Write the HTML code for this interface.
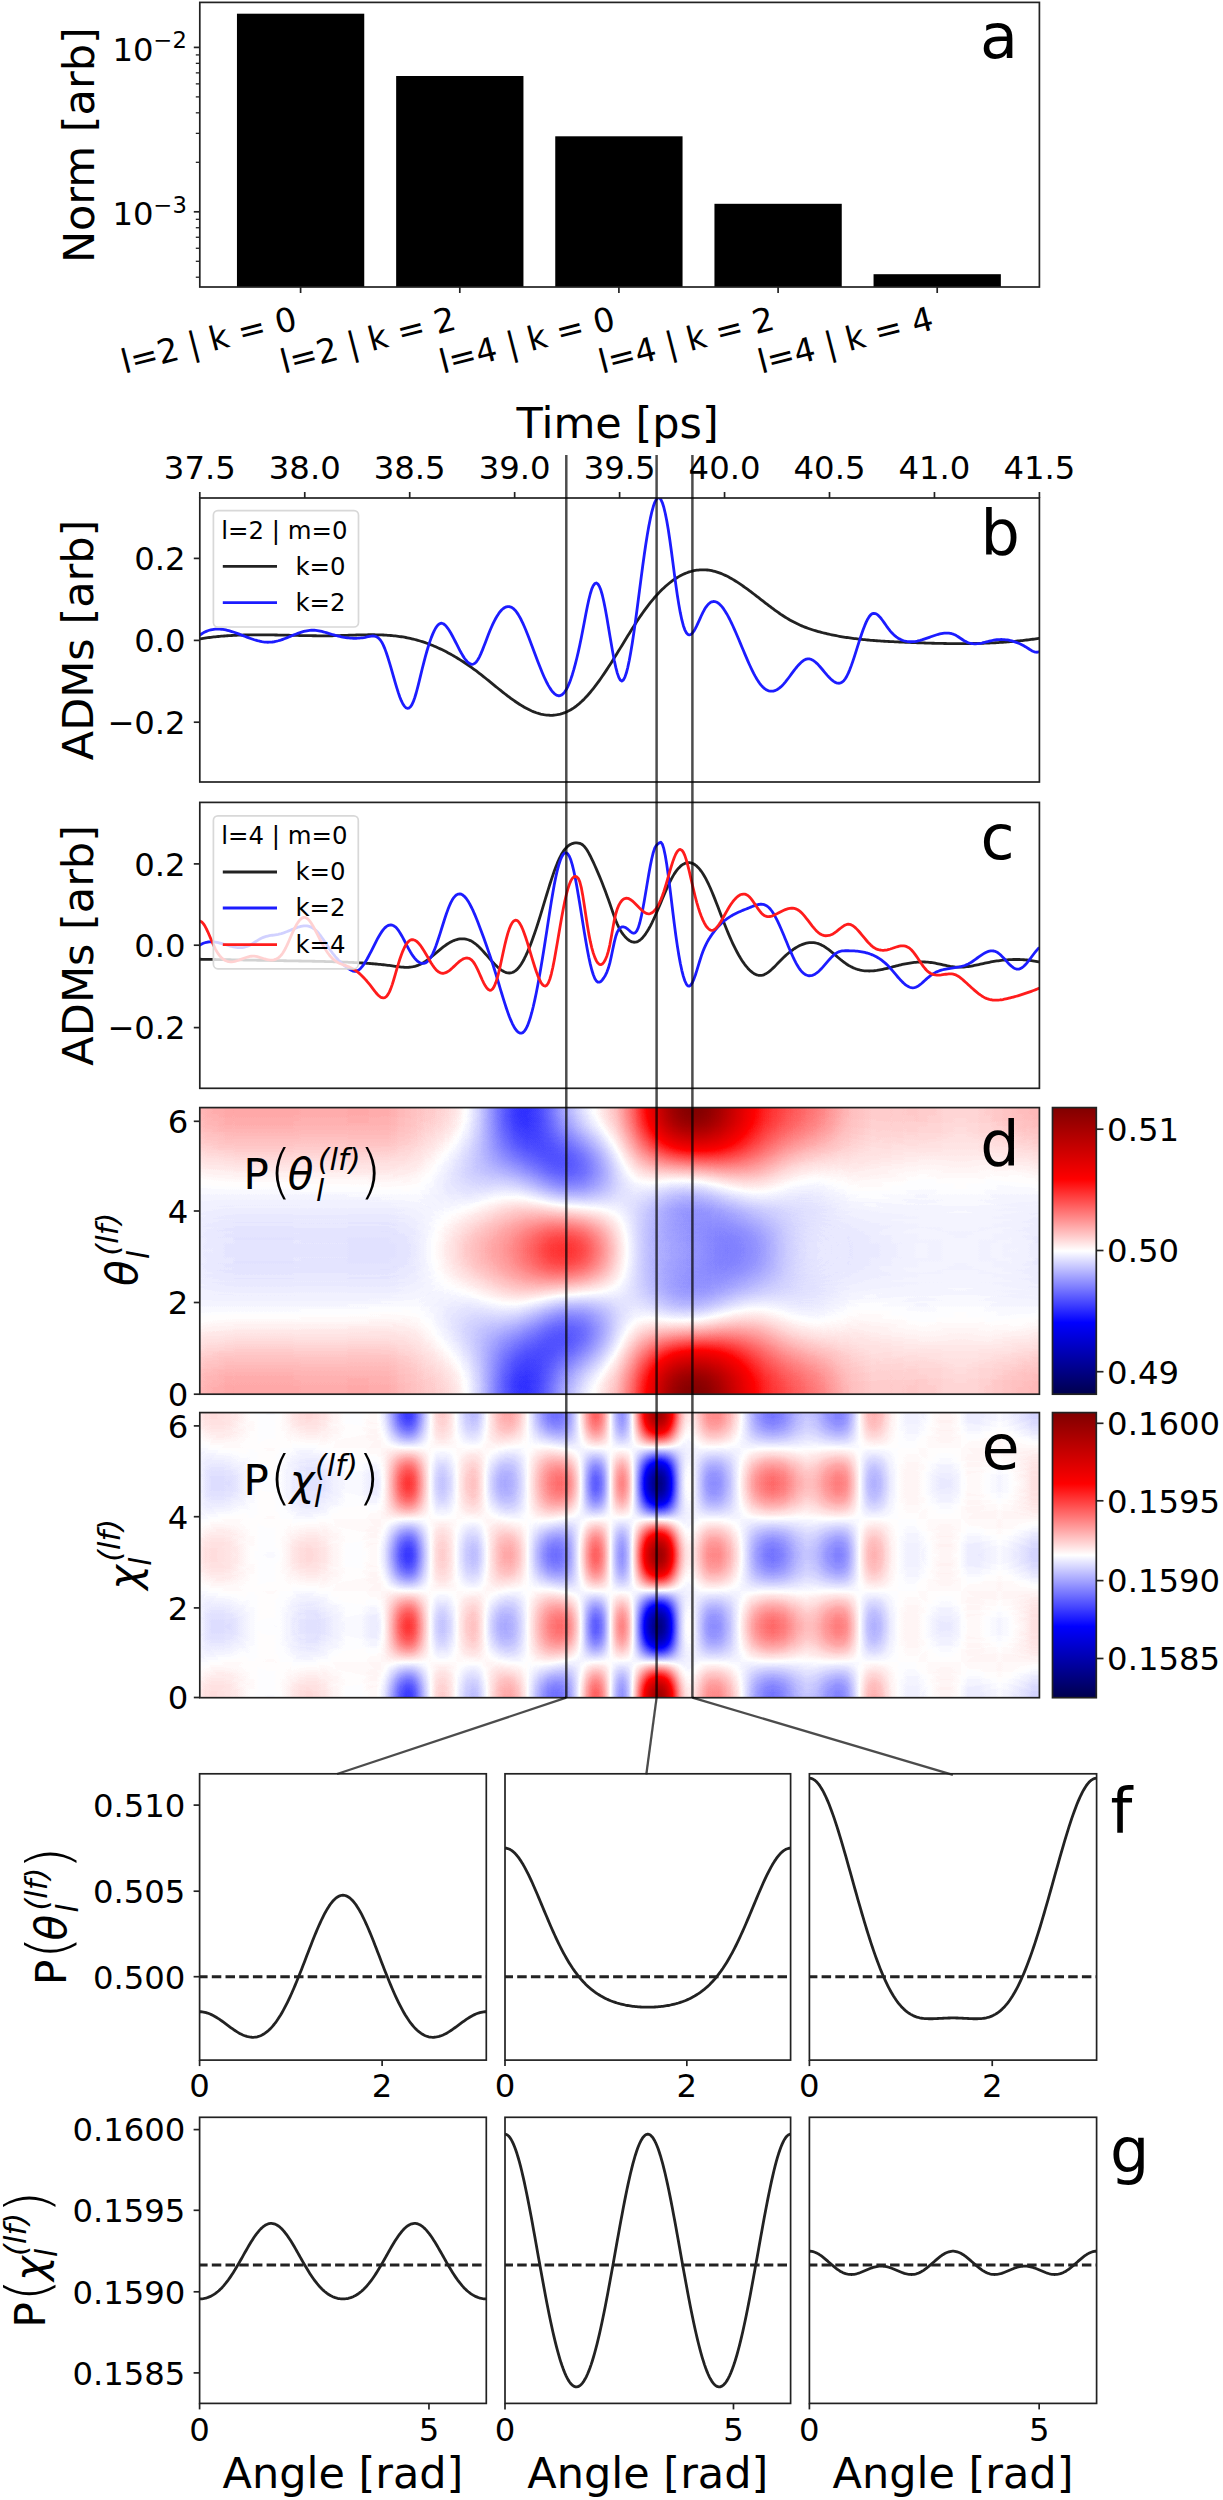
<!DOCTYPE html>
<html><head><meta charset="utf-8"><title>figure</title><style>html,body{margin:0;padding:0;background:#fff}svg{display:block}</style></head><body>
<svg width="1223" height="2500" viewBox="0 0 1223 2500" font-family='"DejaVu Sans", "Liberation Sans", sans-serif'>
<defs>
<filter id="hef" filterUnits="userSpaceOnUse" x="195" y="1408" width="849" height="592" color-interpolation-filters="sRGB"><feOffset in="SourceGraphic" dy="-298" result="F"/><feComposite in="SourceGraphic" in2="F" operator="arithmetic" k1="2" k2="-1" k3="-1" k4="1" x="199" y="1412" width="841" height="286" result="P"/><feColorMatrix in="P" type="matrix" values="0.8685 0.0309 0.0000 0 0.0503 0.8685 0.0309 0.0000 0 0.0503 0.8685 0.0309 0.0000 0 0.0503 0 0 0 0 1" result="S"/><feComponentTransfer in="S"><feFuncR type="table" tableValues="0 0 1 1 0.5"/><feFuncG type="table" tableValues="0 0 1 0 0"/><feFuncB type="table" tableValues="0.3 1 1 0 0"/></feComponentTransfer></filter>
<linearGradient id="hey" gradientUnits="userSpaceOnUse" x1="0" y1="1710" x2="0" y2="1996"><stop offset="0.0000" stop-color="#ffff80"/><stop offset="0.0208" stop-color="#fbee80"/><stop offset="0.0417" stop-color="#eebf80"/><stop offset="0.0625" stop-color="#da7f80"/><stop offset="0.0833" stop-color="#bf4080"/><stop offset="0.1042" stop-color="#a01180"/><stop offset="0.1250" stop-color="#7f0080"/><stop offset="0.1458" stop-color="#5f1180"/><stop offset="0.1667" stop-color="#404080"/><stop offset="0.1875" stop-color="#257f80"/><stop offset="0.2083" stop-color="#11bf80"/><stop offset="0.2292" stop-color="#04ee80"/><stop offset="0.2500" stop-color="#00ff80"/><stop offset="0.2708" stop-color="#04ee80"/><stop offset="0.2917" stop-color="#11bf80"/><stop offset="0.3125" stop-color="#258080"/><stop offset="0.3333" stop-color="#404080"/><stop offset="0.3542" stop-color="#5f1180"/><stop offset="0.3750" stop-color="#800080"/><stop offset="0.3958" stop-color="#a01180"/><stop offset="0.4167" stop-color="#bf4080"/><stop offset="0.4375" stop-color="#da8080"/><stop offset="0.4583" stop-color="#eebf80"/><stop offset="0.4792" stop-color="#fbee80"/><stop offset="0.5000" stop-color="#ffff80"/><stop offset="0.5208" stop-color="#fbee80"/><stop offset="0.5417" stop-color="#eebf80"/><stop offset="0.5625" stop-color="#da8080"/><stop offset="0.5833" stop-color="#bf4080"/><stop offset="0.6042" stop-color="#a01180"/><stop offset="0.6250" stop-color="#800080"/><stop offset="0.6458" stop-color="#5f1180"/><stop offset="0.6667" stop-color="#404080"/><stop offset="0.6875" stop-color="#257f80"/><stop offset="0.7083" stop-color="#11bf80"/><stop offset="0.7292" stop-color="#04ee80"/><stop offset="0.7500" stop-color="#00ff80"/><stop offset="0.7708" stop-color="#04ee80"/><stop offset="0.7917" stop-color="#11bf80"/><stop offset="0.8125" stop-color="#258080"/><stop offset="0.8333" stop-color="#404080"/><stop offset="0.8542" stop-color="#5f1180"/><stop offset="0.8750" stop-color="#800080"/><stop offset="0.8958" stop-color="#a01180"/><stop offset="0.9167" stop-color="#bf4080"/><stop offset="0.9375" stop-color="#da7f80"/><stop offset="0.9583" stop-color="#eebf80"/><stop offset="0.9792" stop-color="#fbee80"/><stop offset="1.0000" stop-color="#ffff80"/></linearGradient>
<linearGradient id="hex" gradientUnits="userSpaceOnUse" x1="199" y1="0" x2="1040" y2="0"><stop offset="0.0000" stop-color="#839f80"/><stop offset="0.0036" stop-color="#859e80"/><stop offset="0.0071" stop-color="#879980"/><stop offset="0.0107" stop-color="#889180"/><stop offset="0.0143" stop-color="#898780"/><stop offset="0.0179" stop-color="#897e80"/><stop offset="0.0214" stop-color="#897780"/><stop offset="0.0250" stop-color="#897180"/><stop offset="0.0286" stop-color="#896d80"/><stop offset="0.0321" stop-color="#886b80"/><stop offset="0.0357" stop-color="#886a80"/><stop offset="0.0393" stop-color="#876980"/><stop offset="0.0429" stop-color="#866a80"/><stop offset="0.0464" stop-color="#856b80"/><stop offset="0.0500" stop-color="#846d80"/><stop offset="0.0536" stop-color="#836e80"/><stop offset="0.0571" stop-color="#827080"/><stop offset="0.0607" stop-color="#817180"/><stop offset="0.0643" stop-color="#817180"/><stop offset="0.0679" stop-color="#807080"/><stop offset="0.0714" stop-color="#7f7080"/><stop offset="0.0750" stop-color="#7f6e80"/><stop offset="0.0786" stop-color="#7f6d80"/><stop offset="0.0821" stop-color="#7f6c80"/><stop offset="0.0857" stop-color="#7f6c80"/><stop offset="0.0893" stop-color="#7f6c80"/><stop offset="0.0929" stop-color="#806e80"/><stop offset="0.0964" stop-color="#807180"/><stop offset="0.1000" stop-color="#817680"/><stop offset="0.1036" stop-color="#827d80"/><stop offset="0.1071" stop-color="#838680"/><stop offset="0.1107" stop-color="#858f80"/><stop offset="0.1143" stop-color="#869780"/><stop offset="0.1179" stop-color="#879e80"/><stop offset="0.1214" stop-color="#88a380"/><stop offset="0.1250" stop-color="#88a580"/><stop offset="0.1286" stop-color="#89a380"/><stop offset="0.1321" stop-color="#899f80"/><stop offset="0.1357" stop-color="#899980"/><stop offset="0.1393" stop-color="#899180"/><stop offset="0.1429" stop-color="#888980"/><stop offset="0.1464" stop-color="#878280"/><stop offset="0.1500" stop-color="#877b80"/><stop offset="0.1536" stop-color="#857480"/><stop offset="0.1571" stop-color="#847080"/><stop offset="0.1607" stop-color="#836c80"/><stop offset="0.1643" stop-color="#836980"/><stop offset="0.1679" stop-color="#826780"/><stop offset="0.1714" stop-color="#816580"/><stop offset="0.1750" stop-color="#806480"/><stop offset="0.1786" stop-color="#806380"/><stop offset="0.1821" stop-color="#806180"/><stop offset="0.1857" stop-color="#805e80"/><stop offset="0.1893" stop-color="#805b80"/><stop offset="0.1929" stop-color="#805880"/><stop offset="0.1964" stop-color="#815480"/><stop offset="0.2000" stop-color="#824f80"/><stop offset="0.2036" stop-color="#834a80"/><stop offset="0.2071" stop-color="#834580"/><stop offset="0.2107" stop-color="#834080"/><stop offset="0.2143" stop-color="#813c80"/><stop offset="0.2179" stop-color="#7e3980"/><stop offset="0.2214" stop-color="#793a80"/><stop offset="0.2250" stop-color="#713e80"/><stop offset="0.2286" stop-color="#694780"/><stop offset="0.2321" stop-color="#605480"/><stop offset="0.2357" stop-color="#576280"/><stop offset="0.2393" stop-color="#4f6f80"/><stop offset="0.2429" stop-color="#4a7980"/><stop offset="0.2464" stop-color="#468180"/><stop offset="0.2500" stop-color="#468580"/><stop offset="0.2536" stop-color="#498780"/><stop offset="0.2571" stop-color="#4f8680"/><stop offset="0.2607" stop-color="#598380"/><stop offset="0.2643" stop-color="#637e80"/><stop offset="0.2679" stop-color="#6d7780"/><stop offset="0.2714" stop-color="#767180"/><stop offset="0.2750" stop-color="#7f6a80"/><stop offset="0.2786" stop-color="#856480"/><stop offset="0.2821" stop-color="#8b5e80"/><stop offset="0.2857" stop-color="#8e5b80"/><stop offset="0.2893" stop-color="#8f5a80"/><stop offset="0.2929" stop-color="#8e5b80"/><stop offset="0.2964" stop-color="#8b5d80"/><stop offset="0.3000" stop-color="#886080"/><stop offset="0.3036" stop-color="#836480"/><stop offset="0.3071" stop-color="#7e6780"/><stop offset="0.3107" stop-color="#796b80"/><stop offset="0.3143" stop-color="#756d80"/><stop offset="0.3179" stop-color="#716e80"/><stop offset="0.3214" stop-color="#6f6e80"/><stop offset="0.3250" stop-color="#6d6b80"/><stop offset="0.3286" stop-color="#6e6580"/><stop offset="0.3321" stop-color="#715d80"/><stop offset="0.3357" stop-color="#765480"/><stop offset="0.3393" stop-color="#7c4c80"/><stop offset="0.3429" stop-color="#824680"/><stop offset="0.3464" stop-color="#884380"/><stop offset="0.3500" stop-color="#8d4780"/><stop offset="0.3536" stop-color="#915080"/><stop offset="0.3571" stop-color="#955f80"/><stop offset="0.3607" stop-color="#977180"/><stop offset="0.3643" stop-color="#988380"/><stop offset="0.3679" stop-color="#989280"/><stop offset="0.3714" stop-color="#979c80"/><stop offset="0.3750" stop-color="#95a080"/><stop offset="0.3786" stop-color="#91a080"/><stop offset="0.3821" stop-color="#8d9b80"/><stop offset="0.3857" stop-color="#889280"/><stop offset="0.3893" stop-color="#828780"/><stop offset="0.3929" stop-color="#7c7a80"/><stop offset="0.3964" stop-color="#766d80"/><stop offset="0.4000" stop-color="#706080"/><stop offset="0.4036" stop-color="#6a5580"/><stop offset="0.4071" stop-color="#654d80"/><stop offset="0.4107" stop-color="#604980"/><stop offset="0.4143" stop-color="#5c4b80"/><stop offset="0.4179" stop-color="#595580"/><stop offset="0.4214" stop-color="#576680"/><stop offset="0.4250" stop-color="#567c80"/><stop offset="0.4286" stop-color="#569380"/><stop offset="0.4321" stop-color="#57aa80"/><stop offset="0.4357" stop-color="#5abe80"/><stop offset="0.4393" stop-color="#5fcd80"/><stop offset="0.4429" stop-color="#65d780"/><stop offset="0.4464" stop-color="#6ddb80"/><stop offset="0.4500" stop-color="#76da80"/><stop offset="0.4536" stop-color="#81d180"/><stop offset="0.4571" stop-color="#8cbc80"/><stop offset="0.4607" stop-color="#99a280"/><stop offset="0.4643" stop-color="#a38a80"/><stop offset="0.4679" stop-color="#ab7980"/><stop offset="0.4714" stop-color="#ae6d80"/><stop offset="0.4750" stop-color="#ac6780"/><stop offset="0.4786" stop-color="#a66680"/><stop offset="0.4821" stop-color="#9c6a80"/><stop offset="0.4857" stop-color="#8e7480"/><stop offset="0.4893" stop-color="#808480"/><stop offset="0.4929" stop-color="#729b80"/><stop offset="0.4964" stop-color="#67ad80"/><stop offset="0.5000" stop-color="#60b780"/><stop offset="0.5036" stop-color="#5ebc80"/><stop offset="0.5071" stop-color="#63be80"/><stop offset="0.5107" stop-color="#6cbe80"/><stop offset="0.5143" stop-color="#7abb80"/><stop offset="0.5179" stop-color="#8bb880"/><stop offset="0.5214" stop-color="#9eb480"/><stop offset="0.5250" stop-color="#b2b080"/><stop offset="0.5286" stop-color="#c6ac80"/><stop offset="0.5321" stop-color="#d9aa80"/><stop offset="0.5357" stop-color="#e8a980"/><stop offset="0.5393" stop-color="#f4ab80"/><stop offset="0.5429" stop-color="#fcaf80"/><stop offset="0.5464" stop-color="#ffb680"/><stop offset="0.5500" stop-color="#fcbf80"/><stop offset="0.5536" stop-color="#f4ca80"/><stop offset="0.5571" stop-color="#e6d780"/><stop offset="0.5607" stop-color="#d4e580"/><stop offset="0.5643" stop-color="#bff280"/><stop offset="0.5679" stop-color="#abfb80"/><stop offset="0.5714" stop-color="#99ff80"/><stop offset="0.5750" stop-color="#8dfd80"/><stop offset="0.5786" stop-color="#85f480"/><stop offset="0.5821" stop-color="#82e680"/><stop offset="0.5857" stop-color="#83d580"/><stop offset="0.5893" stop-color="#86c380"/><stop offset="0.5929" stop-color="#8cb580"/><stop offset="0.5964" stop-color="#92a980"/><stop offset="0.6000" stop-color="#989f80"/><stop offset="0.6036" stop-color="#9d9880"/><stop offset="0.6071" stop-color="#a09480"/><stop offset="0.6107" stop-color="#a19380"/><stop offset="0.6143" stop-color="#a19680"/><stop offset="0.6179" stop-color="#a09a80"/><stop offset="0.6214" stop-color="#9ea180"/><stop offset="0.6250" stop-color="#9aa880"/><stop offset="0.6286" stop-color="#96af80"/><stop offset="0.6321" stop-color="#92b580"/><stop offset="0.6357" stop-color="#8cbb80"/><stop offset="0.6393" stop-color="#87bf80"/><stop offset="0.6429" stop-color="#81c280"/><stop offset="0.6464" stop-color="#7bc480"/><stop offset="0.6500" stop-color="#75c380"/><stop offset="0.6536" stop-color="#6fc180"/><stop offset="0.6571" stop-color="#69bc80"/><stop offset="0.6607" stop-color="#64b780"/><stop offset="0.6643" stop-color="#60b180"/><stop offset="0.6679" stop-color="#5dab80"/><stop offset="0.6714" stop-color="#5aa880"/><stop offset="0.6750" stop-color="#58a680"/><stop offset="0.6786" stop-color="#57a680"/><stop offset="0.6821" stop-color="#56a780"/><stop offset="0.6857" stop-color="#57a980"/><stop offset="0.6893" stop-color="#58ab80"/><stop offset="0.6929" stop-color="#5aad80"/><stop offset="0.6964" stop-color="#5caf80"/><stop offset="0.7000" stop-color="#5fb080"/><stop offset="0.7036" stop-color="#62b180"/><stop offset="0.7071" stop-color="#65b180"/><stop offset="0.7107" stop-color="#68af80"/><stop offset="0.7143" stop-color="#6aad80"/><stop offset="0.7179" stop-color="#6ca980"/><stop offset="0.7214" stop-color="#6ea480"/><stop offset="0.7250" stop-color="#6e9f80"/><stop offset="0.7286" stop-color="#6d9a80"/><stop offset="0.7321" stop-color="#6c9580"/><stop offset="0.7357" stop-color="#6a9180"/><stop offset="0.7393" stop-color="#678e80"/><stop offset="0.7429" stop-color="#648c80"/><stop offset="0.7464" stop-color="#618c80"/><stop offset="0.7500" stop-color="#5f8d80"/><stop offset="0.7536" stop-color="#5d8e80"/><stop offset="0.7571" stop-color="#5b9180"/><stop offset="0.7607" stop-color="#5b9480"/><stop offset="0.7643" stop-color="#5c9780"/><stop offset="0.7679" stop-color="#5e9a80"/><stop offset="0.7714" stop-color="#629b80"/><stop offset="0.7750" stop-color="#699b80"/><stop offset="0.7786" stop-color="#709980"/><stop offset="0.7821" stop-color="#789580"/><stop offset="0.7857" stop-color="#809180"/><stop offset="0.7893" stop-color="#878c80"/><stop offset="0.7929" stop-color="#8e8780"/><stop offset="0.7964" stop-color="#938280"/><stop offset="0.8000" stop-color="#957e80"/><stop offset="0.8036" stop-color="#967c80"/><stop offset="0.8071" stop-color="#947a80"/><stop offset="0.8107" stop-color="#927980"/><stop offset="0.8143" stop-color="#8e7980"/><stop offset="0.8179" stop-color="#8a7980"/><stop offset="0.8214" stop-color="#867a80"/><stop offset="0.8250" stop-color="#837c80"/><stop offset="0.8286" stop-color="#817d80"/><stop offset="0.8321" stop-color="#7f7e80"/><stop offset="0.8357" stop-color="#7e7f80"/><stop offset="0.8393" stop-color="#7d7e80"/><stop offset="0.8429" stop-color="#7c7d80"/><stop offset="0.8464" stop-color="#7c7a80"/><stop offset="0.8500" stop-color="#7c7580"/><stop offset="0.8536" stop-color="#7c7080"/><stop offset="0.8571" stop-color="#7d6a80"/><stop offset="0.8607" stop-color="#7e6480"/><stop offset="0.8643" stop-color="#7f5f80"/><stop offset="0.8679" stop-color="#805b80"/><stop offset="0.8714" stop-color="#815980"/><stop offset="0.8750" stop-color="#825880"/><stop offset="0.8786" stop-color="#835880"/><stop offset="0.8821" stop-color="#845880"/><stop offset="0.8857" stop-color="#845880"/><stop offset="0.8893" stop-color="#845980"/><stop offset="0.8929" stop-color="#845980"/><stop offset="0.8964" stop-color="#835980"/><stop offset="0.9000" stop-color="#825880"/><stop offset="0.9036" stop-color="#815680"/><stop offset="0.9071" stop-color="#7f5380"/><stop offset="0.9107" stop-color="#7e4f80"/><stop offset="0.9143" stop-color="#7c4b80"/><stop offset="0.9179" stop-color="#7c4880"/><stop offset="0.9214" stop-color="#7c4480"/><stop offset="0.9250" stop-color="#7c4180"/><stop offset="0.9286" stop-color="#7c3e80"/><stop offset="0.9321" stop-color="#7d3b80"/><stop offset="0.9357" stop-color="#7e3980"/><stop offset="0.9393" stop-color="#7e3780"/><stop offset="0.9429" stop-color="#7f3780"/><stop offset="0.9464" stop-color="#7f3680"/><stop offset="0.9500" stop-color="#803680"/><stop offset="0.9536" stop-color="#803780"/><stop offset="0.9571" stop-color="#7f3780"/><stop offset="0.9607" stop-color="#7f3880"/><stop offset="0.9643" stop-color="#7e3980"/><stop offset="0.9679" stop-color="#7d3a80"/><stop offset="0.9714" stop-color="#7c3b80"/><stop offset="0.9750" stop-color="#7b3d80"/><stop offset="0.9786" stop-color="#7a3e80"/><stop offset="0.9821" stop-color="#793f80"/><stop offset="0.9857" stop-color="#784080"/><stop offset="0.9893" stop-color="#764280"/><stop offset="0.9929" stop-color="#754380"/><stop offset="0.9964" stop-color="#754580"/><stop offset="1.0000" stop-color="#764680"/></linearGradient>
<filter id="hdf" filterUnits="userSpaceOnUse" x="195" y="1103" width="849" height="594" color-interpolation-filters="sRGB"><feOffset in="SourceGraphic" dy="-299" result="F"/><feComposite in="SourceGraphic" in2="F" operator="arithmetic" k1="2" k2="-1" k3="-1" k4="1" x="199" y="1107" width="841" height="287" result="P"/><feColorMatrix in="P" type="matrix" values="0.6704 0.3808 0.0000 0 -0.0256 0.6704 0.3808 0.0000 0 -0.0256 0.6704 0.3808 0.0000 0 -0.0256 0 0 0 0 1" result="S"/><feComponentTransfer in="S"><feFuncR type="table" tableValues="0 0 1 1 0.5"/><feFuncG type="table" tableValues="0 0 1 0 0"/><feFuncB type="table" tableValues="0.3 1 1 0 0"/></feComponentTransfer></filter>
<linearGradient id="hdy" gradientUnits="userSpaceOnUse" x1="0" y1="1406" x2="0" y2="1693"><stop offset="0.0000" stop-color="#ffff80"/><stop offset="0.0208" stop-color="#fefc80"/><stop offset="0.0417" stop-color="#fcf480"/><stop offset="0.0625" stop-color="#f8e880"/><stop offset="0.0833" stop-color="#f2d780"/><stop offset="0.1042" stop-color="#ebc380"/><stop offset="0.1250" stop-color="#e3ae80"/><stop offset="0.1458" stop-color="#da9880"/><stop offset="0.1667" stop-color="#cf8280"/><stop offset="0.1875" stop-color="#c46f80"/><stop offset="0.2083" stop-color="#b85f80"/><stop offset="0.2292" stop-color="#ac5380"/><stop offset="0.2500" stop-color="#9f4c80"/><stop offset="0.2708" stop-color="#934980"/><stop offset="0.2917" stop-color="#874b80"/><stop offset="0.3125" stop-color="#7b5180"/><stop offset="0.3333" stop-color="#705b80"/><stop offset="0.3542" stop-color="#656780"/><stop offset="0.3750" stop-color="#5c7580"/><stop offset="0.3958" stop-color="#548480"/><stop offset="0.4167" stop-color="#4d9280"/><stop offset="0.4375" stop-color="#479e80"/><stop offset="0.4583" stop-color="#43a780"/><stop offset="0.4792" stop-color="#41ad80"/><stop offset="0.5000" stop-color="#40af80"/><stop offset="0.5208" stop-color="#41ad80"/><stop offset="0.5417" stop-color="#43a780"/><stop offset="0.5625" stop-color="#479e80"/><stop offset="0.5833" stop-color="#4d9280"/><stop offset="0.6042" stop-color="#548480"/><stop offset="0.6250" stop-color="#5c7580"/><stop offset="0.6458" stop-color="#656780"/><stop offset="0.6667" stop-color="#705b80"/><stop offset="0.6875" stop-color="#7b5180"/><stop offset="0.7083" stop-color="#874b80"/><stop offset="0.7292" stop-color="#934980"/><stop offset="0.7500" stop-color="#9f4c80"/><stop offset="0.7708" stop-color="#ac5380"/><stop offset="0.7917" stop-color="#b85f80"/><stop offset="0.8125" stop-color="#c46f80"/><stop offset="0.8333" stop-color="#cf8280"/><stop offset="0.8542" stop-color="#da9880"/><stop offset="0.8750" stop-color="#e3ae80"/><stop offset="0.8958" stop-color="#ebc380"/><stop offset="0.9167" stop-color="#f2d780"/><stop offset="0.9375" stop-color="#f8e880"/><stop offset="0.9583" stop-color="#fcf480"/><stop offset="0.9792" stop-color="#fefc80"/><stop offset="1.0000" stop-color="#ffff80"/></linearGradient>
<linearGradient id="hdx" gradientUnits="userSpaceOnUse" x1="199" y1="0" x2="1040" y2="0"><stop offset="0.0000" stop-color="#938d80"/><stop offset="0.0036" stop-color="#938d80"/><stop offset="0.0071" stop-color="#948d80"/><stop offset="0.0107" stop-color="#958d80"/><stop offset="0.0143" stop-color="#958d80"/><stop offset="0.0179" stop-color="#968d80"/><stop offset="0.0214" stop-color="#968d80"/><stop offset="0.0250" stop-color="#978d80"/><stop offset="0.0286" stop-color="#978d80"/><stop offset="0.0321" stop-color="#988d80"/><stop offset="0.0357" stop-color="#988d80"/><stop offset="0.0393" stop-color="#988d80"/><stop offset="0.0429" stop-color="#998c80"/><stop offset="0.0464" stop-color="#998c80"/><stop offset="0.0500" stop-color="#998c80"/><stop offset="0.0536" stop-color="#998c80"/><stop offset="0.0571" stop-color="#998c80"/><stop offset="0.0607" stop-color="#998c80"/><stop offset="0.0643" stop-color="#998c80"/><stop offset="0.0679" stop-color="#998c80"/><stop offset="0.0714" stop-color="#998c80"/><stop offset="0.0750" stop-color="#998c80"/><stop offset="0.0786" stop-color="#998c80"/><stop offset="0.0821" stop-color="#998c80"/><stop offset="0.0857" stop-color="#998c80"/><stop offset="0.0893" stop-color="#998c80"/><stop offset="0.0929" stop-color="#998c80"/><stop offset="0.0964" stop-color="#998c80"/><stop offset="0.1000" stop-color="#998c80"/><stop offset="0.1036" stop-color="#998c80"/><stop offset="0.1071" stop-color="#998c80"/><stop offset="0.1107" stop-color="#998c80"/><stop offset="0.1143" stop-color="#988c80"/><stop offset="0.1179" stop-color="#988c80"/><stop offset="0.1214" stop-color="#988b80"/><stop offset="0.1250" stop-color="#988b80"/><stop offset="0.1286" stop-color="#988b80"/><stop offset="0.1321" stop-color="#988b80"/><stop offset="0.1357" stop-color="#988b80"/><stop offset="0.1393" stop-color="#988b80"/><stop offset="0.1429" stop-color="#988b80"/><stop offset="0.1464" stop-color="#988b80"/><stop offset="0.1500" stop-color="#988b80"/><stop offset="0.1536" stop-color="#988b80"/><stop offset="0.1571" stop-color="#988b80"/><stop offset="0.1607" stop-color="#988b80"/><stop offset="0.1643" stop-color="#988b80"/><stop offset="0.1679" stop-color="#988b80"/><stop offset="0.1714" stop-color="#988b80"/><stop offset="0.1750" stop-color="#988b80"/><stop offset="0.1786" stop-color="#998a80"/><stop offset="0.1821" stop-color="#998a80"/><stop offset="0.1857" stop-color="#998a80"/><stop offset="0.1893" stop-color="#998a80"/><stop offset="0.1929" stop-color="#998a80"/><stop offset="0.1964" stop-color="#998a80"/><stop offset="0.2000" stop-color="#998a80"/><stop offset="0.2036" stop-color="#998980"/><stop offset="0.2071" stop-color="#998980"/><stop offset="0.2107" stop-color="#998980"/><stop offset="0.2143" stop-color="#998980"/><stop offset="0.2179" stop-color="#998880"/><stop offset="0.2214" stop-color="#998880"/><stop offset="0.2250" stop-color="#998880"/><stop offset="0.2286" stop-color="#988880"/><stop offset="0.2321" stop-color="#988780"/><stop offset="0.2357" stop-color="#978780"/><stop offset="0.2393" stop-color="#968780"/><stop offset="0.2429" stop-color="#968680"/><stop offset="0.2464" stop-color="#958680"/><stop offset="0.2500" stop-color="#948680"/><stop offset="0.2536" stop-color="#938780"/><stop offset="0.2571" stop-color="#928780"/><stop offset="0.2607" stop-color="#908880"/><stop offset="0.2643" stop-color="#8f8a80"/><stop offset="0.2679" stop-color="#8d8b80"/><stop offset="0.2714" stop-color="#8b8d80"/><stop offset="0.2750" stop-color="#8a8f80"/><stop offset="0.2786" stop-color="#889280"/><stop offset="0.2821" stop-color="#859480"/><stop offset="0.2857" stop-color="#839780"/><stop offset="0.2893" stop-color="#819980"/><stop offset="0.2929" stop-color="#7e9c80"/><stop offset="0.2964" stop-color="#7c9e80"/><stop offset="0.3000" stop-color="#79a080"/><stop offset="0.3036" stop-color="#76a280"/><stop offset="0.3071" stop-color="#73a480"/><stop offset="0.3107" stop-color="#70a580"/><stop offset="0.3143" stop-color="#6ca680"/><stop offset="0.3179" stop-color="#69a780"/><stop offset="0.3214" stop-color="#66a780"/><stop offset="0.3250" stop-color="#62a680"/><stop offset="0.3286" stop-color="#5ea580"/><stop offset="0.3321" stop-color="#5ba480"/><stop offset="0.3357" stop-color="#57a280"/><stop offset="0.3393" stop-color="#539f80"/><stop offset="0.3429" stop-color="#4f9d80"/><stop offset="0.3464" stop-color="#4b9a80"/><stop offset="0.3500" stop-color="#479880"/><stop offset="0.3536" stop-color="#439580"/><stop offset="0.3571" stop-color="#3f9380"/><stop offset="0.3607" stop-color="#3b9180"/><stop offset="0.3643" stop-color="#379080"/><stop offset="0.3679" stop-color="#349080"/><stop offset="0.3714" stop-color="#309080"/><stop offset="0.3750" stop-color="#2c9180"/><stop offset="0.3786" stop-color="#299380"/><stop offset="0.3821" stop-color="#269680"/><stop offset="0.3857" stop-color="#239b80"/><stop offset="0.3893" stop-color="#20a080"/><stop offset="0.3929" stop-color="#1ea680"/><stop offset="0.3964" stop-color="#1cad80"/><stop offset="0.4000" stop-color="#1ab480"/><stop offset="0.4036" stop-color="#18bc80"/><stop offset="0.4071" stop-color="#17c480"/><stop offset="0.4107" stop-color="#16cd80"/><stop offset="0.4143" stop-color="#15d580"/><stop offset="0.4179" stop-color="#15dd80"/><stop offset="0.4214" stop-color="#15e580"/><stop offset="0.4250" stop-color="#16ec80"/><stop offset="0.4286" stop-color="#17f280"/><stop offset="0.4321" stop-color="#18f780"/><stop offset="0.4357" stop-color="#1afa80"/><stop offset="0.4393" stop-color="#1cfd80"/><stop offset="0.4429" stop-color="#1ffe80"/><stop offset="0.4464" stop-color="#22ff80"/><stop offset="0.4500" stop-color="#26ff80"/><stop offset="0.4536" stop-color="#2afe80"/><stop offset="0.4571" stop-color="#2efd80"/><stop offset="0.4607" stop-color="#33fa80"/><stop offset="0.4643" stop-color="#39f580"/><stop offset="0.4679" stop-color="#3ff080"/><stop offset="0.4714" stop-color="#45ea80"/><stop offset="0.4750" stop-color="#4be580"/><stop offset="0.4786" stop-color="#52de80"/><stop offset="0.4821" stop-color="#59d880"/><stop offset="0.4857" stop-color="#60d180"/><stop offset="0.4893" stop-color="#68ca80"/><stop offset="0.4929" stop-color="#6fc280"/><stop offset="0.4964" stop-color="#77bb80"/><stop offset="0.5000" stop-color="#7fb680"/><stop offset="0.5036" stop-color="#87b280"/><stop offset="0.5071" stop-color="#8faf80"/><stop offset="0.5107" stop-color="#97ac80"/><stop offset="0.5143" stop-color="#9eab80"/><stop offset="0.5179" stop-color="#a6aa80"/><stop offset="0.5214" stop-color="#aeab80"/><stop offset="0.5250" stop-color="#b5ad80"/><stop offset="0.5286" stop-color="#bcaf80"/><stop offset="0.5321" stop-color="#c2b380"/><stop offset="0.5357" stop-color="#c9b780"/><stop offset="0.5393" stop-color="#cfbc80"/><stop offset="0.5429" stop-color="#d4c280"/><stop offset="0.5464" stop-color="#d9c880"/><stop offset="0.5500" stop-color="#dece80"/><stop offset="0.5536" stop-color="#e3d480"/><stop offset="0.5571" stop-color="#e7da80"/><stop offset="0.5607" stop-color="#ebdf80"/><stop offset="0.5643" stop-color="#efe480"/><stop offset="0.5679" stop-color="#f2e780"/><stop offset="0.5714" stop-color="#f5ea80"/><stop offset="0.5750" stop-color="#f7ed80"/><stop offset="0.5786" stop-color="#f9ee80"/><stop offset="0.5821" stop-color="#fbee80"/><stop offset="0.5857" stop-color="#fdee80"/><stop offset="0.5893" stop-color="#feed80"/><stop offset="0.5929" stop-color="#feeb80"/><stop offset="0.5964" stop-color="#ffe880"/><stop offset="0.6000" stop-color="#ffe480"/><stop offset="0.6036" stop-color="#ffdf80"/><stop offset="0.6071" stop-color="#feda80"/><stop offset="0.6107" stop-color="#fdd480"/><stop offset="0.6143" stop-color="#fccd80"/><stop offset="0.6179" stop-color="#fbc780"/><stop offset="0.6214" stop-color="#f9c080"/><stop offset="0.6250" stop-color="#f7b980"/><stop offset="0.6286" stop-color="#f4b380"/><stop offset="0.6321" stop-color="#f2ad80"/><stop offset="0.6357" stop-color="#efa880"/><stop offset="0.6393" stop-color="#eca280"/><stop offset="0.6429" stop-color="#e99e80"/><stop offset="0.6464" stop-color="#e59a80"/><stop offset="0.6500" stop-color="#e29680"/><stop offset="0.6536" stop-color="#de9380"/><stop offset="0.6571" stop-color="#db9080"/><stop offset="0.6607" stop-color="#d78e80"/><stop offset="0.6643" stop-color="#d48d80"/><stop offset="0.6679" stop-color="#d08d80"/><stop offset="0.6714" stop-color="#cc8d80"/><stop offset="0.6750" stop-color="#c88e80"/><stop offset="0.6786" stop-color="#c59080"/><stop offset="0.6821" stop-color="#c19280"/><stop offset="0.6857" stop-color="#be9480"/><stop offset="0.6893" stop-color="#ba9680"/><stop offset="0.6929" stop-color="#b79880"/><stop offset="0.6964" stop-color="#b49a80"/><stop offset="0.7000" stop-color="#b19b80"/><stop offset="0.7036" stop-color="#af9d80"/><stop offset="0.7071" stop-color="#ac9e80"/><stop offset="0.7107" stop-color="#aa9f80"/><stop offset="0.7143" stop-color="#a8a080"/><stop offset="0.7179" stop-color="#a6a080"/><stop offset="0.7214" stop-color="#a4a080"/><stop offset="0.7250" stop-color="#a2a080"/><stop offset="0.7286" stop-color="#a1a080"/><stop offset="0.7321" stop-color="#a09f80"/><stop offset="0.7357" stop-color="#9e9e80"/><stop offset="0.7393" stop-color="#9d9c80"/><stop offset="0.7429" stop-color="#9c9b80"/><stop offset="0.7464" stop-color="#9b9880"/><stop offset="0.7500" stop-color="#9a9680"/><stop offset="0.7536" stop-color="#999480"/><stop offset="0.7571" stop-color="#989180"/><stop offset="0.7607" stop-color="#978f80"/><stop offset="0.7643" stop-color="#968d80"/><stop offset="0.7679" stop-color="#958b80"/><stop offset="0.7714" stop-color="#958980"/><stop offset="0.7750" stop-color="#948780"/><stop offset="0.7786" stop-color="#938680"/><stop offset="0.7821" stop-color="#938580"/><stop offset="0.7857" stop-color="#928480"/><stop offset="0.7893" stop-color="#928480"/><stop offset="0.7929" stop-color="#918380"/><stop offset="0.7964" stop-color="#918380"/><stop offset="0.8000" stop-color="#908380"/><stop offset="0.8036" stop-color="#908380"/><stop offset="0.8071" stop-color="#908480"/><stop offset="0.8107" stop-color="#8f8480"/><stop offset="0.8143" stop-color="#8f8580"/><stop offset="0.8179" stop-color="#8f8580"/><stop offset="0.8214" stop-color="#8f8680"/><stop offset="0.8250" stop-color="#8e8780"/><stop offset="0.8286" stop-color="#8e8780"/><stop offset="0.8321" stop-color="#8e8880"/><stop offset="0.8357" stop-color="#8e8880"/><stop offset="0.8393" stop-color="#8d8980"/><stop offset="0.8429" stop-color="#8d8a80"/><stop offset="0.8464" stop-color="#8d8a80"/><stop offset="0.8500" stop-color="#8d8a80"/><stop offset="0.8536" stop-color="#8d8b80"/><stop offset="0.8571" stop-color="#8c8b80"/><stop offset="0.8607" stop-color="#8c8b80"/><stop offset="0.8643" stop-color="#8c8b80"/><stop offset="0.8679" stop-color="#8c8a80"/><stop offset="0.8714" stop-color="#8c8a80"/><stop offset="0.8750" stop-color="#8c8a80"/><stop offset="0.8786" stop-color="#8c8980"/><stop offset="0.8821" stop-color="#8c8980"/><stop offset="0.8857" stop-color="#8b8880"/><stop offset="0.8893" stop-color="#8b8880"/><stop offset="0.8929" stop-color="#8b8780"/><stop offset="0.8964" stop-color="#8b8780"/><stop offset="0.9000" stop-color="#8b8680"/><stop offset="0.9036" stop-color="#8b8680"/><stop offset="0.9071" stop-color="#8b8680"/><stop offset="0.9107" stop-color="#8b8680"/><stop offset="0.9143" stop-color="#8b8780"/><stop offset="0.9179" stop-color="#8b8780"/><stop offset="0.9214" stop-color="#8b8880"/><stop offset="0.9250" stop-color="#8b8880"/><stop offset="0.9286" stop-color="#8c8980"/><stop offset="0.9321" stop-color="#8c8980"/><stop offset="0.9357" stop-color="#8c8a80"/><stop offset="0.9393" stop-color="#8c8a80"/><stop offset="0.9429" stop-color="#8c8b80"/><stop offset="0.9464" stop-color="#8d8b80"/><stop offset="0.9500" stop-color="#8d8c80"/><stop offset="0.9536" stop-color="#8d8c80"/><stop offset="0.9571" stop-color="#8e8c80"/><stop offset="0.9607" stop-color="#8e8c80"/><stop offset="0.9643" stop-color="#8e8d80"/><stop offset="0.9679" stop-color="#8f8d80"/><stop offset="0.9714" stop-color="#8f8d80"/><stop offset="0.9750" stop-color="#908d80"/><stop offset="0.9786" stop-color="#908d80"/><stop offset="0.9821" stop-color="#918d80"/><stop offset="0.9857" stop-color="#918c80"/><stop offset="0.9893" stop-color="#928c80"/><stop offset="0.9929" stop-color="#938c80"/><stop offset="0.9964" stop-color="#938b80"/><stop offset="1.0000" stop-color="#948b80"/></linearGradient>
<clipPath id="cg809"><rect x="809.4" y="2117.3" width="287.2" height="286.1"/></clipPath>
<clipPath id="cg505"><rect x="505" y="2117.3" width="285.6" height="286.1"/></clipPath>
<clipPath id="cg199"><rect x="199.6" y="2117.3" width="286.7" height="286.1"/></clipPath>
<clipPath id="cf809"><rect x="809.4" y="1773.8" width="287.2" height="286.3"/></clipPath>
<clipPath id="cf505"><rect x="505" y="1773.8" width="285.6" height="286.3"/></clipPath>
<clipPath id="cf199"><rect x="199.6" y="1773.8" width="286.7" height="286.3"/></clipPath>
<linearGradient id="seis" x1="0" y1="1" x2="0" y2="0"><stop offset="0" stop-color="#00004d"/><stop offset="0.25" stop-color="#0000ff"/><stop offset="0.5" stop-color="#ffffff"/><stop offset="0.75" stop-color="#ff0000"/><stop offset="1" stop-color="#800000"/></linearGradient>
<clipPath id="clipc"><rect x="199.8" y="802.4" width="839.6" height="285.9"/></clipPath>
<clipPath id="clipb"><rect x="199.8" y="498" width="839.6" height="284"/></clipPath>
</defs>
<rect width="1223" height="2500" fill="#fff"/>
<rect x="236.95" y="13.7" width="127.3" height="273.3" fill="#000"/>
<rect x="396.15" y="76" width="127.3" height="211" fill="#000"/>
<rect x="555.25" y="136.3" width="127.3" height="150.7" fill="#000"/>
<rect x="714.45" y="203.8" width="127.3" height="83.2" fill="#000"/>
<rect x="873.55" y="274.2" width="127.3" height="12.8" fill="#000"/>
<rect x="199.8" y="2.4" width="839.6" height="284.6" fill="none" stroke="#222" stroke-width="1.7"/>
<line x1="193.8" y1="47.4" x2="199.8" y2="47.4" stroke="#222" stroke-width="1.7"/>
<text x="153.57" y="60.6" font-size="32.3" text-anchor="end">10</text>
<text x="186.9" y="48.3" font-size="22.61" text-anchor="end">−2</text>
<line x1="193.8" y1="211.8" x2="199.8" y2="211.8" stroke="#222" stroke-width="1.7"/>
<text x="153.57" y="225" font-size="32.3" text-anchor="end">10</text>
<text x="186.9" y="212.7" font-size="22.61" text-anchor="end">−3</text>
<line x1="195.8" y1="162.31" x2="199.8" y2="162.31" stroke="#222" stroke-width="1.3"/>
<line x1="195.8" y1="133.36" x2="199.8" y2="133.36" stroke="#222" stroke-width="1.3"/>
<line x1="195.8" y1="112.82" x2="199.8" y2="112.82" stroke="#222" stroke-width="1.3"/>
<line x1="195.8" y1="96.89" x2="199.8" y2="96.89" stroke="#222" stroke-width="1.3"/>
<line x1="195.8" y1="83.87" x2="199.8" y2="83.87" stroke="#222" stroke-width="1.3"/>
<line x1="195.8" y1="72.87" x2="199.8" y2="72.87" stroke="#222" stroke-width="1.3"/>
<line x1="195.8" y1="63.33" x2="199.8" y2="63.33" stroke="#222" stroke-width="1.3"/>
<line x1="195.8" y1="54.92" x2="199.8" y2="54.92" stroke="#222" stroke-width="1.3"/>
<line x1="195.8" y1="277.22" x2="199.8" y2="277.22" stroke="#222" stroke-width="1.3"/>
<line x1="195.8" y1="261.29" x2="199.8" y2="261.29" stroke="#222" stroke-width="1.3"/>
<line x1="195.8" y1="248.27" x2="199.8" y2="248.27" stroke="#222" stroke-width="1.3"/>
<line x1="195.8" y1="237.27" x2="199.8" y2="237.27" stroke="#222" stroke-width="1.3"/>
<line x1="195.8" y1="227.73" x2="199.8" y2="227.73" stroke="#222" stroke-width="1.3"/>
<line x1="195.8" y1="219.32" x2="199.8" y2="219.32" stroke="#222" stroke-width="1.3"/>
<line x1="300.6" y1="287" x2="300.6" y2="293" stroke="#222" stroke-width="1.7"/>
<text transform="translate(298.6,329) rotate(-14.4)" font-size="33.2" text-anchor="end">l=2 | k = 0</text>
<line x1="459.8" y1="287" x2="459.8" y2="293" stroke="#222" stroke-width="1.7"/>
<text transform="translate(457.8,329) rotate(-14.4)" font-size="33.2" text-anchor="end">l=2 | k = 2</text>
<line x1="618.9" y1="287" x2="618.9" y2="293" stroke="#222" stroke-width="1.7"/>
<text transform="translate(616.9,329) rotate(-14.4)" font-size="33.2" text-anchor="end">l=4 | k = 0</text>
<line x1="778.1" y1="287" x2="778.1" y2="293" stroke="#222" stroke-width="1.7"/>
<text transform="translate(776.1,329) rotate(-14.4)" font-size="33.2" text-anchor="end">l=4 | k = 2</text>
<line x1="937.2" y1="287" x2="937.2" y2="293" stroke="#222" stroke-width="1.7"/>
<text transform="translate(935.2,329) rotate(-14.4)" font-size="33.2" text-anchor="end">l=4 | k = 4</text>
<text transform="translate(94.3,145.2) rotate(-90)" font-size="43" text-anchor="middle">Norm [arb]</text>
<text x="1018" y="57.7" font-size="62" text-anchor="end" fill="#000">a</text>
<text x="617.6" y="437.8" font-size="43" text-anchor="middle" fill="#000">Time [ps]</text>
<line x1="199.8" y1="492" x2="199.8" y2="498" stroke="#222" stroke-width="1.7"/>
<text x="199.8" y="478.5" font-size="32.3" text-anchor="middle" fill="#000">37.5</text>
<line x1="304.75" y1="492" x2="304.75" y2="498" stroke="#222" stroke-width="1.7"/>
<text x="304.75" y="478.5" font-size="32.3" text-anchor="middle" fill="#000">38.0</text>
<line x1="409.7" y1="492" x2="409.7" y2="498" stroke="#222" stroke-width="1.7"/>
<text x="409.7" y="478.5" font-size="32.3" text-anchor="middle" fill="#000">38.5</text>
<line x1="514.65" y1="492" x2="514.65" y2="498" stroke="#222" stroke-width="1.7"/>
<text x="514.65" y="478.5" font-size="32.3" text-anchor="middle" fill="#000">39.0</text>
<line x1="619.6" y1="492" x2="619.6" y2="498" stroke="#222" stroke-width="1.7"/>
<text x="619.6" y="478.5" font-size="32.3" text-anchor="middle" fill="#000">39.5</text>
<line x1="724.55" y1="492" x2="724.55" y2="498" stroke="#222" stroke-width="1.7"/>
<text x="724.55" y="478.5" font-size="32.3" text-anchor="middle" fill="#000">40.0</text>
<line x1="829.5" y1="492" x2="829.5" y2="498" stroke="#222" stroke-width="1.7"/>
<text x="829.5" y="478.5" font-size="32.3" text-anchor="middle" fill="#000">40.5</text>
<line x1="934.45" y1="492" x2="934.45" y2="498" stroke="#222" stroke-width="1.7"/>
<text x="934.45" y="478.5" font-size="32.3" text-anchor="middle" fill="#000">41.0</text>
<line x1="1039.4" y1="492" x2="1039.4" y2="498" stroke="#222" stroke-width="1.7"/>
<text x="1039.4" y="478.5" font-size="32.3" text-anchor="middle" fill="#000">41.5</text>
<g clip-path="url(#clipb)">
<path d="M198.8,639.01 200.3,638.8 201.8,638.56 203.3,638.33 204.8,638.11 206.3,637.9 207.8,637.69 209.3,637.5 210.8,637.31 212.3,637.13 213.8,636.96 215.3,636.8 216.8,636.65 218.3,636.5 219.8,636.36 221.3,636.23 222.8,636.1 224.3,635.98 225.8,635.87 227.3,635.76 228.8,635.67 230.3,635.57 231.8,635.49 233.3,635.41 234.8,635.33 236.3,635.26 237.8,635.2 239.3,635.14 240.8,635.09 242.3,635.04 243.8,635 245.3,634.96 246.8,634.93 248.3,634.9 249.8,634.88 251.3,634.86 252.8,634.84 254.3,634.83 255.8,634.82 257.3,634.82 258.8,634.82 260.3,634.82 261.8,634.82 263.3,634.83 264.8,634.84 266.3,634.85 267.8,634.87 269.3,634.89 270.8,634.91 272.3,634.93 273.8,634.96 275.3,634.98 276.8,635.01 278.3,635.04 279.8,635.07 281.3,635.1 282.8,635.13 284.3,635.17 285.8,635.2 287.3,635.23 288.8,635.27 290.3,635.3 291.8,635.34 293.3,635.37 294.8,635.41 296.3,635.44 297.8,635.47 299.3,635.51 300.8,635.54 302.3,635.57 303.8,635.6 305.3,635.63 306.8,635.65 308.3,635.68 309.8,635.7 311.3,635.72 312.8,635.74 314.3,635.76 315.8,635.77 317.3,635.78 318.8,635.79 320.3,635.8 321.8,635.8 323.3,635.8 324.8,635.8 326.3,635.79 327.8,635.78 329.3,635.77 330.8,635.75 332.3,635.73 333.8,635.7 335.3,635.67 336.8,635.63 338.3,635.59 339.8,635.55 341.3,635.51 342.8,635.46 344.3,635.41 345.8,635.36 347.3,635.31 348.8,635.26 350.3,635.21 351.8,635.16 353.3,635.11 354.8,635.06 356.3,635.01 357.8,634.97 359.3,634.93 360.8,634.89 362.3,634.86 363.8,634.83 365.3,634.8 366.8,634.78 368.3,634.77 369.8,634.76 371.3,634.75 372.8,634.76 374.3,634.77 375.8,634.79 377.3,634.82 378.8,634.85 380.3,634.9 381.8,634.95 383.3,635.02 384.8,635.09 386.3,635.18 387.8,635.28 389.3,635.39 390.8,635.51 392.3,635.64 393.8,635.79 395.3,635.95 396.8,636.13 398.3,636.32 399.8,636.52 401.3,636.74 402.8,636.98 404.3,637.23 405.8,637.5 407.3,637.79 408.8,638.1 410.3,638.42 411.8,638.76 413.3,639.12 414.8,639.5 416.3,639.9 417.8,640.32 419.3,640.76 420.8,641.22 422.3,641.69 423.8,642.19 425.3,642.7 426.8,643.24 428.3,643.79 429.8,644.36 431.3,644.95 432.8,645.56 434.3,646.18 435.8,646.83 437.3,647.49 438.8,648.18 440.3,648.88 441.8,649.59 443.3,650.33 444.8,651.09 446.3,651.86 447.8,652.65 449.3,653.46 450.8,654.29 452.3,655.13 453.8,655.99 455.3,656.87 456.8,657.77 458.3,658.68 459.8,659.61 461.3,660.56 462.8,661.53 464.3,662.51 465.8,663.51 467.3,664.53 468.8,665.57 470.3,666.62 471.8,667.69 473.3,668.77 474.8,669.87 476.3,670.99 477.8,672.12 479.3,673.28 480.8,674.44 482.3,675.62 483.8,676.81 485.3,678.01 486.8,679.22 488.3,680.43 489.8,681.65 491.3,682.88 492.8,684.1 494.3,685.32 495.8,686.55 497.3,687.77 498.8,688.98 500.3,690.18 501.8,691.38 503.3,692.57 504.8,693.75 506.3,694.91 507.8,696.05 509.3,697.18 510.8,698.29 512.3,699.39 513.8,700.45 515.3,701.5 516.8,702.52 518.3,703.51 519.8,704.48 521.3,705.41 522.8,706.31 524.3,707.18 525.8,708.01 527.3,708.81 528.8,709.57 530.3,710.29 531.8,710.96 533.3,711.59 534.8,712.18 536.3,712.72 537.8,713.21 539.3,713.65 540.8,714.04 542.3,714.38 543.8,714.67 545.3,714.9 546.8,715.08 548.3,715.21 549.8,715.27 551.3,715.28 552.8,715.23 554.3,715.13 555.8,714.96 557.3,714.73 558.8,714.43 560.3,714.08 561.8,713.65 563.3,713.17 564.8,712.61 566.3,711.99 567.8,711.3 569.3,710.54 570.8,709.7 572.3,708.8 573.8,707.82 575.3,706.77 576.8,705.65 578.3,704.44 579.8,703.16 581.3,701.81 582.8,700.38 584.3,698.89 585.8,697.32 587.3,695.69 588.8,694 590.3,692.24 591.8,690.43 593.3,688.56 594.8,686.63 596.3,684.66 597.8,682.64 599.3,680.57 600.8,678.46 602.3,676.3 603.8,674.11 605.3,671.88 606.8,669.62 608.3,667.32 609.8,665 611.3,662.65 612.8,660.27 614.3,657.88 615.8,655.46 617.3,653.03 618.8,650.58 620.3,648.13 621.8,645.66 623.3,643.2 624.8,640.74 626.3,638.29 627.8,635.84 629.3,633.41 630.8,631 632.3,628.6 633.8,626.23 635.3,623.89 636.8,621.58 638.3,619.31 639.8,617.07 641.3,614.88 642.8,612.73 644.3,610.62 645.8,608.57 647.3,606.56 648.8,604.6 650.3,602.69 651.8,600.83 653.3,599.03 654.8,597.28 656.3,595.58 657.8,593.94 659.3,592.35 660.8,590.82 662.3,589.34 663.8,587.91 665.3,586.54 666.8,585.22 668.3,583.96 669.8,582.75 671.3,581.59 672.8,580.49 674.3,579.44 675.8,578.44 677.3,577.5 678.8,576.62 680.3,575.79 681.8,575.01 683.3,574.28 684.8,573.61 686.3,573 687.8,572.44 689.3,571.93 690.8,571.48 692.3,571.08 693.8,570.73 695.3,570.44 696.8,570.2 698.3,570.02 699.8,569.88 701.3,569.8 702.8,569.78 704.3,569.8 705.8,569.87 707.3,570 708.8,570.18 710.3,570.41 711.8,570.69 713.3,571.02 714.8,571.4 716.3,571.83 717.8,572.31 719.3,572.83 720.8,573.4 722.3,574.02 723.8,574.67 725.3,575.37 726.8,576.1 728.3,576.87 729.8,577.67 731.3,578.51 732.8,579.38 734.3,580.28 735.8,581.21 737.3,582.17 738.8,583.15 740.3,584.15 741.8,585.18 743.3,586.23 744.8,587.29 746.3,588.38 747.8,589.48 749.3,590.59 750.8,591.71 752.3,592.85 753.8,593.99 755.3,595.15 756.8,596.3 758.3,597.47 759.8,598.63 761.3,599.79 762.8,600.96 764.3,602.12 765.8,603.28 767.3,604.43 768.8,605.57 770.3,606.71 771.8,607.84 773.3,608.95 774.8,610.05 776.3,611.13 777.8,612.2 779.3,613.25 780.8,614.28 782.3,615.28 783.8,616.26 785.3,617.22 786.8,618.15 788.3,619.06 789.8,619.93 791.3,620.77 792.8,621.58 794.3,622.36 795.8,623.12 797.3,623.84 798.8,624.54 800.3,625.21 801.8,625.86 803.3,626.48 804.8,627.08 806.3,627.66 807.8,628.22 809.3,628.75 810.8,629.26 812.3,629.76 813.8,630.23 815.3,630.69 816.8,631.13 818.3,631.56 819.8,631.97 821.3,632.37 822.8,632.75 824.3,633.12 825.8,633.48 827.3,633.83 828.8,634.17 830.3,634.5 831.8,634.82 833.3,635.12 834.8,635.42 836.3,635.71 837.8,636 839.3,636.27 840.8,636.53 842.3,636.79 843.8,637.03 845.3,637.27 846.8,637.5 848.3,637.73 849.8,637.94 851.3,638.15 852.8,638.35 854.3,638.55 855.8,638.73 857.3,638.91 858.8,639.09 860.3,639.26 861.8,639.42 863.3,639.57 864.8,639.72 866.3,639.87 867.8,640.01 869.3,640.14 870.8,640.27 872.3,640.39 873.8,640.51 875.3,640.63 876.8,640.74 878.3,640.84 879.8,640.94 881.3,641.04 882.8,641.14 884.3,641.23 885.8,641.32 887.3,641.4 888.8,641.49 890.3,641.57 891.8,641.64 893.3,641.72 894.8,641.79 896.3,641.86 897.8,641.93 899.3,642 900.8,642.07 902.3,642.13 903.8,642.2 905.3,642.26 906.8,642.32 908.3,642.38 909.8,642.45 911.3,642.51 912.8,642.57 914.3,642.62 915.8,642.68 917.3,642.74 918.8,642.79 920.3,642.85 921.8,642.9 923.3,642.95 924.8,643 926.3,643.05 927.8,643.1 929.3,643.14 930.8,643.19 932.3,643.23 933.8,643.27 935.3,643.31 936.8,643.34 938.3,643.38 939.8,643.41 941.3,643.44 942.8,643.47 944.3,643.5 945.8,643.52 947.3,643.54 948.8,643.56 950.3,643.58 951.8,643.6 953.3,643.61 954.8,643.62 956.3,643.63 957.8,643.63 959.3,643.64 960.8,643.63 962.3,643.63 963.8,643.63 965.3,643.62 966.8,643.6 968.3,643.59 969.8,643.57 971.3,643.55 972.8,643.52 974.3,643.5 975.8,643.47 977.3,643.43 978.8,643.39 980.3,643.35 981.8,643.31 983.3,643.26 984.8,643.21 986.3,643.15 987.8,643.09 989.3,643.02 990.8,642.96 992.3,642.89 993.8,642.81 995.3,642.73 996.8,642.65 998.3,642.56 999.8,642.47 1001.3,642.37 1002.8,642.27 1004.3,642.16 1005.8,642.05 1007.3,641.94 1008.8,641.82 1010.3,641.69 1011.8,641.57 1013.3,641.43 1014.8,641.29 1016.3,641.15 1017.8,641 1019.3,640.85 1020.8,640.69 1022.3,640.53 1023.8,640.36 1025.3,640.19 1026.8,640.01 1028.3,639.82 1029.8,639.63 1031.3,639.44 1032.8,639.24 1034.3,639.03 1035.8,638.82 1037.3,638.6 1038.8,638.38 1040.3,638.32" fill="none" stroke="#222222" stroke-width="2.8" stroke-linejoin="round"/>
<path d="M198.8,635.76 200.3,634.78 201.8,633.76 203.3,632.85 204.8,632.05 206.3,631.36 207.8,630.77 209.3,630.27 210.8,629.86 212.3,629.54 213.8,629.31 215.3,629.15 216.8,629.07 218.3,629.06 219.8,629.12 221.3,629.25 222.8,629.43 224.3,629.67 225.8,629.95 227.3,630.29 228.8,630.67 230.3,631.08 231.8,631.54 233.3,632.02 234.8,632.53 236.3,633.06 237.8,633.61 239.3,634.17 240.8,634.75 242.3,635.33 243.8,635.92 245.3,636.5 246.8,637.07 248.3,637.64 249.8,638.19 251.3,638.72 252.8,639.23 254.3,639.72 255.8,640.17 257.3,640.59 258.8,640.98 260.3,641.31 261.8,641.61 263.3,641.85 264.8,642.03 266.3,642.16 267.8,642.23 269.3,642.22 270.8,642.15 272.3,642 273.8,641.78 275.3,641.5 276.8,641.16 278.3,640.76 279.8,640.32 281.3,639.84 282.8,639.32 284.3,638.77 285.8,638.19 287.3,637.6 288.8,636.99 290.3,636.38 291.8,635.76 293.3,635.15 294.8,634.55 296.3,633.96 297.8,633.4 299.3,632.86 300.8,632.36 302.3,631.89 303.8,631.47 305.3,631.1 306.8,630.79 308.3,630.54 309.8,630.35 311.3,630.24 312.8,630.21 314.3,630.26 315.8,630.38 317.3,630.57 318.8,630.81 320.3,631.11 321.8,631.46 323.3,631.84 324.8,632.25 326.3,632.68 327.8,633.13 329.3,633.58 330.8,634.04 332.3,634.5 333.8,634.93 335.3,635.35 336.8,635.75 338.3,636.12 339.8,636.47 341.3,636.8 342.8,637.09 344.3,637.36 345.8,637.59 347.3,637.8 348.8,637.97 350.3,638.1 351.8,638.2 353.3,638.27 354.8,638.29 356.3,638.28 357.8,638.22 359.3,638.12 360.8,637.98 362.3,637.79 363.8,637.56 365.3,637.28 366.8,636.95 368.3,636.59 369.8,636.26 371.3,636.03 372.8,635.94 374.3,636.06 375.8,636.46 377.3,637.19 378.8,638.34 380.3,639.99 381.8,642.22 383.3,645.11 384.8,648.63 386.3,652.7 387.8,657.21 389.3,662.07 390.8,667.17 392.3,672.42 393.8,677.71 395.3,682.92 396.8,687.94 398.3,692.65 399.8,696.93 401.3,700.68 402.8,703.76 404.3,706.1 405.8,707.65 407.3,708.35 408.8,708.15 410.3,707.01 411.8,704.88 413.3,701.71 414.8,697.52 416.3,692.5 417.8,686.87 419.3,680.84 420.8,674.64 422.3,668.49 423.8,662.54 425.3,656.87 426.8,651.5 428.3,646.48 429.8,641.85 431.3,637.64 432.8,633.89 434.3,630.64 435.8,627.93 437.3,625.8 438.8,624.28 440.3,623.42 441.8,623.25 443.3,623.74 444.8,624.81 446.3,626.37 447.8,628.3 449.3,630.55 450.8,633.04 452.3,635.73 453.8,638.57 455.3,641.5 456.8,644.46 458.3,647.41 459.8,650.29 461.3,653.04 462.8,655.62 464.3,657.96 465.8,660.01 467.3,661.73 468.8,663.06 470.3,663.93 471.8,664.31 473.3,664.13 474.8,663.35 476.3,661.9 477.8,659.78 479.3,657.08 480.8,653.92 482.3,650.39 483.8,646.6 485.3,642.66 486.8,638.68 488.3,634.77 489.8,631.01 491.3,627.47 492.8,624.15 494.3,621.07 495.8,618.24 497.3,615.68 498.8,613.41 500.3,611.44 501.8,609.79 503.3,608.48 504.8,607.49 506.3,606.85 507.8,606.56 509.3,606.61 510.8,607.03 512.3,607.8 513.8,608.95 515.3,610.46 516.8,612.36 518.3,614.6 519.8,617.17 521.3,620.02 522.8,623.13 524.3,626.47 525.8,630 527.3,633.69 528.8,637.51 530.3,641.43 531.8,645.41 533.3,649.42 534.8,653.45 536.3,657.45 537.8,661.41 539.3,665.29 540.8,669.06 542.3,672.7 543.8,676.18 545.3,679.46 546.8,682.53 548.3,685.35 549.8,687.89 551.3,690.13 552.8,692.04 554.3,693.58 555.8,694.73 557.3,695.47 558.8,695.76 560.3,695.57 561.8,694.88 563.3,693.65 564.8,691.87 566.3,689.52 567.8,686.61 569.3,683.16 570.8,679.18 572.3,674.69 573.8,669.7 575.3,664.22 576.8,658.28 578.3,651.88 579.8,645.04 581.3,637.78 582.8,630.1 584.3,622.16 585.8,614.26 587.3,606.68 588.8,599.73 590.3,593.72 591.8,588.94 593.3,585.55 594.8,583.58 596.3,583.02 597.8,583.88 599.3,586.16 600.8,589.86 602.3,594.99 603.8,601.46 605.3,609.01 606.8,617.33 608.3,626.14 609.8,635.15 611.3,644.08 612.8,652.62 614.3,660.49 615.8,667.4 617.3,673.1 618.8,677.39 620.3,680.08 621.8,680.99 623.3,680.04 624.8,677.34 626.3,673.04 627.8,667.3 629.3,660.27 630.8,652.11 632.3,642.97 633.8,633 635.3,622.35 636.8,611.19 638.3,599.71 639.8,588.1 641.3,576.56 642.8,565.29 644.3,554.48 645.8,544.31 647.3,534.89 648.8,526.3 650.3,518.66 651.8,512.04 653.3,506.56 654.8,502.29 656.3,499.34 657.8,497.81 659.3,497.77 660.8,499.34 662.3,502.54 663.8,507.28 665.3,513.47 666.8,520.99 668.3,529.76 669.8,539.68 671.3,550.53 672.8,561.9 674.3,573.37 675.8,584.53 677.3,594.94 678.8,604.35 680.3,612.64 681.8,619.71 683.3,625.45 684.8,629.76 686.3,632.71 687.8,634.39 689.3,634.95 690.8,634.51 692.3,633.21 693.8,631.21 695.3,628.65 696.8,625.67 698.3,622.44 699.8,619.08 701.3,615.76 702.8,612.61 704.3,609.79 705.8,607.36 707.3,605.35 708.8,603.75 710.3,602.58 711.8,601.83 713.3,601.51 714.8,601.58 716.3,602.03 717.8,602.83 719.3,603.97 720.8,605.42 722.3,607.16 723.8,609.17 725.3,611.44 726.8,613.93 728.3,616.62 729.8,619.5 731.3,622.55 732.8,625.74 734.3,629.05 735.8,632.47 737.3,635.96 738.8,639.51 740.3,643.1 741.8,646.7 743.3,650.3 744.8,653.88 746.3,657.4 747.8,660.86 749.3,664.23 750.8,667.49 752.3,670.61 753.8,673.58 755.3,676.38 756.8,678.98 758.3,681.37 759.8,683.51 761.3,685.4 762.8,687.01 764.3,688.36 765.8,689.43 767.3,690.25 768.8,690.82 770.3,691.13 771.8,691.21 773.3,691.05 774.8,690.66 776.3,690.04 777.8,689.21 779.3,688.16 780.8,686.91 782.3,685.46 783.8,683.83 785.3,682.07 786.8,680.19 788.3,678.23 789.8,676.22 791.3,674.18 792.8,672.15 794.3,670.16 795.8,668.24 797.3,666.41 798.8,664.71 800.3,663.17 801.8,661.81 803.3,660.67 804.8,659.78 806.3,659.16 807.8,658.85 809.3,658.88 810.8,659.24 812.3,659.91 813.8,660.83 815.3,661.99 816.8,663.35 818.3,664.86 819.8,666.5 821.3,668.24 822.8,670.02 824.3,671.83 825.8,673.62 827.3,675.37 828.8,677.02 830.3,678.56 831.8,679.95 833.3,681.14 834.8,682.11 836.3,682.81 837.8,683.21 839.3,683.24 840.8,682.87 842.3,682.03 843.8,680.68 845.3,678.76 846.8,676.24 848.3,673.16 849.8,669.6 851.3,665.63 852.8,661.35 854.3,656.83 855.8,652.16 857.3,647.41 858.8,642.66 860.3,638.01 861.8,633.52 863.3,629.29 864.8,625.39 866.3,621.9 867.8,618.91 869.3,616.49 870.8,614.74 872.3,613.7 873.8,613.32 875.3,613.54 876.8,614.26 878.3,615.42 879.8,616.94 881.3,618.74 882.8,620.74 884.3,622.87 885.8,625.04 887.3,627.19 888.8,629.23 890.3,631.1 891.8,632.8 893.3,634.32 894.8,635.68 896.3,636.88 897.8,637.93 899.3,638.84 900.8,639.61 902.3,640.26 903.8,640.77 905.3,641.17 906.8,641.47 908.3,641.66 909.8,641.75 911.3,641.75 912.8,641.67 914.3,641.52 915.8,641.3 917.3,641.01 918.8,640.67 920.3,640.28 921.8,639.85 923.3,639.38 924.8,638.89 926.3,638.37 927.8,637.84 929.3,637.31 930.8,636.77 932.3,636.24 933.8,635.72 935.3,635.22 936.8,634.74 938.3,634.31 939.8,633.93 941.3,633.6 942.8,633.34 944.3,633.15 945.8,633.06 947.3,633.05 948.8,633.16 950.3,633.37 951.8,633.72 953.3,634.19 954.8,634.81 956.3,635.58 957.8,636.47 959.3,637.46 960.8,638.48 962.3,639.5 963.8,640.48 965.3,641.37 966.8,642.12 968.3,642.72 969.8,643.17 971.3,643.5 972.8,643.7 974.3,643.79 975.8,643.79 977.3,643.7 978.8,643.53 980.3,643.3 981.8,643.02 983.3,642.69 984.8,642.33 986.3,641.96 987.8,641.58 989.3,641.2 990.8,640.83 992.3,640.5 993.8,640.2 995.3,639.94 996.8,639.75 998.3,639.61 999.8,639.53 1001.3,639.51 1002.8,639.54 1004.3,639.63 1005.8,639.78 1007.3,639.98 1008.8,640.24 1010.3,640.55 1011.8,640.92 1013.3,641.34 1014.8,641.82 1016.3,642.35 1017.8,642.94 1019.3,643.57 1020.8,644.27 1022.3,645.01 1023.8,645.81 1025.3,646.66 1026.8,647.56 1028.3,648.52 1029.8,649.48 1031.3,650.39 1032.8,651.18 1034.3,651.8 1035.8,652.17 1037.3,652.24 1038.8,651.93 1040.3,651.78" fill="none" stroke="#1c1cff" stroke-width="2.8" stroke-linejoin="round"/>
</g>
<rect x="199.8" y="498" width="839.6" height="284" fill="none" stroke="#222" stroke-width="1.7"/>
<line x1="193.8" y1="558.4" x2="199.8" y2="558.4" stroke="#222" stroke-width="1.7"/>
<text x="185.6" y="570.2" font-size="32.3" text-anchor="end" fill="#000">0.2</text>
<line x1="193.8" y1="640.4" x2="199.8" y2="640.4" stroke="#222" stroke-width="1.7"/>
<text x="185.6" y="652.2" font-size="32.3" text-anchor="end" fill="#000">0.0</text>
<line x1="193.8" y1="722.2" x2="199.8" y2="722.2" stroke="#222" stroke-width="1.7"/>
<text x="185.6" y="734" font-size="32.3" text-anchor="end" fill="#000">−0.2</text>
<text transform="translate(92.5,640) rotate(-90)" font-size="43" text-anchor="middle">ADMs [arb]</text>
<text x="1019.9" y="553.8" font-size="62" text-anchor="end" fill="#000">b</text>
<g clip-path="url(#clipc)">
<path d="M198.8,959.25 200.3,959.27 201.8,959.3 203.3,959.32 204.8,959.34 206.3,959.37 207.8,959.39 209.3,959.41 210.8,959.44 212.3,959.46 213.8,959.49 215.3,959.51 216.8,959.53 218.3,959.56 219.8,959.58 221.3,959.61 222.8,959.63 224.3,959.66 225.8,959.69 227.3,959.71 228.8,959.74 230.3,959.76 231.8,959.79 233.3,959.82 234.8,959.84 236.3,959.87 237.8,959.89 239.3,959.92 240.8,959.95 242.3,959.97 243.8,960 245.3,960.03 246.8,960.06 248.3,960.08 249.8,960.11 251.3,960.14 252.8,960.16 254.3,960.19 255.8,960.22 257.3,960.25 258.8,960.27 260.3,960.3 261.8,960.33 263.3,960.35 264.8,960.38 266.3,960.41 267.8,960.44 269.3,960.46 270.8,960.49 272.3,960.52 273.8,960.55 275.3,960.57 276.8,960.6 278.3,960.63 279.8,960.65 281.3,960.68 282.8,960.71 284.3,960.73 285.8,960.76 287.3,960.79 288.8,960.81 290.3,960.84 291.8,960.87 293.3,960.89 294.8,960.92 296.3,960.95 297.8,960.97 299.3,961 300.8,961.02 302.3,961.05 303.8,961.08 305.3,961.1 306.8,961.13 308.3,961.15 309.8,961.18 311.3,961.21 312.8,961.24 314.3,961.27 315.8,961.3 317.3,961.33 318.8,961.36 320.3,961.39 321.8,961.42 323.3,961.46 324.8,961.49 326.3,961.53 327.8,961.57 329.3,961.61 330.8,961.65 332.3,961.69 333.8,961.73 335.3,961.78 336.8,961.83 338.3,961.88 339.8,961.93 341.3,961.98 342.8,962.04 344.3,962.1 345.8,962.16 347.3,962.22 348.8,962.28 350.3,962.35 351.8,962.42 353.3,962.49 354.8,962.57 356.3,962.64 357.8,962.72 359.3,962.81 360.8,962.9 362.3,962.99 363.8,963.08 365.3,963.18 366.8,963.28 368.3,963.38 369.8,963.49 371.3,963.61 372.8,963.73 374.3,963.85 375.8,963.99 377.3,964.12 378.8,964.27 380.3,964.42 381.8,964.57 383.3,964.74 384.8,964.91 386.3,965.08 387.8,965.27 389.3,965.46 390.8,965.66 392.3,965.87 393.8,966.09 395.3,966.3 396.8,966.51 398.3,966.71 399.8,966.88 401.3,967.04 402.8,967.16 404.3,967.25 405.8,967.29 407.3,967.29 408.8,967.23 410.3,967.11 411.8,966.93 413.3,966.67 414.8,966.34 416.3,965.92 417.8,965.41 419.3,964.81 420.8,964.11 422.3,963.31 423.8,962.41 425.3,961.43 426.8,960.39 428.3,959.28 429.8,958.11 431.3,956.91 432.8,955.67 434.3,954.42 435.8,953.15 437.3,951.88 438.8,950.61 440.3,949.37 441.8,948.15 443.3,946.97 444.8,945.84 446.3,944.76 447.8,943.76 449.3,942.83 450.8,941.99 452.3,941.24 453.8,940.58 455.3,940.02 456.8,939.56 458.3,939.21 459.8,938.96 461.3,938.83 462.8,938.81 464.3,938.92 465.8,939.15 467.3,939.5 468.8,939.99 470.3,940.61 471.8,941.37 473.3,942.28 474.8,943.33 476.3,944.52 477.8,945.83 479.3,947.26 480.8,948.77 482.3,950.37 483.8,952.02 485.3,953.71 486.8,955.43 488.3,957.16 489.8,958.88 491.3,960.58 492.8,962.23 494.3,963.83 495.8,965.36 497.3,966.79 498.8,968.12 500.3,969.32 501.8,970.39 503.3,971.29 504.8,972.03 506.3,972.57 507.8,972.91 509.3,973.02 510.8,972.9 512.3,972.51 513.8,971.86 515.3,970.91 516.8,969.66 518.3,968.09 519.8,966.19 521.3,963.99 522.8,961.5 524.3,958.73 525.8,955.7 527.3,952.42 528.8,948.91 530.3,945.17 531.8,941.23 533.3,937.1 534.8,932.79 536.3,928.33 537.8,923.71 539.3,918.96 540.8,914.1 542.3,909.16 543.8,904.17 545.3,899.18 546.8,894.22 548.3,889.31 549.8,884.51 551.3,879.83 552.8,875.33 554.3,871.02 555.8,866.96 557.3,863.17 558.8,859.69 560.3,856.55 561.8,853.79 563.3,851.39 564.8,849.34 566.3,847.62 567.8,846.2 569.3,845.06 570.8,844.19 572.3,843.56 573.8,843.14 575.3,842.93 576.8,842.89 578.3,843.02 579.8,843.38 581.3,844.02 582.8,845.02 584.3,846.44 585.8,848.3 587.3,850.56 588.8,853.14 590.3,855.98 591.8,859.03 593.3,862.21 594.8,865.49 596.3,868.87 597.8,872.33 599.3,875.89 600.8,879.54 602.3,883.29 603.8,887.14 605.3,891.09 606.8,895.14 608.3,899.29 609.8,903.54 611.3,907.89 612.8,912.24 614.3,916.47 615.8,920.47 617.3,924.12 618.8,927.34 620.3,930.14 621.8,932.57 623.3,934.67 624.8,936.48 626.3,938.04 627.8,939.39 629.3,940.5 630.8,941.36 632.3,941.95 633.8,942.24 635.3,942.2 636.8,941.85 638.3,941.18 639.8,940.21 641.3,938.96 642.8,937.43 644.3,935.64 645.8,933.59 647.3,931.3 648.8,928.78 650.3,926.05 651.8,923.11 653.3,919.99 654.8,916.71 656.3,913.3 657.8,909.8 659.3,906.24 660.8,902.64 662.3,899.04 663.8,895.47 665.3,891.96 666.8,888.54 668.3,885.25 669.8,882.1 671.3,879.15 672.8,876.4 674.3,873.9 675.8,871.65 677.3,869.65 678.8,867.9 680.3,866.4 681.8,865.14 683.3,864.13 684.8,863.38 686.3,862.87 687.8,862.6 689.3,862.59 690.8,862.82 692.3,863.29 693.8,864.02 695.3,864.99 696.8,866.21 698.3,867.67 699.8,869.38 701.3,871.33 702.8,873.53 704.3,875.97 705.8,878.66 707.3,881.58 708.8,884.71 710.3,888.04 711.8,891.52 713.3,895.14 714.8,898.87 716.3,902.69 717.8,906.57 719.3,910.49 720.8,914.43 722.3,918.34 723.8,922.23 725.3,926.05 726.8,929.78 728.3,933.4 729.8,936.91 731.3,940.29 732.8,943.54 734.3,946.67 735.8,949.66 737.3,952.51 738.8,955.22 740.3,957.78 741.8,960.18 743.3,962.44 744.8,964.53 746.3,966.45 747.8,968.21 749.3,969.79 750.8,971.2 752.3,972.42 753.8,973.44 755.3,974.26 756.8,974.88 758.3,975.27 759.8,975.44 761.3,975.38 762.8,975.09 764.3,974.56 765.8,973.83 767.3,972.92 768.8,971.84 770.3,970.63 771.8,969.31 773.3,967.89 774.8,966.41 776.3,964.88 777.8,963.32 779.3,961.76 780.8,960.22 782.3,958.73 783.8,957.28 785.3,955.88 786.8,954.54 788.3,953.25 789.8,952.02 791.3,950.86 792.8,949.76 794.3,948.72 795.8,947.76 797.3,946.87 798.8,946.05 800.3,945.32 801.8,944.66 803.3,944.09 804.8,943.61 806.3,943.22 807.8,942.92 809.3,942.72 810.8,942.62 812.3,942.61 813.8,942.72 815.3,942.93 816.8,943.25 818.3,943.68 819.8,944.23 821.3,944.89 822.8,945.67 824.3,946.56 825.8,947.53 827.3,948.58 828.8,949.7 830.3,950.88 831.8,952.1 833.3,953.35 834.8,954.63 836.3,955.91 837.8,957.2 839.3,958.47 840.8,959.72 842.3,960.94 843.8,962.1 845.3,963.21 846.8,964.25 848.3,965.21 849.8,966.09 851.3,966.88 852.8,967.6 854.3,968.24 855.8,968.8 857.3,969.29 858.8,969.72 860.3,970.07 861.8,970.37 863.3,970.6 864.8,970.78 866.3,970.9 867.8,970.96 869.3,970.98 870.8,970.95 872.3,970.87 873.8,970.75 875.3,970.59 876.8,970.4 878.3,970.17 879.8,969.91 881.3,969.62 882.8,969.31 884.3,968.98 885.8,968.63 887.3,968.27 888.8,967.89 890.3,967.5 891.8,967.11 893.3,966.72 894.8,966.33 896.3,965.93 897.8,965.55 899.3,965.18 900.8,964.81 902.3,964.47 903.8,964.14 905.3,963.83 906.8,963.54 908.3,963.27 909.8,963.02 911.3,962.8 912.8,962.6 914.3,962.42 915.8,962.28 917.3,962.15 918.8,962.06 920.3,962 921.8,961.97 923.3,961.97 924.8,962 926.3,962.07 927.8,962.18 929.3,962.32 930.8,962.49 932.3,962.71 933.8,962.95 935.3,963.23 936.8,963.52 938.3,963.83 939.8,964.15 941.3,964.48 942.8,964.81 944.3,965.14 945.8,965.45 947.3,965.76 948.8,966.05 950.3,966.32 951.8,966.55 953.3,966.76 954.8,966.93 956.3,967.06 957.8,967.14 959.3,967.17 960.8,967.15 962.3,967.09 963.8,967 965.3,966.86 966.8,966.7 968.3,966.5 969.8,966.28 971.3,966.03 972.8,965.76 974.3,965.47 975.8,965.17 977.3,964.85 978.8,964.53 980.3,964.2 981.8,963.87 983.3,963.54 984.8,963.21 986.3,962.89 987.8,962.58 989.3,962.28 990.8,961.99 992.3,961.72 993.8,961.46 995.3,961.22 996.8,960.99 998.3,960.77 999.8,960.57 1001.3,960.39 1002.8,960.22 1004.3,960.07 1005.8,959.93 1007.3,959.81 1008.8,959.71 1010.3,959.63 1011.8,959.56 1013.3,959.52 1014.8,959.49 1016.3,959.48 1017.8,959.49 1019.3,959.52 1020.8,959.58 1022.3,959.65 1023.8,959.74 1025.3,959.86 1026.8,960 1028.3,960.15 1029.8,960.34 1031.3,960.54 1032.8,960.77 1034.3,961.02 1035.8,961.3 1037.3,961.6 1038.8,961.92 1040.3,962.02" fill="none" stroke="#222222" stroke-width="2.8" stroke-linejoin="round"/>
<path d="M198.8,945.74 200.3,944.86 201.8,943.99 203.3,943.29 204.8,942.73 206.3,942.31 207.8,942.01 209.3,941.83 210.8,941.76 212.3,941.79 213.8,941.9 215.3,942.09 216.8,942.35 218.3,942.67 219.8,943.03 221.3,943.44 222.8,943.87 224.3,944.32 225.8,944.78 227.3,945.23 228.8,945.68 230.3,946.1 231.8,946.49 233.3,946.85 234.8,947.15 236.3,947.39 237.8,947.55 239.3,947.64 240.8,947.64 242.3,947.54 243.8,947.33 245.3,946.99 246.8,946.53 248.3,945.93 249.8,945.19 251.3,944.36 252.8,943.45 254.3,942.49 255.8,941.52 257.3,940.56 258.8,939.63 260.3,938.77 261.8,938.01 263.3,937.36 264.8,936.83 266.3,936.39 267.8,936.03 269.3,935.74 270.8,935.48 272.3,935.26 273.8,935.05 275.3,934.83 276.8,934.59 278.3,934.32 279.8,933.99 281.3,933.59 282.8,933.13 284.3,932.62 285.8,932.06 287.3,931.47 288.8,930.86 290.3,930.23 291.8,929.6 293.3,928.98 294.8,928.38 296.3,927.81 297.8,927.28 299.3,926.81 300.8,926.43 302.3,926.13 303.8,925.94 305.3,925.88 306.8,925.96 308.3,926.2 309.8,926.61 311.3,927.2 312.8,928 314.3,929.03 315.8,930.28 317.3,931.79 318.8,933.51 320.3,935.42 321.8,937.47 323.3,939.63 324.8,941.85 326.3,944.12 327.8,946.38 329.3,948.59 330.8,950.74 332.3,952.78 333.8,954.71 335.3,956.55 336.8,958.3 338.3,959.94 339.8,961.49 341.3,962.94 342.8,964.3 344.3,965.57 345.8,966.75 347.3,967.84 348.8,968.84 350.3,969.76 351.8,970.56 353.3,971.16 354.8,971.43 356.3,971.27 357.8,970.65 359.3,969.61 360.8,968.18 362.3,966.42 363.8,964.36 365.3,962.04 366.8,959.51 368.3,956.8 369.8,953.96 371.3,951.03 372.8,948.04 374.3,945.05 375.8,942.09 377.3,939.22 378.8,936.49 380.3,933.94 381.8,931.63 383.3,929.6 384.8,927.92 386.3,926.6 387.8,925.66 389.3,925.1 390.8,924.94 392.3,925.17 393.8,925.81 395.3,926.86 396.8,928.32 398.3,930.2 399.8,932.44 401.3,934.95 402.8,937.67 404.3,940.52 405.8,943.43 407.3,946.33 408.8,949.13 410.3,951.77 411.8,954.21 413.3,956.41 414.8,958.35 416.3,960.02 417.8,961.39 419.3,962.44 420.8,963.14 422.3,963.47 423.8,963.41 425.3,962.94 426.8,962.03 428.3,960.66 429.8,958.81 431.3,956.45 432.8,953.57 434.3,950.15 435.8,946.27 437.3,942.03 438.8,937.51 440.3,932.81 441.8,928.02 443.3,923.23 444.8,918.55 446.3,914.06 447.8,909.85 449.3,906.02 450.8,902.66 452.3,899.84 453.8,897.59 455.3,895.88 456.8,894.7 458.3,894.04 459.8,893.89 461.3,894.23 462.8,895.05 464.3,896.3 465.8,897.95 467.3,899.98 468.8,902.35 470.3,905.03 471.8,908 473.3,911.21 474.8,914.64 476.3,918.26 477.8,922.04 479.3,925.94 480.8,929.93 482.3,933.99 483.8,938.1 485.3,942.28 486.8,946.52 488.3,950.84 489.8,955.25 491.3,959.74 492.8,964.34 494.3,969.04 495.8,973.85 497.3,978.78 498.8,983.77 500.3,988.78 501.8,993.77 503.3,998.67 504.8,1003.44 506.3,1008.02 507.8,1012.37 509.3,1016.44 510.8,1020.18 512.3,1023.54 513.8,1026.48 515.3,1028.95 516.8,1030.9 518.3,1032.29 519.8,1033.07 521.3,1033.19 522.8,1032.61 524.3,1031.27 525.8,1029.14 527.3,1026.17 528.8,1022.36 530.3,1017.78 531.8,1012.47 533.3,1006.48 534.8,999.87 536.3,992.69 537.8,985 539.3,976.83 540.8,968.26 542.3,959.32 543.8,950.07 545.3,940.57 546.8,930.86 548.3,921.06 549.8,911.34 551.3,901.9 552.8,892.9 554.3,884.55 555.8,877.02 557.3,870.42 558.8,864.81 560.3,860.22 561.8,856.69 563.3,854.26 564.8,852.96 566.3,852.83 567.8,853.92 569.3,856.26 570.8,859.89 572.3,864.84 573.8,871 575.3,878.19 576.8,886.22 578.3,894.89 579.8,904 581.3,913.37 582.8,922.81 584.3,932.11 585.8,941.09 587.3,949.55 588.8,957.31 590.3,964.17 591.8,970.01 593.3,974.79 594.8,978.43 596.3,980.88 597.8,982.09 599.3,982.21 600.8,981.41 602.3,979.91 603.8,977.88 605.3,975.44 606.8,972.36 608.3,968.35 609.8,963.13 611.3,956.54 612.8,949.24 614.3,942.16 615.8,936.27 617.3,932.08 618.8,929.35 620.3,927.75 621.8,926.98 623.3,926.84 624.8,927.23 626.3,928.06 627.8,929.21 629.3,930.57 630.8,931.89 632.3,932.88 633.8,933.24 635.3,932.69 636.8,930.93 638.3,927.66 639.8,922.75 641.3,916.42 642.8,908.97 644.3,900.69 645.8,891.87 647.3,882.89 648.8,874.09 650.3,865.84 651.8,858.5 653.3,852.43 654.8,848 656.3,845.41 657.8,843.99 659.3,842.81 660.8,842.27 662.3,844.04 663.8,848.69 665.3,855.78 666.8,864.85 668.3,875.45 669.8,887.11 671.3,899.38 672.8,911.79 674.3,923.88 675.8,935.21 677.3,945.58 678.8,954.93 680.3,963.18 681.8,970.28 683.3,976.17 684.8,980.76 686.3,984.01 687.8,985.85 689.3,986.22 690.8,985.11 692.3,982.75 693.8,979.37 695.3,975.24 696.8,970.59 698.3,965.68 699.8,960.75 701.3,956.06 702.8,951.83 704.3,948.11 705.8,944.82 707.3,941.9 708.8,939.28 710.3,936.89 711.8,934.67 713.3,932.58 714.8,930.62 716.3,928.78 717.8,927.06 719.3,925.45 720.8,923.95 722.3,922.55 723.8,921.25 725.3,920.03 726.8,918.9 728.3,917.84 729.8,916.85 731.3,915.93 732.8,915.06 734.3,914.25 735.8,913.48 737.3,912.76 738.8,912.07 740.3,911.41 741.8,910.77 743.3,910.15 744.8,909.55 746.3,908.94 747.8,908.34 749.3,907.73 750.8,907.11 752.3,906.48 753.8,905.88 755.3,905.32 756.8,904.85 758.3,904.49 759.8,904.27 761.3,904.22 762.8,904.36 764.3,904.73 765.8,905.36 767.3,906.27 768.8,907.5 770.3,909.08 771.8,911.01 773.3,913.27 774.8,915.82 776.3,918.63 777.8,921.67 779.3,924.89 780.8,928.27 782.3,931.76 783.8,935.33 785.3,938.95 786.8,942.58 788.3,946.19 789.8,949.73 791.3,953.18 792.8,956.5 794.3,959.65 795.8,962.6 797.3,965.31 798.8,967.75 800.3,969.88 801.8,971.67 803.3,973.11 804.8,974.23 806.3,975.03 807.8,975.53 809.3,975.75 810.8,975.68 812.3,975.36 813.8,974.78 815.3,973.97 816.8,972.94 818.3,971.71 819.8,970.3 821.3,968.75 822.8,967.1 824.3,965.37 825.8,963.61 827.3,961.85 828.8,960.11 830.3,958.44 831.8,956.87 833.3,955.44 834.8,954.17 836.3,953.11 837.8,952.27 839.3,951.66 840.8,951.23 842.3,950.96 843.8,950.81 845.3,950.75 846.8,950.74 848.3,950.76 849.8,950.79 851.3,950.83 852.8,950.89 854.3,950.97 855.8,951.08 857.3,951.21 858.8,951.38 860.3,951.58 861.8,951.81 863.3,952.09 864.8,952.42 866.3,952.79 867.8,953.22 869.3,953.7 870.8,954.24 872.3,954.84 873.8,955.51 875.3,956.25 876.8,957.06 878.3,957.94 879.8,958.91 881.3,959.96 882.8,961.1 884.3,962.32 885.8,963.64 887.3,965.06 888.8,966.58 890.3,968.2 891.8,969.89 893.3,971.64 894.8,973.42 896.3,975.2 897.8,976.97 899.3,978.68 900.8,980.32 902.3,981.87 903.8,983.29 905.3,984.56 906.8,985.66 908.3,986.57 909.8,987.25 911.3,987.68 912.8,987.84 914.3,987.7 915.8,987.25 917.3,986.54 918.8,985.6 920.3,984.49 921.8,983.25 923.3,981.91 924.8,980.53 926.3,979.15 927.8,977.81 929.3,976.56 930.8,975.42 932.3,974.38 933.8,973.44 935.3,972.6 936.8,971.86 938.3,971.22 939.8,970.66 941.3,970.18 942.8,969.76 944.3,969.4 945.8,969.09 947.3,968.82 948.8,968.57 950.3,968.35 951.8,968.13 953.3,967.92 954.8,967.7 956.3,967.47 957.8,967.21 959.3,966.91 960.8,966.57 962.3,966.18 963.8,965.73 965.3,965.2 966.8,964.6 968.3,963.9 969.8,963.11 971.3,962.22 972.8,961.23 974.3,960.19 975.8,959.11 977.3,958 978.8,956.91 980.3,955.83 981.8,954.81 983.3,953.85 984.8,952.99 986.3,952.24 987.8,951.63 989.3,951.18 990.8,950.91 992.3,950.84 993.8,951 995.3,951.41 996.8,952.09 998.3,953.04 999.8,954.24 1001.3,955.62 1002.8,957.15 1004.3,958.77 1005.8,960.43 1007.3,962.08 1008.8,963.67 1010.3,965.16 1011.8,966.48 1013.3,967.6 1014.8,968.47 1016.3,969.02 1017.8,969.22 1019.3,969.02 1020.8,968.42 1022.3,967.48 1023.8,966.24 1025.3,964.75 1026.8,963.06 1028.3,961.21 1029.8,959.26 1031.3,957.25 1032.8,955.23 1034.3,953.25 1035.8,951.36 1037.3,949.6 1038.8,948.02 1040.3,947.63" fill="none" stroke="#1c1cff" stroke-width="2.8" stroke-linejoin="round"/>
<path d="M198.8,921.34 200.3,921.25 201.8,922.02 203.3,923.6 204.8,925.84 206.3,928.62 207.8,931.79 209.3,935.22 210.8,938.77 212.3,942.32 213.8,945.72 215.3,948.83 216.8,951.56 218.3,953.91 219.8,955.9 221.3,957.55 222.8,958.9 224.3,959.96 225.8,960.75 227.3,961.31 228.8,961.65 230.3,961.8 231.8,961.78 233.3,961.62 234.8,961.34 236.3,960.96 237.8,960.49 239.3,959.97 240.8,959.41 242.3,958.83 243.8,958.26 245.3,957.72 246.8,957.23 248.3,956.8 249.8,956.47 251.3,956.25 252.8,956.16 254.3,956.22 255.8,956.42 257.3,956.72 258.8,957.11 260.3,957.56 261.8,958.03 263.3,958.51 264.8,958.97 266.3,959.39 267.8,959.73 269.3,959.97 270.8,960.09 272.3,960.06 273.8,959.85 275.3,959.45 276.8,958.8 278.3,957.88 279.8,956.64 281.3,955.04 282.8,953.03 284.3,950.59 285.8,947.73 287.3,944.56 288.8,941.2 290.3,937.74 291.8,934.29 293.3,930.96 294.8,927.85 296.3,925.06 297.8,922.62 299.3,920.58 300.8,919.01 302.3,917.93 303.8,917.4 305.3,917.47 306.8,918.16 308.3,919.4 309.8,921.12 311.3,923.24 312.8,925.69 314.3,928.38 315.8,931.26 317.3,934.23 318.8,937.23 320.3,940.18 321.8,943.03 323.3,945.75 324.8,948.34 326.3,950.75 327.8,952.98 329.3,955 330.8,956.79 332.3,958.34 333.8,959.68 335.3,960.83 336.8,961.81 338.3,962.66 339.8,963.39 341.3,964.04 342.8,964.62 344.3,965.16 345.8,965.69 347.3,966.23 348.8,966.81 350.3,967.45 351.8,968.17 353.3,969.01 354.8,969.95 356.3,971 357.8,972.15 359.3,973.41 360.8,974.75 362.3,976.2 363.8,977.73 365.3,979.34 366.8,981.04 368.3,982.82 369.8,984.67 371.3,986.6 372.8,988.59 374.3,990.58 375.8,992.5 377.3,994.25 378.8,995.75 380.3,996.91 381.8,997.66 383.3,997.91 384.8,997.57 386.3,996.55 387.8,994.78 389.3,992.17 390.8,988.66 392.3,984.37 393.8,979.54 395.3,974.38 396.8,969.13 398.3,964.02 399.8,959.26 401.3,954.95 402.8,951.11 404.3,947.78 405.8,945 407.3,942.79 408.8,941.19 410.3,940.17 411.8,939.7 413.3,939.73 414.8,940.23 416.3,941.14 417.8,942.43 419.3,944.06 420.8,945.98 422.3,948.15 423.8,950.51 425.3,953 426.8,955.57 428.3,958.16 429.8,960.72 431.3,963.18 432.8,965.49 434.3,967.6 435.8,969.45 437.3,970.97 438.8,972.12 440.3,972.87 441.8,973.25 443.3,973.28 444.8,972.99 446.3,972.41 447.8,971.58 449.3,970.54 450.8,969.34 452.3,968.02 453.8,966.62 455.3,965.19 456.8,963.78 458.3,962.42 459.8,961.17 461.3,960.07 462.8,959.15 464.3,958.48 465.8,958.08 467.3,958.01 468.8,958.31 470.3,959.03 471.8,960.2 473.3,961.88 474.8,964.1 476.3,966.83 477.8,969.94 479.3,973.26 480.8,976.66 482.3,979.99 483.8,983.09 485.3,985.82 486.8,988.03 488.3,989.58 489.8,990.31 491.3,990.07 492.8,988.73 494.3,986.21 495.8,982.57 497.3,977.86 498.8,972.15 500.3,965.7 501.8,958.82 503.3,951.83 504.8,945.05 506.3,938.8 507.8,933.37 509.3,928.87 510.8,925.29 512.3,922.64 513.8,920.93 515.3,920.17 516.8,920.36 518.3,921.49 519.8,923.46 521.3,926.17 522.8,929.53 524.3,933.42 525.8,937.74 527.3,942.4 528.8,947.28 530.3,952.29 531.8,957.32 533.3,962.27 534.8,967.04 536.3,971.51 537.8,975.6 539.3,979.19 540.8,982.18 542.3,984.41 543.8,985.75 545.3,986.05 546.8,985.17 548.3,982.95 549.8,979.26 551.3,974.04 552.8,967.49 554.3,959.92 555.8,951.62 557.3,942.88 558.8,933.99 560.3,925.22 561.8,916.75 563.3,908.75 564.8,901.36 566.3,894.75 567.8,889.07 569.3,884.45 570.8,880.9 572.3,878.38 573.8,876.89 575.3,876.39 576.8,876.86 578.3,878.44 579.8,881.76 581.3,887.57 582.8,895.65 584.3,905.16 585.8,915.26 587.3,925.08 588.8,933.87 590.3,941.43 591.8,947.84 593.3,953.14 594.8,957.4 596.3,960.67 597.8,962.95 599.3,964.26 600.8,964.59 602.3,963.95 603.8,962.34 605.3,959.77 606.8,956.21 608.3,951.43 609.8,945.11 611.3,937.11 612.8,928.37 614.3,920.22 615.8,913.72 617.3,908.84 618.8,905.23 620.3,902.59 621.8,900.64 623.3,899.3 624.8,898.52 626.3,898.24 627.8,898.39 629.3,898.92 630.8,899.77 632.3,900.89 633.8,902.2 635.3,903.67 636.8,905.22 638.3,906.8 639.8,908.35 641.3,909.81 642.8,911.13 644.3,912.24 645.8,913.09 647.3,913.62 648.8,913.77 650.3,913.51 651.8,912.85 653.3,911.76 654.8,910.24 656.3,908.29 657.8,905.89 659.3,903.03 660.8,899.71 662.3,895.91 663.8,891.64 665.3,886.89 666.8,881.81 668.3,876.57 669.8,871.34 671.3,866.29 672.8,861.61 674.3,857.46 675.8,854.01 677.3,851.45 678.8,849.89 680.3,849.43 681.8,850.15 683.3,852.12 684.8,855.42 686.3,859.91 687.8,865.31 689.3,871.38 690.8,877.84 692.3,884.44 693.8,890.91 695.3,896.99 696.8,902.57 698.3,907.63 699.8,912.2 701.3,916.28 702.8,919.87 704.3,922.97 705.8,925.56 707.3,927.61 708.8,929.12 710.3,930.05 711.8,930.4 713.3,930.13 714.8,929.3 716.3,927.96 717.8,926.19 719.3,924.09 720.8,921.71 722.3,919.14 723.8,916.46 725.3,913.74 726.8,911.06 728.3,908.49 729.8,906.07 731.3,903.8 732.8,901.73 734.3,899.85 735.8,898.21 737.3,896.8 738.8,895.66 740.3,894.81 741.8,894.26 743.3,894.03 744.8,894.15 746.3,894.64 747.8,895.51 749.3,896.78 750.8,898.42 752.3,900.35 753.8,902.47 755.3,904.7 756.8,906.95 758.3,909.14 759.8,911.18 761.3,912.98 762.8,914.45 764.3,915.53 765.8,916.23 767.3,916.6 768.8,916.67 770.3,916.49 771.8,916.1 773.3,915.55 774.8,914.87 776.3,914.11 777.8,913.3 779.3,912.49 780.8,911.7 782.3,910.94 783.8,910.24 785.3,909.6 786.8,909.06 788.3,908.64 789.8,908.34 791.3,908.2 792.8,908.23 794.3,908.45 795.8,908.88 797.3,909.54 798.8,910.46 800.3,911.63 801.8,913.04 803.3,914.64 804.8,916.39 806.3,918.26 807.8,920.21 809.3,922.18 810.8,924.16 812.3,926.09 813.8,927.93 815.3,929.65 816.8,931.21 818.3,932.56 819.8,933.67 821.3,934.54 822.8,935.17 824.3,935.57 825.8,935.75 827.3,935.72 828.8,935.49 830.3,935.07 831.8,934.46 833.3,933.68 834.8,932.73 836.3,931.64 837.8,930.44 839.3,929.2 840.8,927.99 842.3,926.84 843.8,925.84 845.3,925.03 846.8,924.47 848.3,924.22 849.8,924.35 851.3,924.86 852.8,925.7 854.3,926.8 855.8,928.13 857.3,929.62 858.8,931.25 860.3,932.99 861.8,934.79 863.3,936.63 864.8,938.46 866.3,940.26 867.8,941.99 869.3,943.62 870.8,945.1 872.3,946.41 873.8,947.52 875.3,948.41 876.8,949.12 878.3,949.65 879.8,950.01 881.3,950.21 882.8,950.28 884.3,950.23 885.8,950.06 887.3,949.79 888.8,949.43 890.3,949.01 891.8,948.53 893.3,948.01 894.8,947.49 896.3,947 897.8,946.56 899.3,946.2 900.8,945.95 902.3,945.85 903.8,945.91 905.3,946.18 906.8,946.67 908.3,947.42 909.8,948.46 911.3,949.81 912.8,951.45 914.3,953.32 915.8,955.38 917.3,957.55 918.8,959.79 920.3,962.04 921.8,964.24 923.3,966.33 924.8,968.25 926.3,969.96 927.8,971.39 929.3,972.55 930.8,973.46 932.3,974.15 933.8,974.64 935.3,974.96 936.8,975.12 938.3,975.15 939.8,975.08 941.3,974.93 942.8,974.72 944.3,974.48 945.8,974.25 947.3,974.05 948.8,973.91 950.3,973.86 951.8,973.93 953.3,974.15 954.8,974.55 956.3,975.16 957.8,975.96 959.3,976.94 960.8,978.06 962.3,979.28 963.8,980.58 965.3,981.92 966.8,983.29 968.3,984.67 969.8,986.06 971.3,987.44 972.8,988.8 974.3,990.13 975.8,991.42 977.3,992.66 978.8,993.83 980.3,994.94 981.8,995.95 983.3,996.87 984.8,997.68 986.3,998.38 987.8,998.95 989.3,999.4 990.8,999.75 992.3,999.99 993.8,1000.14 995.3,1000.21 996.8,1000.19 998.3,1000.11 999.8,999.96 1001.3,999.76 1002.8,999.52 1004.3,999.23 1005.8,998.92 1007.3,998.58 1008.8,998.23 1010.3,997.86 1011.8,997.48 1013.3,997.08 1014.8,996.68 1016.3,996.25 1017.8,995.82 1019.3,995.37 1020.8,994.91 1022.3,994.44 1023.8,993.95 1025.3,993.45 1026.8,992.94 1028.3,992.42 1029.8,991.88 1031.3,991.33 1032.8,990.77 1034.3,990.2 1035.8,989.61 1037.3,989.01 1038.8,988.4 1040.3,988.23" fill="none" stroke="#ff1c1c" stroke-width="2.8" stroke-linejoin="round"/>
</g>
<rect x="199.8" y="802.4" width="839.6" height="285.9" fill="none" stroke="#222" stroke-width="1.7"/>
<line x1="193.8" y1="863.9" x2="199.8" y2="863.9" stroke="#222" stroke-width="1.7"/>
<text x="185.6" y="875.7" font-size="32.3" text-anchor="end" fill="#000">0.2</text>
<line x1="193.8" y1="945.2" x2="199.8" y2="945.2" stroke="#222" stroke-width="1.7"/>
<text x="185.6" y="957" font-size="32.3" text-anchor="end" fill="#000">0.0</text>
<line x1="193.8" y1="1027.6" x2="199.8" y2="1027.6" stroke="#222" stroke-width="1.7"/>
<text x="185.6" y="1039.4" font-size="32.3" text-anchor="end" fill="#000">−0.2</text>
<text transform="translate(92.5,945.35) rotate(-90)" font-size="43" text-anchor="middle">ADMs [arb]</text>
<text x="1014.7" y="859.3" font-size="62" text-anchor="end" fill="#000">c</text>
<rect x="213.4" y="510.6" width="145.1" height="116.4" rx="4.5" fill="#fff" fill-opacity="0.8" stroke="#d8d8d8" stroke-width="1.7"/>
<text x="221.3" y="538.6" font-size="24.4" text-anchor="start" fill="#000">l=2 | m=0</text>
<line x1="224.2" y1="566.3" x2="275.6" y2="566.3" stroke="#222222" stroke-width="2.8" stroke-linecap="square"/>
<text x="295.5" y="574.5" font-size="24.4" text-anchor="start" fill="#000">k=0</text>
<line x1="224.2" y1="602.6" x2="275.6" y2="602.6" stroke="#1c1cff" stroke-width="2.8" stroke-linecap="square"/>
<text x="295.5" y="610.5" font-size="24.4" text-anchor="start" fill="#000">k=2</text>
<rect x="213.4" y="815.9" width="144.9" height="152.9" rx="4.5" fill="#fff" fill-opacity="0.8" stroke="#d8d8d8" stroke-width="1.7"/>
<text x="221.3" y="844" font-size="24.4" text-anchor="start" fill="#000">l=4 | m=0</text>
<line x1="224.2" y1="872" x2="275.6" y2="872" stroke="#222222" stroke-width="2.8" stroke-linecap="square"/>
<text x="295.5" y="880" font-size="24.4" text-anchor="start" fill="#000">k=0</text>
<line x1="224.2" y1="908" x2="275.6" y2="908" stroke="#1c1cff" stroke-width="2.8" stroke-linecap="square"/>
<text x="295.5" y="916" font-size="24.4" text-anchor="start" fill="#000">k=2</text>
<line x1="224.2" y1="944.7" x2="275.6" y2="944.7" stroke="#ff1c1c" stroke-width="2.8" stroke-linecap="square"/>
<text x="295.5" y="952.6" font-size="24.4" text-anchor="start" fill="#000">k=4</text>
<g shape-rendering="crispEdges"><path fill="#fbb" d="M199 1107h12v12h-12zM391 1107h24v12h-24zM847 1107h12v12h-12zM1015 1107h25v12h-25zM199 1119h24v12h-24zM307 1119h36v12h-36zM379 1119h36v12h-36zM835 1119h12v12h-12zM1027 1119h13v12h-13zM211 1131h192v12h-192zM619 1131h12v12h-12zM835 1131h12v12h-12zM811 1143h12v12h-12zM775 1155h12v12h-12zM691 1167h24v12h-24zM751 1167h12v12h-12zM499 1215h12v12h-12zM583 1215h12v12h-12zM475 1227h24v12h-24zM475 1239h12v12h-12zM607 1239h12v12h-12zM475 1251h12v12h-12zM607 1251h12v12h-12zM475 1263h24v12h-24zM499 1275h12v12h-12zM583 1275h12v12h-12zM679 1323h36v12h-36zM751 1323h24v12h-24zM787 1335h12v12h-12zM811 1347h12v12h-12zM211 1359h192v12h-192zM619 1359h12v12h-12zM835 1359h12v12h-12zM199 1371h24v12h-24zM319 1371h12v12h-12zM379 1371h36v12h-36zM835 1371h24v12h-24zM1027 1371h13v12h-13zM199 1383h12v11h-12zM391 1383h24v11h-24zM847 1383h12v11h-12zM1015 1383h25v11h-25z"/><path fill="#faa" d="M211 1107h180v12h-180zM835 1107h12v12h-12zM223 1119h84v12h-84zM343 1119h36v12h-36zM823 1131h12v12h-12zM799 1143h12v12h-12zM643 1155h12v12h-12zM715 1167h36v12h-36zM511 1215h24v12h-24zM571 1215h12v12h-12zM499 1227h12v12h-12zM595 1227h12v12h-12zM487 1239h12v12h-12zM487 1251h12v12h-12zM499 1263h12v12h-12zM595 1263h12v12h-12zM511 1275h24v12h-24zM571 1275h12v12h-12zM715 1323h36v12h-36zM775 1335h12v12h-12zM799 1347h12v12h-12zM823 1359h12v12h-12zM223 1371h96v12h-96zM331 1371h48v12h-48zM211 1383h180v11h-180zM835 1383h12v11h-12z"/><path fill="#fcc" d="M415 1107h24v12h-24zM607 1107h12v12h-12zM859 1107h96v12h-96zM967 1107h48v12h-48zM415 1119h24v12h-24zM847 1119h96v12h-96zM979 1119h48v12h-48zM199 1131h12v12h-12zM403 1131h24v12h-24zM847 1131h24v12h-24zM1003 1131h37v12h-37zM199 1143h204v12h-204zM823 1143h24v12h-24zM631 1155h12v12h-12zM787 1155h24v12h-24zM655 1167h36v12h-36zM763 1167h12v12h-12zM511 1203h24v12h-24zM487 1215h12v12h-12zM595 1215h12v12h-12zM463 1227h12v12h-12zM607 1227h12v12h-12zM463 1239h12v12h-12zM463 1251h12v12h-12zM463 1263h12v12h-12zM607 1263h12v12h-12zM487 1275h12v12h-12zM595 1275h12v12h-12zM655 1323h24v12h-24zM631 1335h12v12h-12zM799 1335h12v12h-12zM199 1347h204v12h-204zM823 1347h24v12h-24zM199 1359h12v12h-12zM403 1359h24v12h-24zM847 1359h24v12h-24zM1003 1359h37v12h-37zM415 1371h24v12h-24zM859 1371h84v12h-84zM979 1371h48v12h-48zM415 1383h24v11h-24zM607 1383h12v11h-12zM859 1383h96v11h-96zM967 1383h48v11h-48z"/><path fill="#fdd" d="M439 1107h12v12h-12zM955 1107h12v12h-12zM439 1119h12v12h-12zM607 1119h12v12h-12zM943 1119h36v12h-36zM427 1131h12v12h-12zM871 1131h132v12h-132zM403 1143h24v12h-24zM619 1143h12v12h-12zM847 1143h96v12h-96zM979 1143h61v12h-61zM199 1155h216v12h-216zM811 1155h48v12h-48zM1039 1155h1v12h-1zM643 1167h12v12h-12zM775 1167h24v12h-24zM499 1203h12v12h-12zM535 1203h24v12h-24zM463 1215h24v12h-24zM451 1227h12v12h-12zM451 1239h12v12h-12zM451 1251h12v12h-12zM451 1263h12v12h-12zM475 1275h12v12h-12zM499 1287h48v12h-48zM739 1311h24v12h-24zM643 1323h12v12h-12zM775 1323h24v12h-24zM199 1335h216v12h-216zM811 1335h60v12h-60zM1027 1335h13v12h-13zM403 1347h24v12h-24zM619 1347h12v12h-12zM847 1347h96v12h-96zM979 1347h61v12h-61zM427 1359h12v12h-12zM871 1359h132v12h-132zM439 1371h12v12h-12zM607 1371h12v12h-12zM943 1371h36v12h-36zM439 1383h12v11h-12zM955 1383h12v11h-12z"/><path fill="#fee" d="M451 1107h12v12h-12zM595 1107h12v12h-12zM451 1119h12v12h-12zM439 1131h12v12h-12zM607 1131h12v12h-12zM427 1143h12v12h-12zM943 1143h36v12h-36zM415 1155h12v12h-12zM619 1155h12v12h-12zM859 1155h180v12h-180zM199 1167h228v12h-228zM631 1167h12v12h-12zM799 1167h96v12h-96zM1027 1167h13v12h-13zM727 1179h48v12h-48zM475 1203h24v12h-24zM559 1203h24v12h-24zM451 1215h12v12h-12zM607 1215h12v12h-12zM439 1227h12v12h-12zM439 1239h12v12h-12zM439 1251h12v12h-12zM439 1263h12v12h-12zM451 1275h24v12h-24zM607 1275h12v12h-12zM475 1287h24v12h-24zM547 1287h36v12h-36zM715 1311h24v12h-24zM763 1311h24v12h-24zM199 1323h228v12h-228zM631 1323h12v12h-12zM799 1323h108v12h-108zM1015 1323h25v12h-25zM415 1335h24v12h-24zM619 1335h12v12h-12zM871 1335h156v12h-156zM427 1347h12v12h-12zM943 1347h36v12h-36zM439 1359h12v12h-12zM607 1359h12v12h-12zM451 1371h12v12h-12zM451 1383h12v11h-12zM595 1383h12v11h-12z"/><path fill="#eef" d="M463 1107h12v12h-12zM583 1107h12v12h-12zM463 1119h12v12h-12zM451 1143h12v12h-12zM607 1143h12v12h-12zM451 1155h12v12h-12zM439 1167h12v12h-12zM619 1167h12v12h-12zM427 1179h24v12h-24zM631 1179h12v12h-12zM655 1179h60v12h-60zM199 1191h168v12h-168zM427 1191h60v12h-60zM523 1191h12v12h-12zM739 1191h108v12h-108zM1003 1191h36v12h-36zM199 1203h240v12h-240zM607 1203h24v12h-24zM823 1203h217v12h-217zM199 1215h228v12h-228zM619 1215h12v12h-12zM823 1215h217v12h-217zM199 1227h36v12h-36zM283 1227h60v12h-60zM403 1227h24v12h-24zM823 1227h217v12h-217zM199 1239h36v12h-36zM403 1239h24v12h-24zM811 1239h229v12h-229zM199 1251h36v12h-36zM403 1251h24v12h-24zM811 1251h229v12h-229zM199 1263h48v12h-48zM283 1263h60v12h-60zM391 1263h36v12h-36zM823 1263h217v12h-217zM199 1275h228v12h-228zM619 1275h12v12h-12zM823 1275h217v12h-217zM199 1287h240v12h-240zM607 1287h24v12h-24zM823 1287h132v12h-132zM967 1287h73v12h-73zM199 1299h108v12h-108zM427 1299h72v12h-72zM523 1299h12v12h-12zM739 1299h108v12h-108zM1015 1299h12v12h-12zM439 1311h12v12h-12zM619 1311h24v12h-24zM655 1311h48v12h-48zM439 1323h12v12h-12zM619 1323h12v12h-12zM451 1335h12v12h-12zM451 1347h12v12h-12zM607 1347h12v12h-12zM463 1359h12v12h-12zM463 1371h12v12h-12zM463 1383h12v11h-12zM583 1383h12v11h-12z"/><path fill="#ccf" d="M475 1107h12v12h-12zM571 1107h12v12h-12zM475 1119h12v12h-12zM463 1155h12v12h-12zM463 1167h24v12h-24zM607 1167h12v12h-12zM511 1179h12v12h-12zM607 1179h12v12h-12zM547 1191h24v12h-24zM583 1191h24v12h-24zM655 1191h12v12h-12zM715 1191h12v12h-12zM643 1203h12v12h-12zM751 1203h24v12h-24zM775 1215h12v12h-12zM775 1227h24v12h-24zM787 1239h12v12h-12zM787 1251h12v12h-12zM775 1263h24v12h-24zM775 1275h12v12h-12zM643 1287h12v12h-12zM751 1287h12v12h-12zM547 1299h12v12h-12zM595 1299h12v12h-12zM655 1299h12v12h-12zM715 1299h12v12h-12zM499 1311h24v12h-24zM607 1311h12v12h-12zM463 1323h24v12h-24zM607 1323h12v12h-12zM463 1335h12v12h-12zM595 1347h12v12h-12zM475 1371h12v12h-12zM475 1383h12v11h-12zM571 1383h12v11h-12z"/><path fill="#88f" d="M487 1107h12v12h-12zM487 1119h12v12h-12zM511 1155h12v12h-12zM583 1155h12v12h-12zM559 1179h24v12h-24zM691 1215h24v12h-24zM691 1227h48v12h-48zM703 1239h48v12h-48zM703 1251h48v12h-48zM691 1263h48v12h-48zM691 1275h24v12h-24zM547 1311h36v12h-36zM523 1323h12v12h-12zM583 1335h12v12h-12zM487 1371h12v12h-12zM487 1383h12v11h-12z"/><path fill="#55f" d="M499 1107h12v12h-12zM535 1107h12v12h-12zM523 1143h36v12h-36zM535 1155h36v12h-36zM535 1335h36v12h-36zM523 1347h12v12h-12zM547 1347h12v12h-12zM499 1383h12v11h-12zM535 1383h12v11h-12z"/><path fill="#33f" d="M511 1107h24v12h-24zM523 1119h12v12h-12zM523 1371h12v12h-12zM511 1383h24v11h-24z"/><path fill="#77f" d="M547 1107h12v12h-12zM547 1119h12v12h-12zM559 1131h12v12h-12zM499 1143h12v12h-12zM571 1143h12v12h-12zM535 1167h12v12h-12zM583 1167h12v12h-12zM535 1323h12v12h-12zM583 1323h12v12h-12zM511 1335h12v12h-12zM499 1347h12v12h-12zM571 1347h12v12h-12zM559 1359h12v12h-12zM547 1371h12v12h-12zM547 1383h12v11h-12z"/><path fill="#aaf" d="M559 1107h12v12h-12zM487 1155h12v12h-12zM595 1155h12v12h-12zM511 1167h12v12h-12zM535 1179h12v12h-12zM595 1179h12v12h-12zM667 1203h12v12h-12zM715 1203h12v12h-12zM655 1215h12v12h-12zM739 1215h24v12h-24zM655 1227h12v12h-12zM763 1227h12v12h-12zM655 1239h24v12h-24zM763 1239h12v12h-12zM655 1251h24v12h-24zM763 1251h12v12h-12zM655 1263h12v12h-12zM763 1263h12v12h-12zM655 1275h12v12h-12zM739 1275h24v12h-24zM667 1287h12v12h-12zM715 1287h12v12h-12zM535 1311h12v12h-12zM595 1311h12v12h-12zM499 1323h24v12h-24zM487 1335h12v12h-12zM595 1335h12v12h-12zM559 1383h12v11h-12z"/><path fill="#f99" d="M619 1107h12v12h-12zM823 1107h12v12h-12zM619 1119h12v12h-12zM823 1119h12v12h-12zM799 1131h24v12h-24zM631 1143h12v12h-12zM787 1143h12v12h-12zM763 1155h12v12h-12zM535 1215h36v12h-36zM511 1227h12v12h-12zM499 1239h12v12h-12zM499 1251h12v12h-12zM511 1263h12v12h-12zM535 1275h36v12h-36zM643 1335h12v12h-12zM763 1335h12v12h-12zM631 1347h12v12h-12zM787 1347h12v12h-12zM811 1359h12v12h-12zM619 1371h12v12h-12zM823 1371h12v12h-12zM619 1383h12v11h-12zM823 1383h12v11h-12z"/><path fill="#f44" d="M631 1107h12v12h-12zM775 1107h12v12h-12zM739 1143h12v12h-12zM571 1239h12v12h-12zM547 1251h12v12h-12zM571 1251h12v12h-12zM631 1383h12v11h-12zM775 1383h12v11h-12z"/><path fill="#e00" d="M643 1107h12v12h-12zM739 1107h12v12h-12zM739 1119h12v12h-12zM655 1131h12v12h-12zM727 1131h12v12h-12zM691 1347h24v12h-24zM655 1359h12v12h-12zM727 1359h12v12h-12zM739 1371h12v12h-12zM643 1383h12v11h-12zM739 1383h12v11h-12z"/><path fill="#c00" d="M655 1107h12v12h-12zM727 1107h12v12h-12zM679 1131h36v12h-36zM679 1359h12v12h-12zM703 1359h12v12h-12zM655 1383h12v11h-12zM727 1383h12v11h-12z"/><path fill="#900" d="M667 1107h12v12h-12zM703 1107h12v12h-12zM679 1119h24v12h-24zM679 1371h24v12h-24zM667 1383h12v11h-12zM703 1383h12v11h-12z"/><path fill="#800" d="M679 1107h24v12h-24zM679 1383h24v11h-24z"/><path fill="#a00" d="M715 1107h12v12h-12zM703 1119h12v12h-12zM703 1371h12v12h-12zM715 1383h12v11h-12z"/><path fill="#f00" d="M751 1107h12v12h-12zM643 1119h12v12h-12zM679 1143h48v12h-48zM679 1347h12v12h-12zM715 1347h12v12h-12zM739 1359h12v12h-12zM643 1371h12v12h-12zM751 1383h12v11h-12z"/><path fill="#f33" d="M763 1107h12v12h-12zM763 1119h12v12h-12zM643 1131h12v12h-12zM751 1131h12v12h-12zM655 1143h12v12h-12zM547 1239h24v12h-24zM559 1251h12v12h-12zM655 1347h12v12h-12zM739 1347h12v12h-12zM643 1359h12v12h-12zM751 1359h12v12h-12zM763 1371h12v12h-12zM763 1383h12v11h-12z"/><path fill="#f55" d="M787 1107h12v12h-12zM631 1119h12v12h-12zM775 1119h12v12h-12zM763 1131h12v12h-12zM751 1143h12v12h-12zM703 1155h12v12h-12zM547 1227h24v12h-24zM535 1239h12v12h-12zM535 1251h12v12h-12zM559 1263h12v12h-12zM691 1335h36v12h-36zM751 1347h12v12h-12zM763 1359h12v12h-12zM631 1371h12v12h-12zM775 1371h12v12h-12zM787 1383h12v11h-12z"/><path fill="#f66" d="M799 1107h12v12h-12zM787 1119h12v12h-12zM775 1131h12v12h-12zM643 1143h12v12h-12zM679 1155h24v12h-24zM715 1155h24v12h-24zM535 1227h12v12h-12zM571 1227h12v12h-12zM523 1239h12v12h-12zM583 1239h12v12h-12zM523 1251h12v12h-12zM583 1251h12v12h-12zM535 1263h24v12h-24zM571 1263h12v12h-12zM667 1335h24v12h-24zM727 1335h12v12h-12zM643 1347h12v12h-12zM775 1359h12v12h-12zM787 1371h12v12h-12zM799 1383h12v11h-12z"/><path fill="#f77" d="M811 1107h12v12h-12zM799 1119h12v12h-12zM631 1131h12v12h-12zM763 1143h12v12h-12zM667 1155h12v12h-12zM739 1155h12v12h-12zM523 1227h12v12h-12zM583 1227h12v12h-12zM523 1263h12v12h-12zM739 1335h12v12h-12zM763 1347h12v12h-12zM631 1359h12v12h-12zM787 1359h12v12h-12zM799 1371h12v12h-12zM811 1383h12v11h-12z"/><path fill="#66f" d="M499 1119h12v12h-12zM499 1131h12v12h-12zM547 1131h12v12h-12zM511 1143h12v12h-12zM559 1143h12v12h-12zM523 1155h12v12h-12zM571 1155h12v12h-12zM547 1167h36v12h-36zM547 1323h36v12h-36zM523 1335h12v12h-12zM571 1335h12v12h-12zM511 1347h12v12h-12zM559 1347h12v12h-12zM499 1359h12v12h-12zM547 1359h12v12h-12zM499 1371h12v12h-12z"/><path fill="#44f" d="M511 1119h12v12h-12zM535 1119h12v12h-12zM511 1131h36v12h-36zM535 1347h12v12h-12zM511 1359h36v12h-36zM511 1371h12v12h-12zM535 1371h12v12h-12z"/><path fill="#99f" d="M559 1119h12v12h-12zM487 1131h12v12h-12zM571 1131h12v12h-12zM487 1143h12v12h-12zM583 1143h12v12h-12zM499 1155h12v12h-12zM523 1167h12v12h-12zM595 1167h12v12h-12zM547 1179h12v12h-12zM583 1179h12v12h-12zM679 1203h36v12h-36zM667 1215h24v12h-24zM715 1215h24v12h-24zM667 1227h24v12h-24zM739 1227h24v12h-24zM679 1239h24v12h-24zM751 1239h12v12h-12zM679 1251h24v12h-24zM751 1251h12v12h-12zM667 1263h24v12h-24zM739 1263h24v12h-24zM667 1275h24v12h-24zM715 1275h24v12h-24zM679 1287h36v12h-36zM583 1311h12v12h-12zM595 1323h12v12h-12zM499 1335h12v12h-12zM487 1347h12v12h-12zM583 1347h12v12h-12zM487 1359h12v12h-12zM571 1359h12v12h-12zM559 1371h12v12h-12z"/><path fill="#bbf" d="M571 1119h12v12h-12zM475 1131h12v12h-12zM583 1131h12v12h-12zM475 1143h12v12h-12zM595 1143h12v12h-12zM475 1155h12v12h-12zM487 1167h24v12h-24zM523 1179h12v12h-12zM571 1191h12v12h-12zM667 1191h48v12h-48zM655 1203h12v12h-12zM727 1203h24v12h-24zM643 1215h12v12h-12zM763 1215h12v12h-12zM643 1227h12v12h-12zM643 1239h12v12h-12zM775 1239h12v12h-12zM643 1251h12v12h-12zM775 1251h12v12h-12zM643 1263h12v12h-12zM643 1275h12v12h-12zM763 1275h12v12h-12zM655 1287h12v12h-12zM727 1287h24v12h-24zM559 1299h36v12h-36zM667 1299h48v12h-48zM523 1311h12v12h-12zM487 1323h12v12h-12zM475 1335h12v12h-12zM475 1347h12v12h-12zM475 1359h12v12h-12zM583 1359h12v12h-12zM571 1371h12v12h-12z"/><path fill="#ddf" d="M583 1119h12v12h-12zM463 1131h12v12h-12zM595 1131h12v12h-12zM463 1143h12v12h-12zM607 1155h12v12h-12zM451 1167h12v12h-12zM451 1179h60v12h-60zM619 1179h12v12h-12zM535 1191h12v12h-12zM607 1191h48v12h-48zM727 1191h12v12h-12zM631 1203h12v12h-12zM775 1203h48v12h-48zM631 1215h12v12h-12zM787 1215h36v12h-36zM235 1227h48v12h-48zM343 1227h60v12h-60zM631 1227h12v12h-12zM799 1227h24v12h-24zM235 1239h168v12h-168zM631 1239h12v12h-12zM799 1239h12v12h-12zM235 1251h168v12h-168zM631 1251h12v12h-12zM799 1251h12v12h-12zM247 1263h36v12h-36zM343 1263h48v12h-48zM631 1263h12v12h-12zM799 1263h24v12h-24zM631 1275h12v12h-12zM787 1275h36v12h-36zM631 1287h12v12h-12zM763 1287h60v12h-60zM535 1299h12v12h-12zM607 1299h48v12h-48zM727 1299h12v12h-12zM451 1311h48v12h-48zM451 1323h12v12h-12zM607 1335h12v12h-12zM463 1347h12v12h-12zM595 1359h12v12h-12zM583 1371h12v12h-12z"/><path fill="#fff" d="M595 1119h12v12h-12zM451 1131h12v12h-12zM439 1143h12v12h-12zM427 1155h24v12h-24zM427 1167h12v12h-12zM895 1167h132v12h-132zM199 1179h228v12h-228zM643 1179h12v12h-12zM715 1179h12v12h-12zM775 1179h265v12h-265zM367 1191h60v12h-60zM487 1191h36v12h-36zM847 1191h156v12h-156zM1039 1191h1v12h-1zM439 1203h36v12h-36zM583 1203h24v12h-24zM427 1215h24v12h-24zM427 1227h12v12h-12zM619 1227h12v12h-12zM427 1239h12v12h-12zM619 1239h12v12h-12zM427 1251h12v12h-12zM619 1251h12v12h-12zM427 1263h12v12h-12zM619 1263h12v12h-12zM427 1275h24v12h-24zM439 1287h36v12h-36zM583 1287h24v12h-24zM955 1287h12v12h-12zM307 1299h120v12h-120zM499 1299h24v12h-24zM847 1299h168v12h-168zM1027 1299h13v12h-13zM199 1311h240v12h-240zM643 1311h12v12h-12zM703 1311h12v12h-12zM787 1311h253v12h-253zM427 1323h12v12h-12zM907 1323h108v12h-108zM439 1335h12v12h-12zM439 1347h12v12h-12zM451 1359h12v12h-12zM595 1371h12v12h-12z"/><path fill="#d00" d="M655 1119h12v12h-12zM727 1119h12v12h-12zM667 1131h12v12h-12zM715 1131h12v12h-12zM667 1359h12v12h-12zM715 1359h12v12h-12zM655 1371h12v12h-12zM727 1371h12v12h-12z"/><path fill="#b00" d="M667 1119h12v12h-12zM715 1119h12v12h-12zM691 1359h12v12h-12zM667 1371h12v12h-12zM715 1371h12v12h-12z"/><path fill="#f11" d="M751 1119h12v12h-12zM739 1131h12v12h-12zM667 1143h12v12h-12zM667 1347h12v12h-12zM751 1371h12v12h-12z"/><path fill="#f88" d="M811 1119h12v12h-12zM787 1131h12v12h-12zM775 1143h12v12h-12zM655 1155h12v12h-12zM751 1155h12v12h-12zM511 1239h12v12h-12zM595 1239h12v12h-12zM511 1251h12v12h-12zM595 1251h12v12h-12zM583 1263h12v12h-12zM655 1335h12v12h-12zM751 1335h12v12h-12zM775 1347h12v12h-12zM799 1359h12v12h-12zM811 1371h12v12h-12z"/><path fill="#f22" d="M727 1143h12v12h-12zM727 1347h12v12h-12z"/><path fill="#fdd" d="M199 1412h24v12h-24zM295 1412h24v12h-24zM487 1412h12v12h-12zM679 1412h12v12h-12zM883 1412h12v12h-12zM439 1424h12v12h-12zM487 1424h12v12h-12zM691 1424h12v12h-12zM727 1424h12v12h-12zM859 1424h12v12h-12zM583 1436h24v12h-24zM391 1448h12v12h-12zM415 1448h12v12h-12zM535 1448h36v12h-36zM763 1448h24v12h-24zM823 1448h24v12h-24zM463 1460h12v12h-12zM571 1460h12v12h-12zM607 1460h12v12h-12zM475 1472h12v12h-12zM607 1472h12v12h-12zM739 1472h12v12h-12zM1027 1472h13v12h-13zM475 1484h12v12h-12zM607 1484h12v12h-12zM739 1484h12v12h-12zM1027 1484h13v12h-13zM463 1496h12v12h-12zM607 1496h12v12h-12zM847 1496h12v12h-12zM391 1508h12v12h-12zM535 1508h24v12h-24zM763 1508h12v12h-12zM835 1508h12v12h-12zM583 1520h12v12h-12zM703 1520h24v12h-24zM439 1532h12v12h-12zM487 1532h12v12h-12zM691 1532h12v12h-12zM727 1532h12v12h-12zM859 1532h12v12h-12zM199 1544h24v12h-24zM295 1544h24v12h-24zM487 1544h12v12h-12zM679 1544h12v12h-12zM883 1544h12v12h-12zM199 1556h24v12h-24zM295 1556h24v12h-24zM487 1556h12v12h-12zM679 1556h12v12h-12zM859 1556h12v12h-12zM883 1556h12v12h-12zM439 1568h12v12h-12zM487 1568h12v12h-12zM511 1568h12v12h-12zM691 1568h12v12h-12zM727 1568h12v12h-12zM859 1568h12v12h-12zM595 1580h12v12h-12zM667 1580h12v12h-12zM415 1592h12v12h-12zM535 1592h12v12h-12zM559 1592h12v12h-12zM619 1592h12v12h-12zM751 1592h36v12h-36zM823 1592h24v12h-24zM475 1604h12v12h-12zM571 1604h12v12h-12zM607 1604h12v12h-12zM739 1604h12v12h-12zM475 1616h12v12h-12zM607 1616h12v12h-12zM739 1616h12v12h-12zM1027 1616h13v12h-13zM475 1628h12v12h-12zM607 1628h12v12h-12zM739 1628h12v12h-12zM1027 1628h13v12h-13zM463 1640h12v12h-12zM799 1640h12v12h-12zM847 1640h12v12h-12zM391 1652h24v12h-24zM547 1652h12v12h-12zM499 1664h12v12h-12zM583 1664h12v12h-12zM631 1664h12v12h-12zM703 1664h24v12h-24zM211 1676h12v12h-12zM307 1676h12v12h-12zM439 1676h12v12h-12zM487 1676h12v12h-12zM691 1676h12v12h-12zM727 1676h12v12h-12zM859 1676h12v12h-12zM199 1688h24v10h-24zM295 1688h24v10h-24zM487 1688h12v10h-12zM679 1688h12v10h-12zM883 1688h12v10h-12z"/><path fill="#fee" d="M223 1412h24v12h-24zM283 1412h12v12h-12zM319 1412h12v12h-12zM427 1412h12v12h-12zM943 1412h12v12h-12zM199 1424h48v12h-48zM283 1424h48v12h-48zM367 1424h12v12h-12zM427 1424h12v12h-12zM679 1424h12v12h-12zM883 1424h12v12h-12zM943 1424h12v12h-12zM211 1436h24v12h-24zM367 1436h12v12h-12zM439 1436h12v12h-12zM487 1436h36v12h-36zM631 1436h12v12h-12zM703 1436h24v12h-24zM859 1436h24v12h-24zM379 1448h12v12h-12zM463 1448h24v12h-24zM619 1448h12v12h-12zM751 1448h12v12h-12zM787 1448h36v12h-36zM847 1448h12v12h-12zM967 1448h24v12h-24zM1015 1448h25v12h-25zM379 1460h12v12h-12zM475 1460h12v12h-12zM739 1460h12v12h-12zM907 1460h12v12h-12zM967 1460h12v12h-12zM1015 1460h25v12h-25zM379 1472h12v12h-12zM523 1472h12v12h-12zM907 1472h12v12h-12zM1015 1472h12v12h-12zM379 1484h12v12h-12zM523 1484h12v12h-12zM907 1484h12v12h-12zM1015 1484h12v12h-12zM379 1496h12v12h-12zM475 1496h12v12h-12zM571 1496h12v12h-12zM739 1496h12v12h-12zM907 1496h12v12h-12zM967 1496h12v12h-12zM1015 1496h25v12h-25zM379 1508h12v12h-12zM415 1508h12v12h-12zM463 1508h24v12h-24zM559 1508h12v12h-12zM619 1508h12v12h-12zM751 1508h12v12h-12zM775 1508h60v12h-60zM847 1508h12v12h-12zM967 1508h24v12h-24zM1003 1508h37v12h-37zM211 1520h24v12h-24zM367 1520h12v12h-12zM439 1520h12v12h-12zM487 1520h36v12h-36zM631 1520h12v12h-12zM859 1520h36v12h-36zM943 1520h12v12h-12zM199 1532h48v12h-48zM283 1532h48v12h-48zM367 1532h12v12h-12zM427 1532h12v12h-12zM679 1532h12v12h-12zM883 1532h12v12h-12zM943 1532h12v12h-12zM223 1544h24v12h-24zM283 1544h12v12h-12zM319 1544h12v12h-12zM427 1544h12v12h-12zM943 1544h12v12h-12zM223 1556h24v12h-24zM283 1556h12v12h-12zM319 1556h12v12h-12zM427 1556h12v12h-12zM943 1556h12v12h-12zM199 1568h48v12h-48zM283 1568h48v12h-48zM367 1568h12v12h-12zM427 1568h12v12h-12zM679 1568h12v12h-12zM883 1568h12v12h-12zM943 1568h12v12h-12zM367 1580h12v12h-12zM439 1580h12v12h-12zM487 1580h36v12h-36zM583 1580h12v12h-12zM631 1580h12v12h-12zM703 1580h24v12h-24zM871 1580h12v12h-12zM379 1592h12v12h-12zM463 1592h24v12h-24zM607 1592h12v12h-12zM787 1592h36v12h-36zM847 1592h12v12h-12zM967 1592h24v12h-24zM1015 1592h25v12h-25zM379 1604h12v12h-12zM907 1604h12v12h-12zM967 1604h12v12h-12zM1015 1604h25v12h-25zM379 1616h12v12h-12zM523 1616h12v12h-12zM907 1616h12v12h-12zM1015 1616h12v12h-12zM379 1628h12v12h-12zM523 1628h12v12h-12zM907 1628h12v12h-12zM1015 1628h12v12h-12zM379 1640h12v12h-12zM475 1640h12v12h-12zM571 1640h12v12h-12zM607 1640h12v12h-12zM739 1640h12v12h-12zM907 1640h12v12h-12zM967 1640h12v12h-12zM1015 1640h25v12h-25zM379 1652h12v12h-12zM415 1652h12v12h-12zM463 1652h24v12h-24zM535 1652h12v12h-12zM559 1652h12v12h-12zM619 1652h12v12h-12zM751 1652h48v12h-48zM811 1652h36v12h-36zM967 1652h24v12h-24zM1003 1652h37v12h-37zM211 1664h24v12h-24zM307 1664h24v12h-24zM367 1664h12v12h-12zM427 1664h24v12h-24zM487 1664h12v12h-12zM511 1664h12v12h-12zM727 1664h12v12h-12zM859 1664h36v12h-36zM943 1664h12v12h-12zM199 1676h12v12h-12zM223 1676h24v12h-24zM283 1676h24v12h-24zM319 1676h12v12h-12zM427 1676h12v12h-12zM679 1676h12v12h-12zM883 1676h12v12h-12zM943 1676h12v12h-12zM223 1688h24v10h-24zM283 1688h12v10h-12zM319 1688h12v10h-12zM427 1688h12v10h-12zM943 1688h12v10h-12z"/><path fill="#fff" d="M247 1412h36v12h-36zM331 1412h48v12h-48zM451 1412h12v12h-12zM895 1412h12v12h-12zM919 1412h24v12h-24zM955 1412h12v12h-12zM991 1412h12v12h-12zM247 1424h36v12h-36zM331 1424h36v12h-36zM451 1424h12v12h-12zM523 1424h12v12h-12zM895 1424h12v12h-12zM919 1424h24v12h-24zM955 1424h12v12h-12zM979 1424h36v12h-36zM199 1436h12v12h-12zM235 1436h132v12h-132zM379 1436h12v12h-12zM427 1436h12v12h-12zM451 1436h12v12h-12zM475 1436h12v12h-12zM523 1436h12v12h-12zM679 1436h24v12h-24zM727 1436h12v12h-12zM883 1436h157v12h-157zM211 1448h84v12h-84zM319 1448h60v12h-60zM427 1448h12v12h-12zM451 1448h12v12h-12zM487 1448h12v12h-12zM523 1448h12v12h-12zM571 1448h12v12h-12zM607 1448h12v12h-12zM739 1448h12v12h-12zM883 1448h84v12h-84zM991 1448h24v12h-24zM247 1460h36v12h-36zM331 1460h36v12h-36zM451 1460h12v12h-12zM523 1460h12v12h-12zM895 1460h12v12h-12zM919 1460h24v12h-24zM955 1460h12v12h-12zM979 1460h36v12h-36zM247 1472h36v12h-36zM343 1472h24v12h-24zM451 1472h12v12h-12zM895 1472h12v12h-12zM919 1472h12v12h-12zM955 1472h60v12h-60zM247 1484h36v12h-36zM343 1484h24v12h-24zM451 1484h12v12h-12zM895 1484h12v12h-12zM919 1484h12v12h-12zM955 1484h60v12h-60zM247 1496h36v12h-36zM331 1496h48v12h-48zM451 1496h12v12h-12zM523 1496h12v12h-12zM895 1496h12v12h-12zM919 1496h24v12h-24zM955 1496h12v12h-12zM979 1496h36v12h-36zM211 1508h84v12h-84zM319 1508h60v12h-60zM427 1508h36v12h-36zM487 1508h12v12h-12zM523 1508h12v12h-12zM571 1508h12v12h-12zM607 1508h12v12h-12zM739 1508h12v12h-12zM883 1508h84v12h-84zM991 1508h12v12h-12zM199 1520h12v12h-12zM235 1520h132v12h-132zM379 1520h12v12h-12zM427 1520h12v12h-12zM451 1520h12v12h-12zM475 1520h12v12h-12zM523 1520h12v12h-12zM679 1520h24v12h-24zM727 1520h12v12h-12zM895 1520h48v12h-48zM955 1520h85v12h-85zM247 1532h36v12h-36zM331 1532h36v12h-36zM451 1532h12v12h-12zM523 1532h12v12h-12zM895 1532h12v12h-12zM919 1532h24v12h-24zM955 1532h12v12h-12zM979 1532h36v12h-36zM247 1544h36v12h-36zM331 1544h48v12h-48zM451 1544h12v12h-12zM895 1544h12v12h-12zM919 1544h24v12h-24zM955 1544h12v12h-12zM991 1544h12v12h-12zM247 1556h36v12h-36zM331 1556h48v12h-48zM451 1556h12v12h-12zM895 1556h12v12h-12zM919 1556h24v12h-24zM955 1556h12v12h-12zM991 1556h12v12h-12zM247 1568h36v12h-36zM331 1568h36v12h-36zM451 1568h12v12h-12zM523 1568h12v12h-12zM895 1568h48v12h-48zM955 1568h60v12h-60zM199 1580h168v12h-168zM379 1580h12v12h-12zM427 1580h12v12h-12zM451 1580h12v12h-12zM475 1580h12v12h-12zM523 1580h12v12h-12zM691 1580h12v12h-12zM727 1580h12v12h-12zM859 1580h12v12h-12zM883 1580h157v12h-157zM223 1592h72v12h-72zM319 1592h60v12h-60zM427 1592h12v12h-12zM451 1592h12v12h-12zM487 1592h12v12h-12zM523 1592h12v12h-12zM571 1592h12v12h-12zM739 1592h12v12h-12zM883 1592h84v12h-84zM991 1592h24v12h-24zM247 1604h36v12h-36zM331 1604h36v12h-36zM451 1604h12v12h-12zM523 1604h12v12h-12zM895 1604h12v12h-12zM919 1604h12v12h-12zM955 1604h12v12h-12zM979 1604h36v12h-36zM247 1616h36v12h-36zM343 1616h24v12h-24zM451 1616h12v12h-12zM895 1616h12v12h-12zM919 1616h12v12h-12zM955 1616h36v12h-36zM1003 1616h12v12h-12zM247 1628h36v12h-36zM343 1628h24v12h-24zM451 1628h12v12h-12zM895 1628h12v12h-12zM919 1628h12v12h-12zM955 1628h60v12h-60zM247 1640h36v12h-36zM331 1640h48v12h-48zM451 1640h12v12h-12zM523 1640h12v12h-12zM895 1640h12v12h-12zM919 1640h24v12h-24zM955 1640h12v12h-12zM979 1640h36v12h-36zM199 1652h96v12h-96zM319 1652h60v12h-60zM427 1652h36v12h-36zM487 1652h12v12h-12zM523 1652h12v12h-12zM571 1652h12v12h-12zM607 1652h12v12h-12zM739 1652h12v12h-12zM799 1652h12v12h-12zM847 1652h12v12h-12zM883 1652h84v12h-84zM991 1652h12v12h-12zM199 1664h12v12h-12zM235 1664h72v12h-72zM331 1664h36v12h-36zM379 1664h12v12h-12zM451 1664h12v12h-12zM475 1664h12v12h-12zM523 1664h12v12h-12zM679 1664h24v12h-24zM895 1664h48v12h-48zM955 1664h85v12h-85zM247 1676h36v12h-36zM331 1676h48v12h-48zM451 1676h12v12h-12zM523 1676h12v12h-12zM895 1676h12v12h-12zM919 1676h24v12h-24zM955 1676h12v12h-12zM979 1676h36v12h-36zM247 1688h36v10h-36zM331 1688h48v10h-48zM451 1688h12v10h-12zM895 1688h12v10h-12zM919 1688h24v10h-24zM955 1688h12v10h-12zM991 1688h12v10h-12z"/><path fill="#ddf" d="M379 1412h12v12h-12zM475 1412h12v12h-12zM571 1412h12v12h-12zM607 1412h12v12h-12zM1027 1412h13v12h-13zM463 1424h12v12h-12zM571 1424h12v12h-12zM607 1424h12v12h-12zM391 1436h12v12h-12zM547 1436h24v12h-24zM619 1436h12v12h-12zM751 1436h48v12h-48zM823 1436h24v12h-24zM583 1448h24v12h-24zM631 1448h12v12h-12zM703 1448h24v12h-24zM439 1460h12v12h-12zM487 1460h12v12h-12zM691 1460h12v12h-12zM727 1460h12v12h-12zM859 1460h12v12h-12zM211 1472h24v12h-24zM307 1472h12v12h-12zM691 1472h12v12h-12zM727 1472h12v12h-12zM859 1472h12v12h-12zM883 1472h12v12h-12zM211 1484h24v12h-24zM307 1484h12v12h-12zM691 1484h12v12h-12zM727 1484h12v12h-12zM859 1484h12v12h-12zM883 1484h12v12h-12zM439 1496h12v12h-12zM487 1496h12v12h-12zM691 1496h12v12h-12zM727 1496h12v12h-12zM859 1496h12v12h-12zM583 1508h24v12h-24zM631 1508h12v12h-12zM703 1508h24v12h-24zM391 1520h12v12h-12zM415 1520h12v12h-12zM547 1520h12v12h-12zM619 1520h12v12h-12zM751 1520h12v12h-12zM787 1520h12v12h-12zM823 1520h24v12h-24zM475 1532h12v12h-12zM571 1532h12v12h-12zM607 1532h12v12h-12zM1039 1532h1v12h-1zM379 1544h12v12h-12zM475 1544h12v12h-12zM571 1544h12v12h-12zM607 1544h12v12h-12zM1027 1544h13v12h-13zM379 1556h12v12h-12zM475 1556h12v12h-12zM571 1556h12v12h-12zM607 1556h12v12h-12zM1027 1556h13v12h-13zM463 1568h12v12h-12zM571 1568h12v12h-12zM607 1568h12v12h-12zM847 1568h12v12h-12zM403 1580h12v12h-12zM547 1580h24v12h-24zM619 1580h12v12h-12zM751 1580h36v12h-36zM835 1580h12v12h-12zM499 1592h12v12h-12zM583 1592h24v12h-24zM631 1592h12v12h-12zM703 1592h24v12h-24zM211 1604h12v12h-12zM439 1604h12v12h-12zM487 1604h12v12h-12zM691 1604h12v12h-12zM727 1604h12v12h-12zM859 1604h12v12h-12zM211 1616h24v12h-24zM307 1616h12v12h-12zM691 1616h12v12h-12zM727 1616h12v12h-12zM859 1616h12v12h-12zM883 1616h12v12h-12zM211 1628h24v12h-24zM307 1628h12v12h-12zM691 1628h12v12h-12zM727 1628h12v12h-12zM859 1628h12v12h-12zM883 1628h12v12h-12zM439 1640h12v12h-12zM487 1640h12v12h-12zM511 1640h12v12h-12zM691 1640h12v12h-12zM727 1640h12v12h-12zM859 1640h12v12h-12zM415 1664h12v12h-12zM619 1664h12v12h-12zM751 1664h12v12h-12zM787 1664h12v12h-12zM811 1664h24v12h-24zM475 1676h12v12h-12zM571 1676h12v12h-12zM607 1676h12v12h-12zM1027 1676h13v12h-13zM379 1688h12v10h-12zM475 1688h12v10h-12zM571 1688h12v10h-12zM607 1688h12v10h-12zM1027 1688h13v10h-13z"/><path fill="#77f" d="M391 1412h12v12h-12zM547 1412h12v12h-12zM763 1412h12v12h-12zM403 1424h12v12h-12zM595 1472h12v12h-12zM595 1484h12v12h-12zM391 1544h12v12h-12zM547 1544h12v12h-12zM763 1544h12v12h-12zM391 1556h12v12h-12zM547 1556h12v12h-12zM763 1556h12v12h-12zM403 1568h12v12h-12zM655 1592h12v12h-12zM595 1616h12v12h-12zM595 1628h12v12h-12zM391 1688h12v10h-12zM547 1688h12v10h-12zM763 1688h12v10h-12z"/><path fill="#44f" d="M403 1412h12v12h-12zM403 1544h12v12h-12zM403 1556h12v12h-12zM403 1688h12v10h-12z"/><path fill="#99f" d="M415 1412h12v12h-12zM751 1412h12v12h-12zM823 1412h12v12h-12zM391 1424h12v12h-12zM547 1424h12v12h-12zM763 1424h12v12h-12zM643 1448h12v12h-12zM595 1460h12v12h-12zM703 1472h24v12h-24zM703 1484h24v12h-24zM595 1496h12v12h-12zM655 1508h12v12h-12zM391 1532h12v12h-12zM547 1532h24v12h-24zM763 1532h24v12h-24zM415 1544h12v12h-12zM535 1544h12v12h-12zM751 1544h12v12h-12zM823 1544h12v12h-12zM415 1556h12v12h-12zM751 1556h12v12h-12zM823 1556h12v12h-12zM547 1568h12v12h-12zM763 1568h12v12h-12zM595 1604h12v12h-12zM703 1616h24v12h-24zM703 1628h24v12h-24zM391 1676h12v12h-12zM547 1676h24v12h-24zM763 1676h24v12h-24zM835 1676h12v12h-12zM415 1688h12v10h-12zM535 1688h12v10h-12zM751 1688h12v10h-12zM823 1688h12v10h-12z"/><path fill="#fcc" d="M439 1412h12v12h-12zM691 1412h12v12h-12zM727 1412h12v12h-12zM859 1412h12v12h-12zM499 1424h24v12h-24zM871 1424h12v12h-12zM667 1436h12v12h-12zM403 1448h12v12h-12zM799 1460h24v12h-24zM847 1460h12v12h-12zM463 1472h12v12h-12zM571 1472h12v12h-12zM463 1484h12v12h-12zM571 1484h12v12h-12zM799 1496h24v12h-24zM403 1508h12v12h-12zM595 1520h12v12h-12zM667 1520h12v12h-12zM511 1532h12v12h-12zM871 1532h12v12h-12zM439 1544h12v12h-12zM691 1544h12v12h-12zM727 1544h12v12h-12zM859 1544h12v12h-12zM439 1556h12v12h-12zM691 1556h12v12h-12zM727 1556h12v12h-12zM499 1568h12v12h-12zM871 1568h12v12h-12zM391 1592h12v12h-12zM547 1592h12v12h-12zM463 1604h12v12h-12zM799 1604h24v12h-24zM847 1604h12v12h-12zM463 1616h12v12h-12zM571 1616h12v12h-12zM463 1628h12v12h-12zM571 1628h12v12h-12zM811 1640h12v12h-12zM595 1664h12v12h-12zM511 1676h12v12h-12zM871 1676h12v12h-12zM439 1688h12v10h-12zM691 1688h12v10h-12zM727 1688h12v10h-12zM859 1688h12v10h-12z"/><path fill="#ccf" d="M463 1412h12v12h-12zM799 1412h12v12h-12zM847 1412h12v12h-12zM799 1424h24v12h-24zM847 1424h12v12h-12zM403 1436h12v12h-12zM511 1460h12v12h-12zM871 1460h12v12h-12zM439 1472h12v12h-12zM487 1472h12v12h-12zM511 1472h12v12h-12zM439 1484h12v12h-12zM487 1484h12v12h-12zM511 1484h12v12h-12zM499 1496h24v12h-24zM871 1496h12v12h-12zM403 1520h12v12h-12zM559 1520h12v12h-12zM763 1520h24v12h-24zM463 1532h12v12h-12zM799 1532h24v12h-24zM847 1532h12v12h-12zM463 1544h12v12h-12zM799 1544h12v12h-12zM847 1544h12v12h-12zM463 1556h12v12h-12zM799 1556h12v12h-12zM847 1556h12v12h-12zM799 1568h24v12h-24zM511 1604h12v12h-12zM871 1604h12v12h-12zM439 1616h12v12h-12zM487 1616h12v12h-12zM511 1616h12v12h-12zM439 1628h12v12h-12zM487 1628h12v12h-12zM511 1628h12v12h-12zM499 1640h12v12h-12zM871 1640h12v12h-12zM667 1652h12v12h-12zM391 1664h12v12h-12zM547 1664h24v12h-24zM763 1664h24v12h-24zM835 1664h12v12h-12zM463 1676h12v12h-12zM799 1676h24v12h-24zM847 1676h12v12h-12zM463 1688h12v10h-12zM799 1688h12v10h-12zM847 1688h12v10h-12z"/><path fill="#faa" d="M499 1412h12v12h-12zM583 1424h12v12h-12zM703 1424h12v12h-12zM643 1436h12v12h-12zM823 1460h24v12h-24zM535 1472h12v12h-12zM535 1484h12v12h-12zM559 1496h12v12h-12zM775 1496h12v12h-12zM823 1496h24v12h-24zM583 1532h12v12h-12zM703 1532h24v12h-24zM499 1544h12v12h-12zM499 1556h12v12h-12zM583 1568h24v12h-24zM655 1580h12v12h-12zM415 1604h12v12h-12zM619 1604h12v12h-12zM751 1604h12v12h-12zM823 1604h12v12h-12zM535 1616h12v12h-12zM535 1628h12v12h-12zM391 1640h12v12h-12zM547 1640h24v12h-24zM763 1640h24v12h-24zM835 1640h12v12h-12zM583 1676h12v12h-12zM703 1676h24v12h-24zM499 1688h12v10h-12z"/><path fill="#fbb" d="M511 1412h12v12h-12zM871 1412h12v12h-12zM631 1424h12v12h-12zM715 1424h12v12h-12zM415 1460h12v12h-12zM535 1460h12v12h-12zM619 1460h12v12h-12zM751 1460h12v12h-12zM787 1460h12v12h-12zM799 1472h24v12h-24zM847 1472h12v12h-12zM799 1484h24v12h-24zM847 1484h12v12h-12zM415 1496h12v12h-12zM535 1496h12v12h-12zM619 1496h12v12h-12zM751 1496h12v12h-12zM787 1496h12v12h-12zM499 1532h12v12h-12zM631 1532h12v12h-12zM511 1544h12v12h-12zM871 1544h12v12h-12zM511 1556h12v12h-12zM871 1556h12v12h-12zM631 1568h12v12h-12zM703 1568h24v12h-24zM643 1580h12v12h-12zM403 1592h12v12h-12zM535 1604h12v12h-12zM787 1604h12v12h-12zM799 1616h24v12h-24zM847 1616h12v12h-12zM799 1628h24v12h-24zM847 1628h12v12h-12zM415 1640h12v12h-12zM535 1640h12v12h-12zM619 1640h12v12h-12zM751 1640h12v12h-12zM787 1640h12v12h-12zM823 1640h12v12h-12zM667 1664h12v12h-12zM499 1676h12v12h-12zM631 1676h12v12h-12zM511 1688h12v10h-12zM871 1688h12v10h-12z"/><path fill="#eef" d="M523 1412h12v12h-12zM739 1412h12v12h-12zM907 1412h12v12h-12zM967 1412h24v12h-24zM1003 1412h24v12h-24zM379 1424h12v12h-12zM475 1424h12v12h-12zM739 1424h12v12h-12zM907 1424h12v12h-12zM967 1424h12v12h-12zM1015 1424h25v12h-25zM415 1436h12v12h-12zM463 1436h12v12h-12zM535 1436h12v12h-12zM571 1436h12v12h-12zM607 1436h12v12h-12zM739 1436h12v12h-12zM799 1436h24v12h-24zM847 1436h12v12h-12zM199 1448h12v12h-12zM295 1448h24v12h-24zM439 1448h12v12h-12zM499 1448h24v12h-24zM679 1448h24v12h-24zM727 1448h12v12h-12zM859 1448h24v12h-24zM199 1460h48v12h-48zM283 1460h48v12h-48zM367 1460h12v12h-12zM427 1460h12v12h-12zM679 1460h12v12h-12zM883 1460h12v12h-12zM943 1460h12v12h-12zM199 1472h12v12h-12zM235 1472h12v12h-12zM283 1472h24v12h-24zM319 1472h24v12h-24zM367 1472h12v12h-12zM427 1472h12v12h-12zM679 1472h12v12h-12zM931 1472h24v12h-24zM199 1484h12v12h-12zM235 1484h12v12h-12zM283 1484h24v12h-24zM319 1484h24v12h-24zM367 1484h12v12h-12zM427 1484h12v12h-12zM679 1484h12v12h-12zM931 1484h24v12h-24zM199 1496h48v12h-48zM283 1496h48v12h-48zM427 1496h12v12h-12zM679 1496h12v12h-12zM883 1496h12v12h-12zM943 1496h12v12h-12zM199 1508h12v12h-12zM295 1508h24v12h-24zM499 1508h24v12h-24zM679 1508h24v12h-24zM727 1508h12v12h-12zM859 1508h24v12h-24zM463 1520h12v12h-12zM535 1520h12v12h-12zM571 1520h12v12h-12zM607 1520h12v12h-12zM739 1520h12v12h-12zM799 1520h24v12h-24zM847 1520h12v12h-12zM379 1532h12v12h-12zM739 1532h12v12h-12zM907 1532h12v12h-12zM967 1532h12v12h-12zM1015 1532h24v12h-24zM523 1544h12v12h-12zM739 1544h12v12h-12zM907 1544h12v12h-12zM967 1544h24v12h-24zM1003 1544h24v12h-24zM523 1556h12v12h-12zM739 1556h12v12h-12zM907 1556h12v12h-12zM967 1556h24v12h-24zM1003 1556h24v12h-24zM379 1568h12v12h-12zM475 1568h12v12h-12zM739 1568h12v12h-12zM1015 1568h25v12h-25zM391 1580h12v12h-12zM415 1580h12v12h-12zM463 1580h12v12h-12zM535 1580h12v12h-12zM571 1580h12v12h-12zM607 1580h12v12h-12zM679 1580h12v12h-12zM739 1580h12v12h-12zM787 1580h48v12h-48zM847 1580h12v12h-12zM199 1592h24v12h-24zM295 1592h24v12h-24zM439 1592h12v12h-12zM511 1592h12v12h-12zM679 1592h24v12h-24zM727 1592h12v12h-12zM859 1592h24v12h-24zM199 1604h12v12h-12zM223 1604h24v12h-24zM283 1604h48v12h-48zM367 1604h12v12h-12zM427 1604h12v12h-12zM679 1604h12v12h-12zM883 1604h12v12h-12zM931 1604h24v12h-24zM199 1616h12v12h-12zM235 1616h12v12h-12zM283 1616h24v12h-24zM319 1616h24v12h-24zM367 1616h12v12h-12zM427 1616h12v12h-12zM679 1616h12v12h-12zM931 1616h24v12h-24zM991 1616h12v12h-12zM199 1628h12v12h-12zM235 1628h12v12h-12zM283 1628h24v12h-24zM319 1628h24v12h-24zM367 1628h12v12h-12zM427 1628h12v12h-12zM679 1628h12v12h-12zM931 1628h24v12h-24zM199 1640h48v12h-48zM283 1640h48v12h-48zM427 1640h12v12h-12zM679 1640h12v12h-12zM883 1640h12v12h-12zM943 1640h12v12h-12zM295 1652h24v12h-24zM499 1652h24v12h-24zM583 1652h24v12h-24zM631 1652h12v12h-12zM679 1652h60v12h-60zM859 1652h24v12h-24zM463 1664h12v12h-12zM535 1664h12v12h-12zM571 1664h12v12h-12zM607 1664h12v12h-12zM739 1664h12v12h-12zM799 1664h12v12h-12zM847 1664h12v12h-12zM379 1676h12v12h-12zM739 1676h12v12h-12zM907 1676h12v12h-12zM967 1676h12v12h-12zM1015 1676h12v12h-12zM523 1688h12v10h-12zM739 1688h12v10h-12zM907 1688h12v10h-12zM967 1688h24v10h-24zM1003 1688h24v10h-24z"/><path fill="#aaf" d="M535 1412h12v12h-12zM619 1412h12v12h-12zM787 1412h12v12h-12zM559 1424h12v12h-12zM775 1424h12v12h-12zM823 1424h24v12h-24zM583 1460h12v12h-12zM703 1460h24v12h-24zM499 1472h12v12h-12zM631 1472h12v12h-12zM499 1484h12v12h-12zM631 1484h12v12h-12zM583 1496h12v12h-12zM643 1508h12v12h-12zM751 1532h12v12h-12zM823 1532h24v12h-24zM619 1544h12v12h-12zM787 1544h12v12h-12zM535 1556h12v12h-12zM619 1556h12v12h-12zM787 1556h12v12h-12zM391 1568h12v12h-12zM559 1568h12v12h-12zM775 1568h12v12h-12zM835 1568h12v12h-12zM667 1592h12v12h-12zM583 1604h12v12h-12zM703 1604h24v12h-24zM499 1616h12v12h-12zM631 1616h12v12h-12zM499 1628h12v12h-12zM631 1628h12v12h-12zM583 1640h24v12h-24zM655 1652h12v12h-12zM415 1676h12v12h-12zM619 1676h12v12h-12zM751 1676h12v12h-12zM823 1676h12v12h-12zM619 1688h12v10h-12zM787 1688h12v10h-12z"/><path fill="#88f" d="M559 1412h12v12h-12zM775 1412h12v12h-12zM835 1412h12v12h-12zM655 1448h12v12h-12zM583 1472h12v12h-12zM583 1484h12v12h-12zM559 1544h12v12h-12zM775 1544h12v12h-12zM835 1544h12v12h-12zM559 1556h12v12h-12zM775 1556h12v12h-12zM835 1556h12v12h-12zM643 1592h12v12h-12zM583 1616h12v12h-12zM583 1628h12v12h-12zM559 1688h12v10h-12zM775 1688h12v10h-12zM835 1688h12v10h-12z"/><path fill="#f88" d="M583 1412h12v12h-12zM835 1472h12v12h-12zM835 1484h12v12h-12zM655 1520h12v12h-12zM583 1544h12v12h-12zM583 1556h12v12h-12zM823 1616h24v12h-24zM835 1628h12v12h-12zM643 1664h12v12h-12zM583 1688h12v10h-12z"/><path fill="#f77" d="M595 1412h12v12h-12zM403 1460h12v12h-12zM391 1472h12v12h-12zM547 1472h24v12h-24zM763 1472h24v12h-24zM391 1484h12v12h-12zM547 1484h24v12h-24zM763 1484h24v12h-24zM403 1496h12v12h-12zM595 1544h12v12h-12zM595 1556h12v12h-12zM391 1616h12v12h-12zM547 1616h24v12h-24zM763 1616h24v12h-24zM391 1628h12v12h-12zM547 1628h24v12h-24zM763 1628h24v12h-24zM403 1640h12v12h-12zM655 1664h12v12h-12zM595 1688h12v10h-12z"/><path fill="#f99" d="M631 1412h12v12h-12zM703 1412h24v12h-24zM595 1424h12v12h-12zM655 1436h12v12h-12zM391 1460h12v12h-12zM547 1460h24v12h-24zM763 1460h24v12h-24zM415 1472h12v12h-12zM619 1472h12v12h-12zM751 1472h12v12h-12zM787 1472h12v12h-12zM823 1472h12v12h-12zM415 1484h12v12h-12zM619 1484h12v12h-12zM751 1484h12v12h-12zM787 1484h12v12h-12zM823 1484h12v12h-12zM391 1496h12v12h-12zM547 1496h12v12h-12zM763 1496h12v12h-12zM643 1520h12v12h-12zM595 1532h12v12h-12zM631 1544h12v12h-12zM703 1544h24v12h-24zM631 1556h12v12h-12zM703 1556h24v12h-24zM391 1604h12v12h-12zM547 1604h24v12h-24zM763 1604h24v12h-24zM835 1604h12v12h-12zM415 1616h12v12h-12zM619 1616h12v12h-12zM751 1616h12v12h-12zM787 1616h12v12h-12zM415 1628h12v12h-12zM619 1628h12v12h-12zM751 1628h12v12h-12zM787 1628h12v12h-12zM823 1628h12v12h-12zM595 1676h12v12h-12zM631 1688h12v10h-12zM703 1688h24v10h-24z"/><path fill="#c00" d="M643 1412h12v12h-12zM643 1544h12v12h-12zM643 1556h12v12h-12zM643 1688h12v10h-12z"/><path fill="#a00" d="M655 1412h12v12h-12zM655 1544h12v12h-12zM655 1556h12v12h-12zM655 1688h12v10h-12z"/><path fill="#f11" d="M667 1412h12v12h-12zM667 1544h12v12h-12zM667 1556h12v12h-12zM643 1568h12v12h-12zM667 1688h12v10h-12z"/><path fill="#bbf" d="M811 1412h12v12h-12zM415 1424h12v12h-12zM535 1424h12v12h-12zM619 1424h12v12h-12zM751 1424h12v12h-12zM787 1424h12v12h-12zM667 1448h12v12h-12zM499 1460h12v12h-12zM631 1460h12v12h-12zM871 1472h12v12h-12zM871 1484h12v12h-12zM631 1496h12v12h-12zM703 1496h24v12h-24zM667 1508h12v12h-12zM415 1532h12v12h-12zM535 1532h12v12h-12zM619 1532h12v12h-12zM787 1532h12v12h-12zM811 1544h12v12h-12zM811 1556h12v12h-12zM415 1568h12v12h-12zM535 1568h12v12h-12zM619 1568h12v12h-12zM751 1568h12v12h-12zM787 1568h12v12h-12zM823 1568h12v12h-12zM499 1604h12v12h-12zM631 1604h12v12h-12zM871 1616h12v12h-12zM871 1628h12v12h-12zM631 1640h12v12h-12zM703 1640h24v12h-24zM643 1652h12v12h-12zM403 1664h12v12h-12zM535 1676h12v12h-12zM787 1676h12v12h-12zM811 1688h12v10h-12z"/><path fill="#f00" d="M643 1424h12v12h-12zM643 1532h12v12h-12zM643 1676h12v12h-12z"/><path fill="#d00" d="M655 1424h12v12h-12zM655 1532h12v12h-12zM655 1676h12v12h-12z"/><path fill="#f55" d="M667 1424h12v12h-12zM667 1532h12v12h-12z"/><path fill="#00f" d="M643 1460h12v12h-12zM643 1604h12v12h-12z"/><path fill="#00d" d="M655 1460h12v12h-12zM655 1496h12v12h-12z"/><path fill="#55f" d="M667 1460h12v12h-12zM667 1604h12v12h-12z"/><path fill="#f44" d="M403 1472h12v12h-12zM403 1484h12v12h-12zM403 1628h12v12h-12zM667 1676h12v12h-12z"/><path fill="#00c" d="M643 1472h12v12h-12zM643 1484h12v12h-12zM655 1604h12v12h-12zM643 1628h12v12h-12z"/><path fill="#008" d="M655 1472h12v12h-12zM655 1616h12v12h-12z"/><path fill="#22f" d="M667 1472h12v12h-12zM667 1616h12v12h-12z"/><path fill="#009" d="M655 1484h12v12h-12zM655 1628h12v12h-12z"/><path fill="#33f" d="M667 1484h12v12h-12zM667 1628h12v12h-12z"/><path fill="#11f" d="M643 1496h12v12h-12zM643 1640h12v12h-12z"/><path fill="#66f" d="M667 1496h12v12h-12zM403 1532h12v12h-12zM667 1640h12v12h-12zM403 1676h12v12h-12z"/><path fill="#e00" d="M655 1568h12v12h-12z"/><path fill="#f66" d="M667 1568h12v12h-12zM403 1604h12v12h-12z"/><path fill="#f33" d="M403 1616h12v12h-12z"/><path fill="#00b" d="M643 1616h12v12h-12z"/><path fill="#00e" d="M655 1640h12v12h-12z"/></g><g filter="url(#hdf)"><rect x="196" y="1104" width="847" height="293" fill="url(#hdx)"/><rect x="196" y="1403" width="847" height="293" fill="url(#hdy)"/></g><g filter="url(#hef)"><rect x="196" y="1409" width="847" height="292" fill="url(#hex)"/><rect x="196" y="1707" width="847" height="292" fill="url(#hey)"/></g>
<rect x="1052.5" y="1107.6" width="43.8" height="286.6" fill="url(#seis)" stroke="#222" stroke-width="1.7"/>
<line x1="1096.3" y1="1129.2" x2="1103.5" y2="1129.2" stroke="#222" stroke-width="1.7"/>
<text x="1107.1" y="1141" font-size="32.3" text-anchor="start" fill="#000">0.51</text>
<line x1="1096.3" y1="1250.5" x2="1103.5" y2="1250.5" stroke="#222" stroke-width="1.7"/>
<text x="1107.1" y="1262.3" font-size="32.3" text-anchor="start" fill="#000">0.50</text>
<line x1="1096.3" y1="1371.7" x2="1103.5" y2="1371.7" stroke="#222" stroke-width="1.7"/>
<text x="1107.1" y="1383.5" font-size="32.3" text-anchor="start" fill="#000">0.49</text>
<rect x="1052.5" y="1412.6" width="43.8" height="285.1" fill="url(#seis)" stroke="#222" stroke-width="1.7"/>
<line x1="1096.3" y1="1423.3" x2="1103.5" y2="1423.3" stroke="#222" stroke-width="1.7"/>
<text x="1107.1" y="1435.1" font-size="32.3" text-anchor="start" fill="#000">0.1600</text>
<line x1="1096.3" y1="1500.8" x2="1103.5" y2="1500.8" stroke="#222" stroke-width="1.7"/>
<text x="1107.1" y="1512.6" font-size="32.3" text-anchor="start" fill="#000">0.1595</text>
<line x1="1096.3" y1="1580.6" x2="1103.5" y2="1580.6" stroke="#222" stroke-width="1.7"/>
<text x="1107.1" y="1592.4" font-size="32.3" text-anchor="start" fill="#000">0.1590</text>
<line x1="1096.3" y1="1658.5" x2="1103.5" y2="1658.5" stroke="#222" stroke-width="1.7"/>
<text x="1107.1" y="1670.3" font-size="32.3" text-anchor="start" fill="#000">0.1585</text>
<rect x="199.8" y="1107.6" width="839.6" height="286.6" fill="none" stroke="#222" stroke-width="1.7"/>
<line x1="193.8" y1="1121.3" x2="199.8" y2="1121.3" stroke="#222" stroke-width="1.7"/>
<text x="188.2" y="1133.1" font-size="32.3" text-anchor="end" fill="#000">6</text>
<line x1="193.8" y1="1211" x2="199.8" y2="1211" stroke="#222" stroke-width="1.7"/>
<text x="188.2" y="1222.8" font-size="32.3" text-anchor="end" fill="#000">4</text>
<line x1="193.8" y1="1302.5" x2="199.8" y2="1302.5" stroke="#222" stroke-width="1.7"/>
<text x="188.2" y="1314.3" font-size="32.3" text-anchor="end" fill="#000">2</text>
<line x1="193.8" y1="1394.2" x2="199.8" y2="1394.2" stroke="#222" stroke-width="1.7"/>
<text x="188.2" y="1406" font-size="32.3" text-anchor="end" fill="#000">0</text>
<text x="1019.6" y="1164.8" font-size="62" text-anchor="end" fill="#000">d</text>
<rect x="199.8" y="1412.6" width="839.6" height="285.1" fill="none" stroke="#222" stroke-width="1.7"/>
<line x1="193.8" y1="1425.9" x2="199.8" y2="1425.9" stroke="#222" stroke-width="1.7"/>
<text x="188.2" y="1437.7" font-size="32.3" text-anchor="end" fill="#000">6</text>
<line x1="193.8" y1="1516.7" x2="199.8" y2="1516.7" stroke="#222" stroke-width="1.7"/>
<text x="188.2" y="1528.5" font-size="32.3" text-anchor="end" fill="#000">4</text>
<line x1="193.8" y1="1607.9" x2="199.8" y2="1607.9" stroke="#222" stroke-width="1.7"/>
<text x="188.2" y="1619.7" font-size="32.3" text-anchor="end" fill="#000">2</text>
<line x1="193.8" y1="1697.5" x2="199.8" y2="1697.5" stroke="#222" stroke-width="1.7"/>
<text x="188.2" y="1709.3" font-size="32.3" text-anchor="end" fill="#000">0</text>
<text x="1019.6" y="1469.2" font-size="62" text-anchor="end" fill="#000">e</text>
<g transform="translate(243.4,1189.1)"><text x="0" y="0" font-size="42">P</text><text x="25.8" y="3.2" font-size="58" font-weight="200" font-family='"DejaVu Sans Light","DejaVu Sans",sans-serif'>(</text><text x="44.4" y="0" font-size="42" font-style="italic">θ</text><text x="72.5" y="11.8" font-size="29.4" font-style="italic">l</text><text x="74.3" y="-19.2" font-size="30.5" font-style="italic">(lf)</text><text x="115.6" y="3.2" font-size="58" font-weight="200" font-family='"DejaVu Sans Light","DejaVu Sans",sans-serif'>)</text></g>
<g transform="translate(243.4,1494.8)"><text x="0" y="0" font-size="42">P</text><text x="25.8" y="3.2" font-size="58" font-weight="200" font-family='"DejaVu Sans Light","DejaVu Sans",sans-serif'>(</text><text x="46.3" y="0" font-size="42" font-style="italic">χ</text><text x="70.4" y="11.8" font-size="29.4" font-style="italic">l</text><text x="71.5" y="-19.2" font-size="30.5" font-style="italic">(lf)</text><text x="114.2" y="3.2" font-size="58" font-weight="200" font-family='"DejaVu Sans Light","DejaVu Sans",sans-serif'>)</text></g>
<g transform="translate(137.1,1286) rotate(-90)"><text x="0" y="0" font-size="42" font-style="italic">θ</text><text x="27" y="11.8" font-size="29.4" font-style="italic">l</text><text x="30.3" y="-19.2" font-size="30.5" font-style="italic">(lf)</text></g>
<g transform="translate(138.7,1589.8) rotate(-90)"><text x="0" y="0" font-size="42" font-style="italic">χ</text><text x="24" y="11.8" font-size="29.4" font-style="italic">l</text><text x="28" y="-19.2" font-size="30.5" font-style="italic">(lf)</text></g>
<line x1="566.3" y1="455" x2="566.3" y2="1697.7" stroke="#000" stroke-width="2.5" stroke-opacity="0.7"/>
<line x1="656.6" y1="455" x2="656.6" y2="1697.7" stroke="#000" stroke-width="2.5" stroke-opacity="0.7"/>
<line x1="692.4" y1="455" x2="692.4" y2="1697.7" stroke="#000" stroke-width="2.5" stroke-opacity="0.7"/>
<line x1="566.3" y1="1697.7" x2="337" y2="1774" stroke="#000" stroke-width="2.3" stroke-opacity="0.7"/>
<line x1="656.6" y1="1697.7" x2="646.3" y2="1774.5" stroke="#000" stroke-width="2.3" stroke-opacity="0.7"/>
<line x1="692.4" y1="1697.7" x2="952.9" y2="1774.8" stroke="#000" stroke-width="2.3" stroke-opacity="0.7"/>
<g clip-path="url(#cf199)">
<path d="M199.6,2011.74 200.91,2011.77 202.22,2011.88 203.53,2012.07 204.84,2012.32 206.15,2012.65 207.45,2013.05 208.76,2013.51 210.07,2014.03 211.38,2014.62 212.69,2015.26 214,2015.96 215.31,2016.71 216.62,2017.5 217.93,2018.33 219.24,2019.2 220.55,2020.1 221.86,2021.02 223.16,2021.97 224.47,2022.93 225.78,2023.9 227.09,2024.87 228.4,2025.84 229.71,2026.81 231.02,2027.76 232.33,2028.7 233.64,2029.61 234.95,2030.5 236.26,2031.35 237.56,2032.16 238.87,2032.93 240.18,2033.65 241.49,2034.31 242.8,2034.92 244.11,2035.47 245.42,2035.95 246.73,2036.37 248.04,2036.71 249.35,2036.97 250.66,2037.16 251.97,2037.26 253.27,2037.28 254.58,2037.2 255.89,2037.04 257.2,2036.79 258.51,2036.44 259.82,2035.99 261.13,2035.44 262.44,2034.8 263.75,2034.05 265.06,2033.19 266.37,2032.24 267.67,2031.18 268.98,2030.01 270.29,2028.73 271.6,2027.35 272.91,2025.86 274.22,2024.26 275.53,2022.56 276.84,2020.75 278.15,2018.83 279.46,2016.81 280.77,2014.69 282.08,2012.46 283.38,2010.14 284.69,2007.71 286,2005.19 287.31,2002.58 288.62,1999.87 289.93,1997.09 291.24,1994.21 292.55,1991.27 293.86,1988.24 295.17,1985.15 296.48,1982 297.78,1978.79 299.09,1975.54 300.4,1972.23 301.71,1968.9 303.02,1965.53 304.33,1962.14 305.64,1958.74 306.95,1955.33 308.26,1951.93 309.57,1948.55 310.88,1945.18 312.19,1941.85 313.49,1938.56 314.8,1935.33 316.11,1932.15 317.42,1929.05 318.73,1926.02 320.04,1923.09 321.35,1920.26 322.66,1917.54 323.97,1914.94 325.28,1912.46 326.59,1910.13 327.89,1907.94 329.2,1905.9 330.51,1904.02 331.82,1902.31 333.13,1900.78 334.44,1899.42 335.75,1898.24 337.06,1897.26 338.37,1896.47 339.68,1895.87 340.99,1895.47 342.3,1895.27 343.6,1895.27 344.91,1895.47 346.22,1895.87 347.53,1896.47 348.84,1897.26 350.15,1898.24 351.46,1899.42 352.77,1900.78 354.08,1902.31 355.39,1904.02 356.7,1905.9 358.01,1907.94 359.31,1910.13 360.62,1912.46 361.93,1914.94 363.24,1917.54 364.55,1920.26 365.86,1923.09 367.17,1926.02 368.48,1929.05 369.79,1932.15 371.1,1935.33 372.41,1938.56 373.71,1941.85 375.02,1945.18 376.33,1948.55 377.64,1951.93 378.95,1955.33 380.26,1958.74 381.57,1962.14 382.88,1965.53 384.19,1968.9 385.5,1972.23 386.81,1975.54 388.12,1978.79 389.42,1982 390.73,1985.15 392.04,1988.24 393.35,1991.27 394.66,1994.21 395.97,1997.09 397.28,1999.87 398.59,2002.58 399.9,2005.19 401.21,2007.71 402.52,2010.14 403.82,2012.46 405.13,2014.69 406.44,2016.81 407.75,2018.83 409.06,2020.75 410.37,2022.56 411.68,2024.26 412.99,2025.86 414.3,2027.35 415.61,2028.73 416.92,2030.01 418.23,2031.18 419.53,2032.24 420.84,2033.19 422.15,2034.05 423.46,2034.8 424.77,2035.44 426.08,2035.99 427.39,2036.44 428.7,2036.79 430.01,2037.04 431.32,2037.2 432.63,2037.28 433.93,2037.26 435.24,2037.16 436.55,2036.97 437.86,2036.71 439.17,2036.37 440.48,2035.95 441.79,2035.47 443.1,2034.92 444.41,2034.31 445.72,2033.65 447.03,2032.93 448.34,2032.16 449.64,2031.35 450.95,2030.5 452.26,2029.61 453.57,2028.7 454.88,2027.76 456.19,2026.81 457.5,2025.84 458.81,2024.87 460.12,2023.9 461.43,2022.93 462.74,2021.97 464.04,2021.02 465.35,2020.1 466.66,2019.2 467.97,2018.33 469.28,2017.5 470.59,2016.71 471.9,2015.96 473.21,2015.26 474.52,2014.62 475.83,2014.03 477.14,2013.51 478.45,2013.05 479.75,2012.65 481.06,2012.32 482.37,2012.07 483.68,2011.88 484.99,2011.77 486.3,2011.74" fill="none" stroke="#222222" stroke-width="2.8" stroke-linejoin="round"/>
<line x1="198.1" y1="1976.7" x2="486.3" y2="1976.7" stroke="#222222" stroke-width="3" stroke-dasharray="9.5 4.2"/>
</g>
<rect x="199.6" y="1773.8" width="286.7" height="286.3" fill="none" stroke="#222" stroke-width="1.7"/>
<line x1="199.6" y1="2060.1" x2="199.6" y2="2066.1" stroke="#222" stroke-width="1.7"/>
<text x="199.6" y="2096.7" font-size="32.3" text-anchor="middle" fill="#000">0</text>
<line x1="382.12" y1="2060.1" x2="382.12" y2="2066.1" stroke="#222" stroke-width="1.7"/>
<text x="382.12" y="2096.7" font-size="32.3" text-anchor="middle" fill="#000">2</text>
<g clip-path="url(#cf505)">
<path d="M505,1848.15 506.3,1848.24 507.61,1848.51 508.91,1848.96 510.22,1849.59 511.52,1850.39 512.82,1851.37 514.13,1852.51 515.43,1853.82 516.74,1855.29 518.04,1856.91 519.35,1858.69 520.65,1860.6 521.95,1862.65 523.26,1864.83 524.56,1867.13 525.87,1869.55 527.17,1872.07 528.47,1874.69 529.78,1877.4 531.08,1880.18 532.39,1883.04 533.69,1885.97 534.99,1888.94 536.3,1891.97 537.6,1895.03 538.91,1898.12 540.21,1901.23 541.52,1904.35 542.82,1907.48 544.12,1910.61 545.43,1913.73 546.73,1916.83 548.04,1919.91 549.34,1922.96 550.64,1925.98 551.95,1928.95 553.25,1931.89 554.56,1934.77 555.86,1937.6 557.16,1940.38 558.47,1943.1 559.77,1945.75 561.08,1948.34 562.38,1950.86 563.68,1953.31 564.99,1955.69 566.29,1958.01 567.6,1960.25 568.9,1962.42 570.21,1964.52 571.51,1966.54 572.81,1968.5 574.12,1970.38 575.42,1972.2 576.73,1973.95 578.03,1975.63 579.33,1977.24 580.64,1978.8 581.94,1980.28 583.25,1981.71 584.55,1983.08 585.85,1984.4 587.16,1985.65 588.46,1986.86 589.77,1988.01 591.07,1989.11 592.38,1990.16 593.68,1991.17 594.98,1992.13 596.29,1993.05 597.59,1993.93 598.9,1994.76 600.2,1995.56 601.5,1996.33 602.81,1997.05 604.11,1997.74 605.42,1998.4 606.72,1999.03 608.02,1999.62 609.33,2000.19 610.63,2000.73 611.94,2001.24 613.24,2001.72 614.55,2002.18 615.85,2002.61 617.15,2003.02 618.46,2003.4 619.76,2003.76 621.07,2004.1 622.37,2004.42 623.67,2004.72 624.98,2005 626.28,2005.26 627.59,2005.5 628.89,2005.72 630.19,2005.93 631.5,2006.12 632.8,2006.29 634.11,2006.45 635.41,2006.59 636.72,2006.71 638.02,2006.82 639.32,2006.92 640.63,2007 641.93,2007.07 643.24,2007.12 644.54,2007.16 645.84,2007.19 647.15,2007.2 648.45,2007.2 649.76,2007.19 651.06,2007.16 652.36,2007.12 653.67,2007.07 654.97,2007 656.28,2006.92 657.58,2006.82 658.88,2006.71 660.19,2006.59 661.49,2006.45 662.8,2006.29 664.1,2006.12 665.41,2005.93 666.71,2005.72 668.01,2005.5 669.32,2005.26 670.62,2005 671.93,2004.72 673.23,2004.42 674.53,2004.1 675.84,2003.76 677.14,2003.4 678.45,2003.02 679.75,2002.61 681.05,2002.18 682.36,2001.72 683.66,2001.24 684.97,2000.73 686.27,2000.19 687.58,1999.62 688.88,1999.03 690.18,1998.4 691.49,1997.74 692.79,1997.05 694.1,1996.33 695.4,1995.56 696.7,1994.76 698.01,1993.93 699.31,1993.05 700.62,1992.13 701.92,1991.17 703.22,1990.16 704.53,1989.11 705.83,1988.01 707.14,1986.86 708.44,1985.65 709.75,1984.4 711.05,1983.08 712.35,1981.71 713.66,1980.28 714.96,1978.8 716.27,1977.24 717.57,1975.63 718.87,1973.95 720.18,1972.2 721.48,1970.38 722.79,1968.5 724.09,1966.54 725.39,1964.52 726.7,1962.42 728,1960.25 729.31,1958.01 730.61,1955.69 731.92,1953.31 733.22,1950.86 734.52,1948.34 735.83,1945.75 737.13,1943.1 738.44,1940.38 739.74,1937.6 741.04,1934.77 742.35,1931.89 743.65,1928.95 744.96,1925.98 746.26,1922.96 747.56,1919.91 748.87,1916.83 750.17,1913.73 751.48,1910.61 752.78,1907.48 754.08,1904.35 755.39,1901.23 756.69,1898.12 758,1895.03 759.3,1891.97 760.61,1888.94 761.91,1885.97 763.21,1883.04 764.52,1880.18 765.82,1877.4 767.13,1874.69 768.43,1872.07 769.73,1869.55 771.04,1867.13 772.34,1864.83 773.65,1862.65 774.95,1860.6 776.25,1858.69 777.56,1856.91 778.86,1855.29 780.17,1853.82 781.47,1852.51 782.78,1851.37 784.08,1850.39 785.38,1849.59 786.69,1848.96 787.99,1848.51 789.3,1848.24 790.6,1848.15" fill="none" stroke="#222222" stroke-width="2.8" stroke-linejoin="round"/>
<line x1="503.5" y1="1976.7" x2="790.6" y2="1976.7" stroke="#222222" stroke-width="3" stroke-dasharray="9.5 4.2"/>
</g>
<rect x="505" y="1773.8" width="285.6" height="286.3" fill="none" stroke="#222" stroke-width="1.7"/>
<line x1="505" y1="2060.1" x2="505" y2="2066.1" stroke="#222" stroke-width="1.7"/>
<text x="505" y="2096.7" font-size="32.3" text-anchor="middle" fill="#000">0</text>
<line x1="686.82" y1="2060.1" x2="686.82" y2="2066.1" stroke="#222" stroke-width="1.7"/>
<text x="686.82" y="2096.7" font-size="32.3" text-anchor="middle" fill="#000">2</text>
<g clip-path="url(#cf809)">
<path d="M809.4,1778.2 810.71,1778.32 812.02,1778.69 813.33,1779.3 814.65,1780.16 815.96,1781.25 817.27,1782.59 818.58,1784.15 819.89,1785.94 821.2,1787.96 822.51,1790.18 823.83,1792.62 825.14,1795.26 826.45,1798.09 827.76,1801.11 829.07,1804.3 830.38,1807.66 831.69,1811.18 833.01,1814.85 834.32,1818.65 835.63,1822.58 836.94,1826.63 838.25,1830.79 839.56,1835.05 840.87,1839.4 842.19,1843.82 843.5,1848.31 844.81,1852.86 846.12,1857.46 847.43,1862.09 848.74,1866.76 850.05,1871.45 851.37,1876.15 852.68,1880.86 853.99,1885.56 855.3,1890.25 856.61,1894.91 857.92,1899.56 859.23,1904.16 860.55,1908.73 861.86,1913.25 863.17,1917.72 864.48,1922.12 865.79,1926.47 867.1,1930.74 868.41,1934.94 869.73,1939.05 871.04,1943.09 872.35,1947.03 873.66,1950.89 874.97,1954.64 876.28,1958.3 877.59,1961.85 878.91,1965.3 880.22,1968.64 881.53,1971.88 882.84,1974.99 884.15,1978 885.46,1980.89 886.77,1983.66 888.08,1986.31 889.4,1988.85 890.71,1991.27 892.02,1993.57 893.33,1995.75 894.64,1997.82 895.95,1999.77 897.26,2001.6 898.58,2003.33 899.89,2004.94 901.2,2006.44 902.51,2007.83 903.82,2009.12 905.13,2010.31 906.44,2011.4 907.76,2012.4 909.07,2013.31 910.38,2014.13 911.69,2014.86 913,2015.52 914.31,2016.1 915.62,2016.61 916.94,2017.05 918.25,2017.43 919.56,2017.76 920.87,2018.03 922.18,2018.25 923.49,2018.43 924.8,2018.56 926.12,2018.66 927.43,2018.72 928.74,2018.76 930.05,2018.77 931.36,2018.77 932.67,2018.74 933.98,2018.7 935.3,2018.64 936.61,2018.58 937.92,2018.51 939.23,2018.44 940.54,2018.37 941.85,2018.3 943.16,2018.23 944.48,2018.17 945.79,2018.11 947.1,2018.07 948.41,2018.02 949.72,2017.99 951.03,2017.97 952.34,2017.96 953.66,2017.96 954.97,2017.97 956.28,2017.99 957.59,2018.02 958.9,2018.07 960.21,2018.11 961.52,2018.17 962.84,2018.23 964.15,2018.3 965.46,2018.37 966.77,2018.44 968.08,2018.51 969.39,2018.58 970.7,2018.64 972.02,2018.7 973.33,2018.74 974.64,2018.77 975.95,2018.77 977.26,2018.76 978.57,2018.72 979.88,2018.66 981.2,2018.56 982.51,2018.43 983.82,2018.25 985.13,2018.03 986.44,2017.76 987.75,2017.43 989.06,2017.05 990.38,2016.61 991.69,2016.1 993,2015.52 994.31,2014.86 995.62,2014.13 996.93,2013.31 998.24,2012.4 999.56,2011.4 1000.87,2010.31 1002.18,2009.12 1003.49,2007.83 1004.8,2006.44 1006.11,2004.94 1007.42,2003.33 1008.74,2001.6 1010.05,1999.77 1011.36,1997.82 1012.67,1995.75 1013.98,1993.57 1015.29,1991.27 1016.6,1988.85 1017.92,1986.31 1019.23,1983.66 1020.54,1980.89 1021.85,1978 1023.16,1974.99 1024.47,1971.88 1025.78,1968.64 1027.09,1965.3 1028.41,1961.85 1029.72,1958.3 1031.03,1954.64 1032.34,1950.89 1033.65,1947.03 1034.96,1943.09 1036.27,1939.05 1037.59,1934.94 1038.9,1930.74 1040.21,1926.47 1041.52,1922.12 1042.83,1917.72 1044.14,1913.25 1045.45,1908.73 1046.77,1904.16 1048.08,1899.56 1049.39,1894.91 1050.7,1890.25 1052.01,1885.56 1053.32,1880.86 1054.63,1876.15 1055.95,1871.45 1057.26,1866.76 1058.57,1862.09 1059.88,1857.46 1061.19,1852.86 1062.5,1848.31 1063.81,1843.82 1065.13,1839.4 1066.44,1835.05 1067.75,1830.79 1069.06,1826.63 1070.37,1822.58 1071.68,1818.65 1072.99,1814.85 1074.31,1811.18 1075.62,1807.66 1076.93,1804.3 1078.24,1801.11 1079.55,1798.09 1080.86,1795.26 1082.17,1792.62 1083.49,1790.18 1084.8,1787.96 1086.11,1785.94 1087.42,1784.15 1088.73,1782.59 1090.04,1781.25 1091.35,1780.16 1092.67,1779.3 1093.98,1778.69 1095.29,1778.32 1096.6,1778.2" fill="none" stroke="#222222" stroke-width="2.8" stroke-linejoin="round"/>
<line x1="807.9" y1="1976.7" x2="1096.6" y2="1976.7" stroke="#222222" stroke-width="3" stroke-dasharray="9.5 4.2"/>
</g>
<rect x="809.4" y="1773.8" width="287.2" height="286.3" fill="none" stroke="#222" stroke-width="1.7"/>
<line x1="809.4" y1="2060.1" x2="809.4" y2="2066.1" stroke="#222" stroke-width="1.7"/>
<text x="809.4" y="2096.7" font-size="32.3" text-anchor="middle" fill="#000">0</text>
<line x1="992.24" y1="2060.1" x2="992.24" y2="2066.1" stroke="#222" stroke-width="1.7"/>
<text x="992.24" y="2096.7" font-size="32.3" text-anchor="middle" fill="#000">2</text>
<line x1="193.6" y1="1805.1" x2="199.6" y2="1805.1" stroke="#222" stroke-width="1.7"/>
<text x="185.4" y="1816.9" font-size="32.3" text-anchor="end" fill="#000">0.510</text>
<line x1="193.6" y1="1891.2" x2="199.6" y2="1891.2" stroke="#222" stroke-width="1.7"/>
<text x="185.4" y="1903" font-size="32.3" text-anchor="end" fill="#000">0.505</text>
<line x1="193.6" y1="1976.7" x2="199.6" y2="1976.7" stroke="#222" stroke-width="1.7"/>
<text x="185.4" y="1988.5" font-size="32.3" text-anchor="end" fill="#000">0.500</text>
<text x="1121.3" y="1831.5" font-size="62" text-anchor="middle" fill="#000">f</text>
<g clip-path="url(#cg199)">
<path d="M199.6,2298.9 200.8,2298.87 202,2298.78 203.2,2298.63 204.4,2298.41 205.6,2298.14 206.8,2297.8 208,2297.39 209.2,2296.93 210.4,2296.39 211.6,2295.79 212.8,2295.12 213.99,2294.38 215.19,2293.57 216.39,2292.69 217.59,2291.73 218.79,2290.7 219.99,2289.6 221.19,2288.42 222.39,2287.16 223.59,2285.84 224.79,2284.43 225.99,2282.96 227.19,2281.41 228.39,2279.8 229.59,2278.11 230.79,2276.36 231.99,2274.56 233.19,2272.69 234.39,2270.77 235.59,2268.8 236.79,2266.79 237.99,2264.74 239.19,2262.66 240.39,2260.56 241.59,2258.44 242.78,2256.31 243.98,2254.18 245.18,2252.05 246.38,2249.94 247.58,2247.85 248.78,2245.8 249.98,2243.78 251.18,2241.82 252.38,2239.91 253.58,2238.07 254.78,2236.3 255.98,2234.62 257.18,2233.03 258.38,2231.54 259.58,2230.15 260.78,2228.88 261.98,2227.73 263.18,2226.71 264.38,2225.81 265.58,2225.05 266.78,2224.43 267.98,2223.96 269.18,2223.63 270.38,2223.44 271.57,2223.4 272.77,2223.52 273.97,2223.77 275.17,2224.18 276.37,2224.73 277.57,2225.42 278.77,2226.24 279.97,2227.2 281.17,2228.29 282.37,2229.5 283.57,2230.83 284.77,2232.27 285.97,2233.81 287.17,2235.45 288.37,2237.17 289.57,2238.98 290.77,2240.85 291.97,2242.79 293.17,2244.78 294.37,2246.82 295.57,2248.89 296.77,2251 297.97,2253.11 299.17,2255.24 300.36,2257.38 301.56,2259.5 302.76,2261.61 303.96,2263.71 305.16,2265.77 306.36,2267.8 307.56,2269.79 308.76,2271.74 309.96,2273.63 311.16,2275.47 312.36,2277.25 313.56,2278.96 314.76,2280.61 315.96,2282.19 317.16,2283.71 318.36,2285.14 319.56,2286.51 320.76,2287.8 321.96,2289.02 323.16,2290.16 324.36,2291.23 325.56,2292.22 326.76,2293.14 327.96,2293.98 329.15,2294.76 330.35,2295.46 331.55,2296.1 332.75,2296.67 333.95,2297.17 335.15,2297.6 336.35,2297.97 337.55,2298.28 338.75,2298.53 339.95,2298.71 341.15,2298.83 342.35,2298.89 343.55,2298.89 344.75,2298.83 345.95,2298.71 347.15,2298.53 348.35,2298.28 349.55,2297.97 350.75,2297.6 351.95,2297.17 353.15,2296.67 354.35,2296.1 355.55,2295.46 356.75,2294.76 357.94,2293.98 359.14,2293.14 360.34,2292.22 361.54,2291.23 362.74,2290.16 363.94,2289.02 365.14,2287.8 366.34,2286.51 367.54,2285.14 368.74,2283.71 369.94,2282.19 371.14,2280.61 372.34,2278.96 373.54,2277.25 374.74,2275.47 375.94,2273.63 377.14,2271.74 378.34,2269.79 379.54,2267.8 380.74,2265.77 381.94,2263.71 383.14,2261.61 384.34,2259.5 385.54,2257.38 386.73,2255.24 387.93,2253.11 389.13,2251 390.33,2248.89 391.53,2246.82 392.73,2244.78 393.93,2242.79 395.13,2240.85 396.33,2238.98 397.53,2237.17 398.73,2235.45 399.93,2233.81 401.13,2232.27 402.33,2230.83 403.53,2229.5 404.73,2228.29 405.93,2227.2 407.13,2226.24 408.33,2225.42 409.53,2224.73 410.73,2224.18 411.93,2223.77 413.13,2223.52 414.33,2223.4 415.52,2223.44 416.72,2223.63 417.92,2223.96 419.12,2224.43 420.32,2225.05 421.52,2225.81 422.72,2226.71 423.92,2227.73 425.12,2228.88 426.32,2230.15 427.52,2231.54 428.72,2233.03 429.92,2234.62 431.12,2236.3 432.32,2238.07 433.52,2239.91 434.72,2241.82 435.92,2243.78 437.12,2245.8 438.32,2247.85 439.52,2249.94 440.72,2252.05 441.92,2254.18 443.12,2256.31 444.31,2258.44 445.51,2260.56 446.71,2262.66 447.91,2264.74 449.11,2266.79 450.31,2268.8 451.51,2270.77 452.71,2272.69 453.91,2274.56 455.11,2276.36 456.31,2278.11 457.51,2279.8 458.71,2281.41 459.91,2282.96 461.11,2284.43 462.31,2285.84 463.51,2287.16 464.71,2288.42 465.91,2289.6 467.11,2290.7 468.31,2291.73 469.51,2292.69 470.71,2293.57 471.91,2294.38 473.1,2295.12 474.3,2295.79 475.5,2296.39 476.7,2296.93 477.9,2297.39 479.1,2297.8 480.3,2298.14 481.5,2298.41 482.7,2298.63 483.9,2298.78 485.1,2298.87 486.3,2298.9" fill="none" stroke="#222222" stroke-width="2.8" stroke-linejoin="round"/>
<line x1="198.1" y1="2265.1" x2="486.3" y2="2265.1" stroke="#222222" stroke-width="3" stroke-dasharray="9.5 4.2"/>
</g>
<rect x="199.6" y="2117.3" width="286.7" height="286.1" fill="none" stroke="#222" stroke-width="1.7"/>
<line x1="199.6" y1="2403.4" x2="199.6" y2="2409.4" stroke="#222" stroke-width="1.7"/>
<text x="199.6" y="2440.9" font-size="32.3" text-anchor="middle" fill="#000">0</text>
<line x1="428.96" y1="2403.4" x2="428.96" y2="2409.4" stroke="#222" stroke-width="1.7"/>
<text x="428.96" y="2440.9" font-size="32.3" text-anchor="middle" fill="#000">5</text>
<text x="342.95" y="2488" font-size="43" text-anchor="middle" fill="#000">Angle [rad]</text>
<g clip-path="url(#cg505)">
<path d="M505,2134.2 506.19,2134.4 507.39,2135 508.58,2135.99 509.78,2137.38 510.97,2139.16 512.17,2141.31 513.36,2143.84 514.56,2146.73 515.75,2149.97 516.95,2153.56 518.14,2157.47 519.34,2161.69 520.53,2166.21 521.73,2171.02 522.92,2176.08 524.12,2181.39 525.31,2186.93 526.51,2192.68 527.7,2198.61 528.9,2204.71 530.09,2210.97 531.29,2217.34 532.48,2223.83 533.68,2230.4 534.87,2237.03 536.07,2243.71 537.26,2250.42 538.46,2257.13 539.65,2263.82 540.85,2270.48 542.04,2277.09 543.24,2283.62 544.43,2290.07 545.63,2296.42 546.82,2302.64 548.02,2308.73 549.21,2314.67 550.41,2320.44 551.6,2326.03 552.8,2331.44 553.99,2336.64 555.19,2341.63 556.38,2346.4 557.58,2350.93 558.77,2355.23 559.97,2359.28 561.16,2363.07 562.36,2366.6 563.55,2369.86 564.75,2372.85 565.94,2375.56 567.14,2377.98 568.33,2380.12 569.53,2381.98 570.72,2383.54 571.92,2384.8 573.11,2385.77 574.31,2386.44 575.5,2386.82 576.7,2386.89 577.89,2386.67 579.09,2386.14 580.28,2385.32 581.48,2384.21 582.67,2382.79 583.87,2381.09 585.06,2379.09 586.26,2376.81 587.45,2374.24 588.65,2371.39 589.84,2368.26 591.04,2364.87 592.23,2361.21 593.43,2357.28 594.62,2353.11 595.82,2348.7 597.01,2344.04 598.21,2339.16 599.4,2334.06 600.6,2328.76 601.79,2323.26 602.99,2317.57 604.18,2311.72 605.38,2305.7 606.57,2299.55 607.77,2293.26 608.96,2286.86 610.16,2280.37 611.35,2273.79 612.55,2267.16 613.74,2260.48 614.94,2253.77 616.13,2247.06 617.33,2240.37 618.52,2233.71 619.72,2227.1 620.91,2220.57 622.11,2214.14 623.3,2207.82 624.5,2201.64 625.69,2195.62 626.89,2189.78 628.08,2184.13 629.28,2178.71 630.47,2173.52 631.67,2168.58 632.86,2163.92 634.06,2159.54 635.25,2155.47 636.45,2151.72 637.64,2148.31 638.84,2145.24 640.03,2142.53 641.23,2140.19 642.42,2138.22 643.62,2136.64 644.81,2135.45 646.01,2134.65 647.2,2134.25 648.4,2134.25 649.59,2134.65 650.79,2135.45 651.98,2136.64 653.18,2138.22 654.37,2140.19 655.57,2142.53 656.76,2145.24 657.96,2148.31 659.15,2151.72 660.35,2155.47 661.54,2159.54 662.74,2163.92 663.93,2168.58 665.13,2173.52 666.32,2178.71 667.52,2184.13 668.71,2189.78 669.91,2195.62 671.1,2201.64 672.3,2207.82 673.49,2214.14 674.69,2220.57 675.88,2227.1 677.08,2233.71 678.27,2240.37 679.47,2247.06 680.66,2253.77 681.86,2260.48 683.05,2267.16 684.25,2273.79 685.44,2280.37 686.64,2286.86 687.83,2293.26 689.03,2299.55 690.22,2305.7 691.42,2311.72 692.61,2317.57 693.81,2323.26 695,2328.76 696.2,2334.06 697.39,2339.16 698.59,2344.04 699.78,2348.7 700.98,2353.11 702.17,2357.28 703.37,2361.21 704.56,2364.87 705.76,2368.26 706.95,2371.39 708.15,2374.24 709.34,2376.81 710.54,2379.09 711.73,2381.09 712.93,2382.79 714.12,2384.21 715.32,2385.32 716.51,2386.14 717.71,2386.67 718.9,2386.89 720.1,2386.82 721.29,2386.44 722.49,2385.77 723.68,2384.8 724.88,2383.54 726.07,2381.98 727.27,2380.12 728.46,2377.98 729.66,2375.56 730.85,2372.85 732.05,2369.86 733.24,2366.6 734.44,2363.07 735.63,2359.28 736.83,2355.23 738.02,2350.93 739.22,2346.4 740.41,2341.63 741.61,2336.64 742.8,2331.44 744,2326.03 745.19,2320.44 746.39,2314.67 747.58,2308.73 748.78,2302.64 749.97,2296.42 751.17,2290.07 752.36,2283.62 753.56,2277.09 754.75,2270.48 755.95,2263.82 757.14,2257.13 758.34,2250.42 759.53,2243.71 760.73,2237.03 761.92,2230.4 763.12,2223.83 764.31,2217.34 765.51,2210.97 766.7,2204.71 767.9,2198.61 769.09,2192.68 770.29,2186.93 771.48,2181.39 772.68,2176.08 773.87,2171.02 775.07,2166.21 776.26,2161.69 777.46,2157.47 778.65,2153.56 779.85,2149.97 781.04,2146.73 782.24,2143.84 783.43,2141.31 784.63,2139.16 785.82,2137.38 787.02,2135.99 788.21,2135 789.41,2134.4 790.6,2134.2" fill="none" stroke="#222222" stroke-width="2.8" stroke-linejoin="round"/>
<line x1="503.5" y1="2265.1" x2="790.6" y2="2265.1" stroke="#222222" stroke-width="3" stroke-dasharray="9.5 4.2"/>
</g>
<rect x="505" y="2117.3" width="285.6" height="286.1" fill="none" stroke="#222" stroke-width="1.7"/>
<line x1="505" y1="2403.4" x2="505" y2="2409.4" stroke="#222" stroke-width="1.7"/>
<text x="505" y="2440.9" font-size="32.3" text-anchor="middle" fill="#000">0</text>
<line x1="733.48" y1="2403.4" x2="733.48" y2="2409.4" stroke="#222" stroke-width="1.7"/>
<text x="733.48" y="2440.9" font-size="32.3" text-anchor="middle" fill="#000">5</text>
<text x="647.8" y="2488" font-size="43" text-anchor="middle" fill="#000">Angle [rad]</text>
<g clip-path="url(#cg809)">
<path d="M809.4,2251.2 810.6,2251.25 811.8,2251.41 813.01,2251.66 814.21,2252.01 815.41,2252.46 816.61,2253 817.81,2253.63 819.01,2254.33 820.22,2255.11 821.42,2255.96 822.62,2256.86 823.82,2257.82 825.02,2258.82 826.22,2259.85 827.43,2260.9 828.63,2261.97 829.83,2263.04 831.03,2264.1 832.23,2265.16 833.43,2266.18 834.64,2267.18 835.84,2268.14 837.04,2269.05 838.24,2269.91 839.44,2270.7 840.64,2271.43 841.85,2272.09 843.05,2272.67 844.25,2273.18 845.45,2273.6 846.65,2273.94 847.85,2274.2 849.06,2274.37 850.26,2274.46 851.46,2274.48 852.66,2274.42 853.86,2274.28 855.06,2274.08 856.27,2273.81 857.47,2273.49 858.67,2273.12 859.87,2272.71 861.07,2272.25 862.27,2271.77 863.48,2271.27 864.68,2270.76 865.88,2270.24 867.08,2269.72 868.28,2269.22 869.48,2268.73 870.69,2268.26 871.89,2267.83 873.09,2267.44 874.29,2267.08 875.49,2266.78 876.69,2266.53 877.9,2266.33 879.1,2266.19 880.3,2266.12 881.5,2266.1 882.7,2266.15 883.9,2266.26 885.11,2266.42 886.31,2266.65 887.51,2266.92 888.71,2267.25 889.91,2267.63 891.11,2268.04 892.32,2268.49 893.52,2268.97 894.72,2269.47 895.92,2269.98 897.12,2270.5 898.32,2271.02 899.53,2271.53 900.73,2272.02 901.93,2272.48 903.13,2272.92 904.33,2273.31 905.53,2273.66 906.74,2273.95 907.94,2274.19 909.14,2274.36 910.34,2274.46 911.54,2274.48 912.74,2274.43 913.95,2274.29 915.15,2274.08 916.35,2273.78 917.55,2273.4 918.75,2272.93 919.95,2272.39 921.16,2271.77 922.36,2271.08 923.56,2270.31 924.76,2269.49 925.96,2268.6 927.16,2267.67 928.37,2266.69 929.57,2265.67 930.77,2264.63 931.97,2263.57 933.17,2262.5 934.37,2261.43 935.58,2260.37 936.78,2259.33 937.98,2258.31 939.18,2257.34 940.38,2256.41 941.58,2255.53 942.79,2254.71 943.99,2253.97 945.19,2253.3 946.39,2252.72 947.59,2252.23 948.79,2251.82 950,2251.52 951.2,2251.32 952.4,2251.21 953.6,2251.21 954.8,2251.32 956,2251.52 957.21,2251.82 958.41,2252.23 959.61,2252.72 960.81,2253.3 962.01,2253.97 963.21,2254.71 964.42,2255.53 965.62,2256.41 966.82,2257.34 968.02,2258.31 969.22,2259.33 970.42,2260.37 971.63,2261.43 972.83,2262.5 974.03,2263.57 975.23,2264.63 976.43,2265.67 977.63,2266.69 978.84,2267.67 980.04,2268.6 981.24,2269.49 982.44,2270.31 983.64,2271.08 984.84,2271.77 986.05,2272.39 987.25,2272.93 988.45,2273.4 989.65,2273.78 990.85,2274.08 992.05,2274.29 993.26,2274.43 994.46,2274.48 995.66,2274.46 996.86,2274.36 998.06,2274.19 999.26,2273.95 1000.47,2273.66 1001.67,2273.31 1002.87,2272.92 1004.07,2272.48 1005.27,2272.02 1006.47,2271.53 1007.68,2271.02 1008.88,2270.5 1010.08,2269.98 1011.28,2269.47 1012.48,2268.97 1013.68,2268.49 1014.89,2268.04 1016.09,2267.63 1017.29,2267.25 1018.49,2266.92 1019.69,2266.65 1020.89,2266.42 1022.1,2266.26 1023.3,2266.15 1024.5,2266.1 1025.7,2266.12 1026.9,2266.19 1028.1,2266.33 1029.31,2266.53 1030.51,2266.78 1031.71,2267.08 1032.91,2267.44 1034.11,2267.83 1035.31,2268.26 1036.52,2268.73 1037.72,2269.22 1038.92,2269.72 1040.12,2270.24 1041.32,2270.76 1042.52,2271.27 1043.73,2271.77 1044.93,2272.25 1046.13,2272.71 1047.33,2273.12 1048.53,2273.49 1049.73,2273.81 1050.94,2274.08 1052.14,2274.28 1053.34,2274.42 1054.54,2274.48 1055.74,2274.46 1056.94,2274.37 1058.15,2274.2 1059.35,2273.94 1060.55,2273.6 1061.75,2273.18 1062.95,2272.67 1064.15,2272.09 1065.36,2271.43 1066.56,2270.7 1067.76,2269.91 1068.96,2269.05 1070.16,2268.14 1071.36,2267.18 1072.57,2266.18 1073.77,2265.16 1074.97,2264.1 1076.17,2263.04 1077.37,2261.97 1078.57,2260.9 1079.78,2259.85 1080.98,2258.82 1082.18,2257.82 1083.38,2256.86 1084.58,2255.96 1085.78,2255.11 1086.99,2254.33 1088.19,2253.63 1089.39,2253 1090.59,2252.46 1091.79,2252.01 1092.99,2251.66 1094.2,2251.41 1095.4,2251.25 1096.6,2251.2" fill="none" stroke="#222222" stroke-width="2.8" stroke-linejoin="round"/>
<line x1="807.9" y1="2265.1" x2="1096.6" y2="2265.1" stroke="#222222" stroke-width="3" stroke-dasharray="9.5 4.2"/>
</g>
<rect x="809.4" y="2117.3" width="287.2" height="286.1" fill="none" stroke="#222" stroke-width="1.7"/>
<line x1="809.4" y1="2403.4" x2="809.4" y2="2409.4" stroke="#222" stroke-width="1.7"/>
<text x="809.4" y="2440.9" font-size="32.3" text-anchor="middle" fill="#000">0</text>
<line x1="1039.16" y1="2403.4" x2="1039.16" y2="2409.4" stroke="#222" stroke-width="1.7"/>
<text x="1039.16" y="2440.9" font-size="32.3" text-anchor="middle" fill="#000">5</text>
<text x="953" y="2488" font-size="43" text-anchor="middle" fill="#000">Angle [rad]</text>
<line x1="193.6" y1="2129.6" x2="199.6" y2="2129.6" stroke="#222" stroke-width="1.7"/>
<text x="185.4" y="2141.4" font-size="32.3" text-anchor="end" fill="#000">0.1600</text>
<line x1="193.6" y1="2210.3" x2="199.6" y2="2210.3" stroke="#222" stroke-width="1.7"/>
<text x="185.4" y="2222.1" font-size="32.3" text-anchor="end" fill="#000">0.1595</text>
<line x1="193.6" y1="2291.8" x2="199.6" y2="2291.8" stroke="#222" stroke-width="1.7"/>
<text x="185.4" y="2303.6" font-size="32.3" text-anchor="end" fill="#000">0.1590</text>
<line x1="193.6" y1="2372.9" x2="199.6" y2="2372.9" stroke="#222" stroke-width="1.7"/>
<text x="185.4" y="2384.7" font-size="32.3" text-anchor="end" fill="#000">0.1585</text>
<text x="1129.8" y="2172" font-size="62" text-anchor="middle" fill="#000">g</text>
<g transform="translate(65.7,1984.9) rotate(-90)"><text x="0" y="0" font-size="42">P</text><text x="25.8" y="3.2" font-size="58" font-weight="200" font-family='"DejaVu Sans Light","DejaVu Sans",sans-serif'>(</text><text x="44.4" y="0" font-size="42" font-style="italic">θ</text><text x="72.5" y="11.8" font-size="29.4" font-style="italic">l</text><text x="74.3" y="-19.2" font-size="30.5" font-style="italic">(lf)</text><text x="115.6" y="3.2" font-size="58" font-weight="200" font-family='"DejaVu Sans Light","DejaVu Sans",sans-serif'>)</text></g>
<g transform="translate(45.1,2327.4) rotate(-90)"><text x="0" y="0" font-size="42">P</text><text x="25.8" y="3.2" font-size="58" font-weight="200" font-family='"DejaVu Sans Light","DejaVu Sans",sans-serif'>(</text><text x="46.3" y="0" font-size="42" font-style="italic">χ</text><text x="70.4" y="11.8" font-size="29.4" font-style="italic">l</text><text x="71.5" y="-19.2" font-size="30.5" font-style="italic">(lf)</text><text x="114.2" y="3.2" font-size="58" font-weight="200" font-family='"DejaVu Sans Light","DejaVu Sans",sans-serif'>)</text></g>
</svg>
</body></html>
